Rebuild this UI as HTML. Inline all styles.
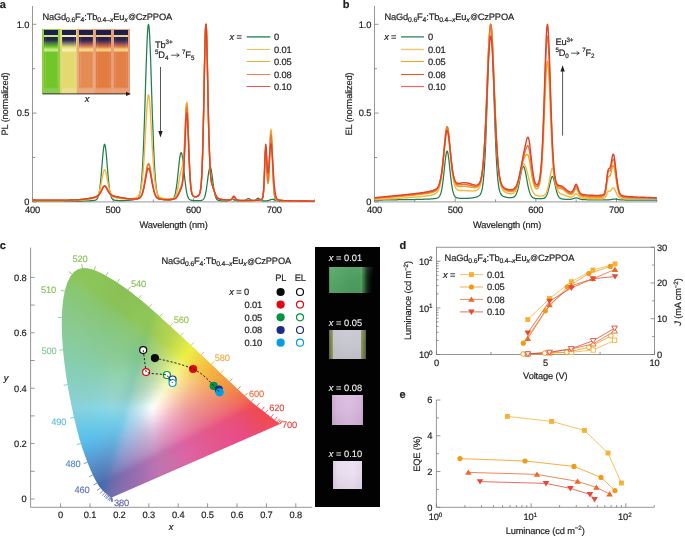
<!DOCTYPE html>
<html><head><meta charset="utf-8"><style>
html,body{margin:0;padding:0;background:#fff}
#root{position:relative;width:685px;height:537px;overflow:hidden;background:#fff}
svg{position:absolute;left:0;top:0;will-change:transform}
#root div{position:absolute}
#root b,#root i{position:absolute;display:block}
#cie i{left:0;width:100%}
#cuv b{top:0}
svg text{text-rendering:geometricPrecision;font-family:"Liberation Sans",sans-serif;fill:#231f20;stroke:#231f20;stroke-width:0.2px;letter-spacing:-0.15px}
</style></head><body><div id="root">
<div id="cuv" style="left:42.4px;top:29.4px;width:87.3px;height:64.3px;background:rgb(234,170,130)"><b style="left:0.00px;width:17.66px;height:64.3px;background:rgb(146,206,62)"></b><b style="left:1.70px;top:0.8px;width:14.16px;height:63.5px;background:linear-gradient(180deg,#1b1f4a 0,#1d2150 5px,rgb(196,232,120) 5.4px,rgb(196,232,120) 6.6px,#20224f 7.2px,#272653 10px,rgb(60,110,64) 12.5px,rgb(114,198,44) 17px,rgb(196,232,120) 19.2px,rgb(196,232,120) 20.8px,rgb(114,198,44) 22.5px,rgb(114,198,44) 57px,rgb(136,204,80) 59px,rgb(136,204,80) 64.3px)"></b><b style="left:2.30px;top:8px;width:1px;height:49px;background:rgba(255,255,255,0.1)"></b><b style="left:14.26px;top:8px;width:1px;height:49px;background:rgba(255,255,255,0.1)"></b><b style="left:17.46px;width:17.66px;height:64.3px;background:rgb(222,214,120)"></b><b style="left:19.16px;top:0.8px;width:14.16px;height:63.5px;background:linear-gradient(180deg,#1b1f4a 0,#1d2150 5px,rgb(244,238,170) 5.4px,rgb(244,238,170) 6.6px,#20224f 7.2px,#272653 10px,rgb(110,100,110) 12.5px,rgb(226,218,112) 17px,rgb(244,238,170) 19.2px,rgb(244,238,170) 20.8px,rgb(226,218,112) 22.5px,rgb(226,218,112) 57px,rgb(232,222,140) 59px,rgb(232,222,140) 64.3px)"></b><b style="left:19.76px;top:8px;width:1px;height:49px;background:rgba(255,255,255,0.1)"></b><b style="left:31.72px;top:8px;width:1px;height:49px;background:rgba(255,255,255,0.1)"></b><b style="left:34.92px;width:17.66px;height:64.3px;background:rgb(234,168,128)"></b><b style="left:36.62px;top:0.8px;width:14.16px;height:63.5px;background:linear-gradient(180deg,#1b1f4a 0,#1d2150 5px,rgb(246,212,130) 5.4px,rgb(246,212,130) 6.6px,#20224f 7.2px,#272653 10px,rgb(110,62,90) 12.5px,rgb(229,140,84) 17px,rgb(246,212,130) 19.2px,rgb(246,212,130) 20.8px,rgb(229,140,84) 22.5px,rgb(229,140,84) 57px,rgb(236,170,128) 59px,rgb(236,170,128) 64.3px)"></b><b style="left:37.22px;top:8px;width:1px;height:49px;background:rgba(255,255,255,0.1)"></b><b style="left:49.18px;top:8px;width:1px;height:49px;background:rgba(255,255,255,0.1)"></b><b style="left:52.38px;width:17.66px;height:64.3px;background:rgb(232,158,118)"></b><b style="left:54.08px;top:0.8px;width:14.16px;height:63.5px;background:linear-gradient(180deg,#1b1f4a 0,#1d2150 5px,rgb(246,200,120) 5.4px,rgb(246,200,120) 6.6px,#20224f 7.2px,#272653 10px,rgb(110,58,84) 12.5px,rgb(227,124,64) 17px,rgb(246,200,120) 19.2px,rgb(246,200,120) 20.8px,rgb(227,124,64) 22.5px,rgb(227,124,64) 57px,rgb(234,156,110) 59px,rgb(234,156,110) 64.3px)"></b><b style="left:54.68px;top:8px;width:1px;height:49px;background:rgba(255,255,255,0.1)"></b><b style="left:66.64px;top:8px;width:1px;height:49px;background:rgba(255,255,255,0.1)"></b><b style="left:69.84px;width:17.66px;height:64.3px;background:rgb(234,160,124)"></b><b style="left:71.54px;top:0.8px;width:14.16px;height:63.5px;background:linear-gradient(180deg,#1b1f4a 0,#1d2150 5px,rgb(246,204,126) 5.4px,rgb(246,204,126) 6.6px,#20224f 7.2px,#272653 10px,rgb(110,60,88) 12.5px,rgb(227,128,72) 17px,rgb(246,204,126) 19.2px,rgb(246,204,126) 20.8px,rgb(227,128,72) 22.5px,rgb(227,128,72) 57px,rgb(234,160,116) 59px,rgb(234,160,116) 64.3px)"></b><b style="left:72.14px;top:8px;width:1px;height:49px;background:rgba(255,255,255,0.1)"></b><b style="left:84.10px;top:8px;width:1px;height:49px;background:rgba(255,255,255,0.1)"></b></div><div id="cie" style="left:59px;top:266px;width:223px;height:234px"><i style="top:2px;height:3px;background:linear-gradient(90deg,#8ac358 17px,#8bc459 20px,#8bc459 24px,#8bc459 27px,#8bc459 31px,#8bc459 34px)"></i><i style="top:4px;height:3px;background:linear-gradient(90deg,#8ac358 14px,#8bc359 17px,#8bc459 21px,#8bc459 25px,#8bc459 29px,#8bc459 32px,#8bc459 36px,#8bc459 40px)"></i><i style="top:6px;height:3px;background:linear-gradient(90deg,#8ac35b 12px,#8bc359 15px,#8bc459 19px,#8bc459 22px,#8bc559 26px,#8bc559 30px,#8bc559 34px,#8bc459 37px,#8bc459 41px,#8ac358 44px)"></i><i style="top:8px;height:3px;background:linear-gradient(90deg,#8ac460 10px,#8ac45c 14px,#8bc459 18px,#8bc559 22px,#8bc559 25px,#8bc559 29px,#8bc559 33px,#8bc459 37px,#8bc459 41px,#8bc358 45px,#8ac358 48px)"></i><i style="top:10px;height:3px;background:linear-gradient(90deg,#8ac566 8px,#8ac561 12px,#8bc45c 16px,#8bc55a 20px,#8bc559 24px,#8cc55a 28px,#8cc55a 32px,#8bc559 36px,#8bc459 40px,#8bc359 44px,#8ac358 48px,#8ac258 52px)"></i><i style="top:12px;height:3px;background:linear-gradient(90deg,#89c56a 8px,#8ac566 12px,#8bc561 16px,#8bc55c 20px,#8cc55a 24px,#8cc55a 28px,#8cc55a 32px,#8bc559 36px,#8bc459 40px,#8bc459 44px,#8ac358 48px,#8ac258 52px,#8ac258 56px)"></i><i style="top:14px;height:3px;background:linear-gradient(90deg,#89c56d 6px,#8ac66a 10px,#8ac666 14px,#8bc661 18px,#8bc55c 22px,#8cc55a 26px,#8cc55a 30px,#8cc55a 34px,#8bc559 38px,#8bc459 42px,#8bc358 46px,#8ac358 50px,#8ac258 54px,#8ac257 58px)"></i><i style="top:16px;height:3px;background:linear-gradient(90deg,#89c670 6px,#89c66e 9px,#8ac66b 13px,#8ac667 17px,#8bc662 21px,#8bc65d 24px,#8cc65a 28px,#8cc55a 32px,#8cc559 36px,#8bc559 39px,#8bc459 43px,#8bc358 47px,#8ac258 51px,#8ac258 54px,#8ac257 58px,#8ac157 62px)"></i><i style="top:18px;height:3px;background:linear-gradient(90deg,#89c673 5px,#89c670 9px,#8ac66d 13px,#8ac76a 17px,#8bc766 21px,#8bc660 25px,#8cc65b 29px,#8cc55a 33px,#8bc559 37px,#8bc459 41px,#8bc359 45px,#8ac358 49px,#8ac258 53px,#8ac258 57px,#8ac157 61px,#8ac157 65px)"></i><i style="top:20px;height:3px;background:linear-gradient(90deg,#89c675 4px,#89c673 8px,#8ac770 12px,#8ac76e 16px,#8bc76a 20px,#8bc766 24px,#8bc660 28px,#8cc55b 32px,#8bc55a 36px,#8bc459 40px,#8bc459 44px,#8ac358 48px,#8ac258 52px,#8ac258 56px,#8ac157 60px,#8ac157 64px,#8ac157 68px)"></i><i style="top:22px;height:3px;background:linear-gradient(90deg,#88c677 4px,#89c775 7px,#89c773 11px,#8ac770 15px,#8ac76d 19px,#8bc76a 23px,#8bc765 27px,#8bc65f 31px,#8bc55a 35px,#8bc459 39px,#8bc459 43px,#8ac358 47px,#8ac258 51px,#8ac258 55px,#8ac157 59px,#8ac157 63px,#8ac157 67px,#8ac157 70px)"></i><i style="top:24px;height:3px;background:linear-gradient(90deg,#88c779 3px,#89c777 7px,#89c775 11px,#8ac773 15px,#8ac770 19px,#8ac76d 22px,#8bc769 26px,#8bc664 30px,#8bc55e 34px,#8bc45a 38px,#8bc459 42px,#8ac358 46px,#8ac258 50px,#8ac258 54px,#8ac257 57px,#8ac157 61px,#8ac157 65px,#8ac157 69px,#8ac157 73px)"></i><i style="top:26px;height:3px;background:linear-gradient(90deg,#88c77b 2px,#89c779 6px,#89c777 10px,#89c775 14px,#8ac773 18px,#8ac770 22px,#8ac76d 26px,#8bc769 29px,#8bc663 33px,#8bc55d 37px,#8bc459 41px,#8ac358 45px,#8ac258 49px,#8ac258 52px,#8ac257 56px,#8ac157 60px,#8ac157 64px,#8ac157 68px,#8ac157 72px,#8ac257 76px)"></i><i style="top:28px;height:3px;background:linear-gradient(90deg,#88c77d 2px,#89c77b 6px,#89c779 10px,#89c777 14px,#8ac774 18px,#8ac772 22px,#8ac76f 26px,#8ac76b 30px,#8ac665 34px,#8bc45f 38px,#8ac35a 42px,#8ac358 46px,#8ac258 50px,#8ac257 54px,#8ac157 58px,#8ac157 62px,#8ac157 66px,#8ac157 70px,#8ac257 74px,#8ac257 78px)"></i><i style="top:30px;height:3px;background:linear-gradient(90deg,#88c77e 2px,#88c77d 6px,#89c77b 10px,#89c779 14px,#89c777 18px,#8ac774 22px,#8ac771 26px,#8ac76e 30px,#8ac66a 34px,#8ac565 38px,#8ac45e 42px,#8ac359 45px,#8ac258 49px,#8ac257 53px,#8ac157 57px,#8ac157 61px,#8ac157 65px,#8ac257 69px,#8ac257 73px,#8ac257 77px,#8bc257 81px)"></i><i style="top:32px;height:3px;background:linear-gradient(90deg,#88c780 2px,#88c77f 5px,#89c77d 9px,#89c77b 13px,#89c779 17px,#8ac777 21px,#8ac774 25px,#8ac771 29px,#8ac66e 33px,#8ac669 37px,#8ac464 41px,#8ac35d 44px,#8ac259 48px,#8ac258 52px,#8ac257 56px,#8ac157 60px,#8ac157 64px,#8ac257 68px,#8ac257 72px,#8bc257 76px,#8bc357 80px,#8bc357 84px)"></i><i style="top:34px;height:3px;background:linear-gradient(90deg,#88c782 1px,#88c780 5px,#89c77f 9px,#89c77d 13px,#89c77b 16px,#89c779 20px,#8ac777 24px,#8ac774 28px,#8ac771 32px,#8ac66d 36px,#8ac569 39px,#8ac464 43px,#8ac35d 47px,#8ac259 51px,#8ac257 55px,#8ac157 59px,#8ac257 62px,#8ac257 66px,#8ac257 70px,#8bc257 74px,#8bc357 78px,#8bc357 82px,#8bc357 86px)"></i><i style="top:36px;height:3px;background:linear-gradient(90deg,#88c884 1px,#88c882 5px,#89c880 9px,#89c87e 13px,#89c87c 17px,#89c77a 21px,#89c778 25px,#89c775 29px,#89c672 33px,#89c66f 37px,#89c56b 41px,#89c466 44px,#89c35f 48px,#8ac25a 52px,#8ac158 56px,#8ac257 60px,#8ac257 64px,#8ac257 68px,#8bc357 72px,#8bc357 76px,#8cc357 80px,#8cc457 84px,#8cc457 88px)"></i><i style="top:38px;height:3px;background:linear-gradient(90deg,#88c885 1px,#89c883 5px,#89c882 9px,#89c880 13px,#89c87e 17px,#89c77c 20px,#89c77a 24px,#89c778 28px,#89c775 32px,#89c672 36px,#89c56e 40px,#89c56a 44px,#89c465 48px,#89c25e 52px,#8ac259 55px,#8ac257 59px,#8ac257 63px,#8ac257 67px,#8bc357 71px,#8bc357 75px,#8cc457 79px,#8cc457 83px,#8cc458 87px,#8cc458 90px)"></i><i style="top:40px;height:3px;background:linear-gradient(90deg,#88c887 0px,#89c885 4px,#89c883 8px,#89c882 12px,#89c880 16px,#89c77e 20px,#89c77c 24px,#89c779 28px,#89c777 32px,#89c674 36px,#89c570 40px,#89c56d 44px,#89c468 48px,#89c361 52px,#8ac25b 56px,#8ac258 60px,#8ac257 64px,#8bc357 68px,#8bc357 72px,#8cc457 76px,#8dc457 80px,#8dc558 84px,#8dc558 88px,#8cc558 92px)"></i><i style="top:42px;height:3px;background:linear-gradient(90deg,#88c888 0px,#89c887 4px,#89c885 8px,#89c883 12px,#89c881 16px,#89c880 20px,#89c77e 24px,#89c77b 28px,#89c779 32px,#89c676 36px,#89c673 40px,#89c570 44px,#89c46c 48px,#89c467 52px,#89c361 56px,#8ac25a 60px,#8ac258 64px,#8bc357 67px,#8cc357 71px,#8cc457 75px,#8dc557 79px,#8dc558 83px,#8dc558 87px,#8dc558 91px,#8ec558 95px)"></i><i style="top:44px;height:3px;background:linear-gradient(90deg,#89c88a 0px,#89c888 4px,#89c887 8px,#8ac885 12px,#8ac883 16px,#8ac881 20px,#89c77f 24px,#89c77d 28px,#89c77b 32px,#89c679 35px,#89c676 39px,#89c573 43px,#89c570 47px,#89c46c 51px,#89c467 55px,#8ac360 59px,#8ac25a 63px,#8bc358 66px,#8cc357 70px,#8cc457 74px,#8dc557 78px,#8dc658 82px,#8ec658 86px,#8dc658 90px,#8dc558 94px,#95c956 98px)"></i><i style="top:46px;height:3px;background:linear-gradient(90deg,#89c98b 0px,#89c88a 4px,#8ac888 8px,#8ac886 12px,#8ac885 16px,#8ac883 20px,#8ac881 24px,#89c77f 28px,#89c77d 32px,#89c67a 36px,#89c678 40px,#88c675 44px,#89c571 48px,#89c56e 52px,#89c469 56px,#8ac463 60px,#8ac35c 64px,#8bc358 68px,#8cc457 72px,#8dc557 76px,#8ec658 80px,#8ec658 84px,#8ec658 88px,#8dc659 92px,#91c758 96px,#9dcd55 100px)"></i><i style="top:48px;height:3px;background:linear-gradient(90deg,#89c98d 0px,#8ac98b 4px,#8ac88a 8px,#8ac888 12px,#8ac886 16px,#8ac885 20px,#8ac883 24px,#89c781 27px,#89c77f 31px,#89c77d 35px,#89c67a 39px,#88c678 43px,#88c575 47px,#89c571 51px,#89c56d 55px,#89c469 59px,#8ac463 63px,#8bc45c 67px,#8cc458 71px,#8dc557 75px,#8ec658 78px,#8ec758 82px,#8ec758 86px,#8dc659 90px,#90c758 94px,#9acc56 98px,#a3cf53 102px)"></i><i style="top:50px;height:3px;background:linear-gradient(90deg,#89c98e 0px,#8ac98d 4px,#8ac98b 8px,#8ac88a 12px,#8ac888 16px,#8ac886 20px,#8ac884 24px,#89c882 28px,#89c780 32px,#89c77e 36px,#88c67c 40px,#88c679 44px,#88c676 48px,#89c573 52px,#89c56f 56px,#89c56b 60px,#8ac565 64px,#8bc45e 68px,#8dc559 72px,#8dc658 76px,#8ec658 80px,#8ec758 84px,#8ec759 88px,#8ec659 92px,#96ca57 96px,#a0ce54 100px,#a7d153 104px)"></i><i style="top:52px;height:3px;background:linear-gradient(90deg,#89c990 0px,#8ac98e 4px,#8ac98d 8px,#8bc98b 12px,#8bc98a 16px,#8ac888 20px,#8ac886 24px,#8ac884 28px,#89c782 32px,#89c780 36px,#88c77e 39px,#88c67c 43px,#88c679 47px,#88c676 51px,#89c573 55px,#89c56f 59px,#8ac56b 63px,#8bc565 67px,#8cc55e 71px,#8dc659 75px,#8ec658 79px,#8ec758 83px,#8ec759 87px,#8dc659 91px,#94c958 95px,#9ece55 99px,#a6d053 103px,#abd252 106px)"></i><i style="top:54px;height:3px;background:linear-gradient(90deg,#8ac991 0px,#8ac990 4px,#8bc98e 8px,#8bc98d 12px,#8bc98b 16px,#8bc98a 19px,#8ac888 23px,#8ac886 27px,#89c885 31px,#89c783 35px,#88c780 39px,#88c77e 43px,#88c67c 46px,#88c679 50px,#89c676 54px,#89c673 58px,#8ac66f 62px,#8bc66b 66px,#8cc665 70px,#8dc65e 74px,#8ec659 78px,#8ec758 81px,#8ec759 85px,#8dc659 89px,#91c859 93px,#9bcc56 97px,#a3cf54 101px,#a9d153 105px,#afd351 108px)"></i><i style="top:56px;height:3px;background:linear-gradient(90deg,#8aca93 0px,#8ac991 4px,#8bc990 8px,#8bc98e 12px,#8bc98d 16px,#8bc98b 20px,#8ac88a 24px,#8ac888 28px,#89c886 32px,#89c884 36px,#88c782 39px,#88c780 43px,#88c77d 47px,#88c67b 51px,#89c678 55px,#89c674 59px,#8ac671 63px,#8bc76d 67px,#8cc767 71px,#8dc761 75px,#8ec75b 79px,#8ec759 83px,#8dc759 87px,#8ec659 91px,#97ca57 95px,#a0ce55 99px,#a7d053 103px,#acd252 107px,#b2d450 110px)"></i><i style="top:58px;height:3px;background:linear-gradient(90deg,#8aca94 0px,#8bca93 4px,#8bca91 8px,#8bc990 12px,#8bc98e 16px,#8bc98d 19px,#8ac98b 23px,#8ac88a 27px,#89c888 31px,#89c886 35px,#88c784 39px,#88c782 43px,#88c780 47px,#88c77d 51px,#88c67a 55px,#89c678 58px,#8ac774 62px,#8ac771 66px,#8bc76d 70px,#8cc867 74px,#8dc761 78px,#8dc75b 82px,#8dc659 86px,#8dc659 90px,#94c958 94px,#9fcd56 97px,#a5cf54 101px,#aad152 105px,#b0d351 109px,#b6d64f 113px)"></i><i style="top:60px;height:3px;background:linear-gradient(90deg,#8aca96 0px,#8bca94 4px,#8bca93 8px,#8bca91 12px,#8bc990 16px,#8bc98e 20px,#8ac98d 24px,#8ac98b 28px,#89c889 32px,#89c888 36px,#88c886 40px,#88c783 44px,#88c781 48px,#88c77f 52px,#88c77c 56px,#89c779 59px,#8ac776 63px,#8ac773 67px,#8bc86f 71px,#8cc86a 75px,#8dc863 79px,#8dc75d 83px,#8cc65a 87px,#8fc759 91px,#9acb56 95px,#a2ce55 99px,#a8d053 103px,#add252 107px,#b3d450 111px,#bad74e 115px)"></i><i style="top:62px;height:3px;background:linear-gradient(90deg,#8aca97 0px,#8bca96 4px,#8bca94 8px,#8cca93 12px,#8bca92 16px,#8bc990 20px,#8bc98f 24px,#8ac98d 27px,#89c98b 31px,#89c88a 35px,#88c888 39px,#88c885 43px,#88c783 47px,#88c781 51px,#88c77f 55px,#89c77c 59px,#89c779 63px,#8ac876 67px,#8bc873 70px,#8bc86f 74px,#8cc86a 78px,#8cc763 82px,#8bc65d 86px,#8ec65a 90px,#98ca57 94px,#a1ce55 98px,#a6cf54 102px,#acd152 106px,#b2d351 110px,#b8d64f 114px,#bfd94d 118px)"></i><i style="top:64px;height:3px;background:linear-gradient(90deg,#8acb99 0px,#8bca97 4px,#8bca96 8px,#8bca95 12px,#8bca93 16px,#8bca92 20px,#8ac990 24px,#8ac98f 28px,#89c98d 32px,#89c88b 36px,#88c889 40px,#88c887 44px,#88c885 48px,#88c782 52px,#88c780 56px,#89c77d 60px,#89c87b 64px,#8ac878 68px,#8bc874 72px,#8bc871 76px,#8bc86c 80px,#8bc766 84px,#8ac55f 88px,#92c859 92px,#9dcc56 96px,#a4ce54 100px,#a9d053 104px,#afd251 108px,#b5d550 112px,#bcd84e 116px,#c4dc4c 120px)"></i><i style="top:66px;height:3px;background:linear-gradient(90deg,#8acb9a 0px,#8bcb99 4px,#8bca98 8px,#8bca96 12px,#8bca95 16px,#8bca93 20px,#8aca92 24px,#8ac990 27px,#89c98f 31px,#89c98d 35px,#88c88b 39px,#88c889 43px,#88c887 47px,#88c885 51px,#88c882 55px,#89c880 59px,#89c87e 63px,#89c87b 67px,#8ac878 71px,#8ac875 74px,#8ac871 78px,#8ac76d 82px,#89c667 86px,#8fc75f 90px,#9acb57 94px,#a2cd54 98px,#a7cf53 102px,#add152 106px,#b3d350 110px,#bad74e 114px,#c1da4d 118px,#c9de4b 122px)"></i><i style="top:68px;height:3px;background:linear-gradient(90deg,#8acb9c 0px,#8acb9a 4px,#8bcb99 8px,#8bca98 12px,#8bca96 16px,#8bca95 20px,#8aca93 24px,#89c992 28px,#89c990 32px,#89c98e 36px,#88c98c 40px,#88c88a 44px,#88c888 48px,#88c886 52px,#88c883 56px,#89c881 60px,#89c87f 64px,#89c87c 68px,#89c879 72px,#89c876 76px,#89c773 80px,#88c66f 84px,#8ac668 88px,#96ca5e 92px,#9fcc56 96px,#a5ce53 100px,#abd052 104px,#b1d350 108px,#b8d64f 112px,#bfd94d 116px,#c7dd4b 120px,#cfe249 124px)"></i><i style="top:70px;height:3px;background:linear-gradient(90deg,#89cb9d 0px,#8acb9c 4px,#8bcb9b 8px,#8bcb99 12px,#8bca98 16px,#8aca97 20px,#8aca95 24px,#89ca94 28px,#89c992 32px,#89c990 36px,#88c98e 40px,#88c98c 44px,#88c88a 48px,#88c888 51px,#88c886 55px,#89c884 59px,#89c881 63px,#89c87f 67px,#89c87d 71px,#89c87a 75px,#88c777 79px,#87c673 83px,#88c66f 87px,#92c967 91px,#9dcc5d 95px,#a4ce55 99px,#a9d052 102px,#afd250 106px,#b6d54f 110px,#bdd84d 114px,#c5dc4c 118px,#cde04a 122px,#d5e548 126px)"></i><i style="top:72px;height:3px;background:linear-gradient(90deg,#89cb9f 0px,#8acb9e 4px,#8acb9c 8px,#8acb9b 12px,#8acb9a 16px,#8aca98 20px,#8aca97 24px,#89ca95 28px,#89ca93 32px,#89c991 36px,#88c98f 40px,#88c98d 44px,#88c88b 48px,#89c889 52px,#89c887 56px,#89c885 60px,#89c883 64px,#89c881 68px,#88c87e 72px,#88c77c 76px,#87c779 80px,#86c575 84px,#8bc770 88px,#98cb69 92px,#a0cd5f 96px,#a7cf56 100px,#add151 104px,#b3d34f 108px,#bbd74e 112px,#c2db4c 116px,#cbdf4b 120px,#d3e349 124px,#dbe847 128px)"></i><i style="top:74px;height:3px;background:linear-gradient(90deg,#89cca0 0px,#89cb9f 4px,#8acb9e 8px,#8acb9d 12px,#8acb9b 16px,#8acb9a 20px,#89ca99 24px,#89ca97 28px,#89ca95 32px,#88ca93 36px,#88c991 40px,#88c98f 44px,#89c98d 48px,#89c98b 52px,#89c889 55px,#89c887 59px,#89c885 63px,#88c883 67px,#88c881 71px,#87c77f 75px,#86c77c 79px,#85c579 83px,#88c675 87px,#95ca6f 91px,#9ecd68 95px,#a5cf5e 99px,#abd055 103px,#b2d350 106px,#b9d64e 110px,#c1da4c 114px,#c9de4b 118px,#d1e249 122px,#d9e748 126px,#e1eb46 130px)"></i><i style="top:76px;height:3px;background:linear-gradient(90deg,#89cca2 1px,#89cca1 5px,#89cca0 9px,#8acb9e 13px,#8acb9d 17px,#89cb9b 21px,#89cb9a 25px,#89ca98 29px,#89ca96 33px,#88ca94 37px,#89c992 41px,#89c990 45px,#89c98e 49px,#89c98c 53px,#89c98a 57px,#89c888 61px,#88c886 65px,#88c884 69px,#87c782 73px,#86c780 77px,#84c67d 81px,#84c57a 85px,#8fc976 89px,#9bcd70 93px,#a3cf69 97px,#a9d15f 101px,#b0d354 105px,#b7d54e 109px,#bfd94c 113px,#c7dd4b 117px,#d0e249 121px,#d8e648 125px,#e0eb46 129px,#e7ee45 132px)"></i><i style="top:78px;height:3px;background:linear-gradient(90deg,#88cca4 1px,#89cca2 5px,#89cca1 9px,#89cca0 13px,#89cb9f 17px,#89cb9d 21px,#89cb9c 25px,#89cb9a 28px,#88ca98 32px,#88ca96 36px,#89ca94 40px,#89c992 44px,#89c990 48px,#89c98e 52px,#89c98c 56px,#89c98a 60px,#88c889 64px,#88c887 68px,#87c885 72px,#85c783 76px,#84c680 80px,#83c57e 83px,#8bc77a 87px,#98cc75 91px,#a1cf6f 95px,#a8d168 99px,#afd35e 103px,#b6d554 107px,#bdd84d 111px,#c6dd4b 115px,#cee149 119px,#d6e548 123px,#dfea46 127px,#e6ee45 131px,#eced44 134px)"></i><i style="top:80px;height:3px;background:linear-gradient(90deg,#88cca5 1px,#88cca4 5px,#89cca3 9px,#89cca2 13px,#89cca0 17px,#89cb9f 21px,#88cb9d 25px,#88cb9c 29px,#88cb9a 33px,#88ca97 37px,#89ca95 41px,#89ca93 45px,#89c991 49px,#89c98f 53px,#89c98d 57px,#89c98c 61px,#88c88a 65px,#87c888 69px,#86c787 73px,#84c684 77px,#82c582 81px,#84c57f 85px,#91ca7b 89px,#9cce76 93px,#a4d071 97px,#acd36a 101px,#b3d561 105px,#bbd855 109px,#c3db4d 113px,#cbe04a 117px,#d4e448 121px,#dde947 125px,#e5ed45 129px,#ebee44 133px,#eee845 136px)"></i><i style="top:82px;height:3px;background:linear-gradient(90deg,#87cca7 1px,#88cca6 5px,#88cca5 9px,#88cca4 13px,#88cca2 17px,#88cca1 21px,#88cb9f 25px,#88cb9d 29px,#88cb9b 33px,#88ca99 36px,#89ca97 40px,#89ca95 44px,#89ca93 48px,#8ac991 52px,#89c98f 56px,#89c98e 60px,#88c98c 64px,#87c88b 68px,#85c789 72px,#84c687 76px,#81c585 80px,#83c582 84px,#8fc97e 88px,#9bcd7a 92px,#a3d075 96px,#abd370 100px,#b3d669 104px,#bbd95f 107px,#c3dc53 111px,#cbe04b 115px,#d4e448 119px,#dce947 123px,#e4ed45 127px,#ebee44 131px,#eee845 135px,#f0e046 139px)"></i><i style="top:84px;height:3px;background:linear-gradient(90deg,#87cda9 2px,#87cda7 5px,#88cca6 9px,#88cca5 13px,#88cca4 17px,#88cca2 21px,#88cca1 25px,#88cb9f 29px,#88cb9d 33px,#89cb9a 37px,#89ca98 41px,#89ca96 45px,#8aca94 49px,#8aca92 53px,#8aca90 57px,#89c98f 61px,#88c98e 65px,#86c88c 69px,#84c78b 73px,#82c688 77px,#80c486 81px,#87c683 85px,#95cc7f 89px,#9fcf7b 93px,#a7d276 97px,#b0d571 101px,#b8d86a 105px,#c0dc61 109px,#c9df55 113px,#d1e34b 117px,#dae847 121px,#e2ec45 125px,#eaee44 129px,#eeea45 133px,#efe245 137px,#f1da46 141px)"></i><i style="top:86px;height:3px;background:linear-gradient(90deg,#87cdaa 2px,#87cda9 5px,#87cda8 9px,#87cca7 13px,#87cca6 17px,#88cca4 21px,#88cca3 25px,#88cca1 29px,#88cb9f 33px,#89cb9c 37px,#89cb9a 41px,#8aca98 45px,#8aca96 49px,#8aca94 53px,#8aca93 57px,#8aca91 60px,#89c990 64px,#87c98f 68px,#85c78d 72px,#82c68b 76px,#80c489 80px,#85c686 84px,#93cb83 88px,#9dcf7f 92px,#a6d27b 96px,#aed576 100px,#b7d871 104px,#c0dc6a 108px,#c8e061 112px,#d1e455 115px,#d9e84a 119px,#e1ec45 123px,#e9ee44 127px,#edeb44 131px,#efe345 135px,#f1db46 139px,#f2d546 143px)"></i><i style="top:88px;height:3px;background:linear-gradient(90deg,#87cdac 2px,#87cdab 6px,#87cdaa 10px,#87cda9 14px,#87cca7 18px,#87cca6 22px,#87cca4 26px,#88cca2 30px,#88cba0 34px,#89cb9e 38px,#89cb9b 42px,#8acb99 46px,#8acb97 50px,#8bcb95 54px,#8aca94 58px,#8aca93 62px,#88ca92 66px,#86c990 70px,#84c78f 74px,#81c58d 77px,#80c48a 81px,#8bc887 85px,#98cd84 89px,#a1d080 93px,#aad47c 97px,#b3d778 101px,#bcdb73 105px,#c6df6c 109px,#cfe464 113px,#d7e857 117px,#e0eb4b 121px,#e7ee45 125px,#edec44 129px,#efe445 133px,#f1dd46 137px,#f2d646 141px,#f3cf46 145px)"></i><i style="top:90px;height:3px;background:linear-gradient(90deg,#86cdae 2px,#86cdad 6px,#87cdac 10px,#87cdaa 14px,#87cda9 18px,#87cca8 22px,#87cca6 26px,#88cca4 30px,#88cca2 33px,#89cca0 37px,#89cb9d 41px,#8acb9b 45px,#8bcb99 49px,#8bcb98 53px,#8bcb96 57px,#8acb95 61px,#89ca94 65px,#87c993 69px,#84c891 73px,#81c690 77px,#80c58d 81px,#8ac88b 85px,#97cd87 89px,#a0d084 92px,#a9d481 96px,#b2d77d 100px,#bcdc78 104px,#c6e073 108px,#cfe46c 112px,#d8e963 116px,#e0ec56 120px,#e8ef4a 124px,#edec44 128px,#efe445 132px,#f1dd45 136px,#f2d646 140px,#f3cf45 144px,#f3c945 148px)"></i><i style="top:92px;height:3px;background:linear-gradient(90deg,#86ceaf 2px,#86cdae 6px,#86cdad 10px,#87cdac 14px,#87cdab 18px,#87cda9 22px,#87cca8 26px,#87cca6 30px,#88cca4 34px,#89cca1 38px,#8acc9f 42px,#8acc9d 46px,#8bcc9b 50px,#8bcc99 54px,#8bcc98 58px,#8bcb97 62px,#89cb96 66px,#87c995 70px,#83c893 74px,#80c591 78px,#83c68f 82px,#90cb8c 86px,#9bcf89 90px,#a5d286 94px,#aed683 98px,#b8da7f 102px,#c2df7a 106px,#cce375 110px,#d6e86f 114px,#dfec66 118px,#e7f059 122px,#ecee4c 126px,#efe746 130px,#f1de45 134px,#f2d745 138px,#f3d045 142px,#f4ca45 146px,#f4c444 150px)"></i><i style="top:94px;height:3px;background:linear-gradient(90deg,#86ceb1 2px,#86ceb0 6px,#86cdaf 10px,#86cdae 14px,#86cdad 18px,#87cdab 22px,#87cdaa 26px,#87cda8 30px,#88cca6 34px,#89cca3 38px,#8acca1 42px,#8bcc9f 46px,#8bcc9d 50px,#8ccc9c 53px,#8ccc9b 57px,#8bcc9a 61px,#8acb99 65px,#88ca98 69px,#84c896 73px,#81c694 77px,#82c692 81px,#90cb8f 85px,#9bcf8d 89px,#a4d28a 93px,#add687 97px,#b7da83 101px,#c1df80 104px,#cbe37b 108px,#d6e876 112px,#dfed6f 116px,#e8f166 120px,#edf05a 124px,#efe84d 128px,#f1df46 132px,#f2d845 136px,#f3d145 140px,#f4cb45 144px,#f4c544 148px,#f4c044 152px)"></i><i style="top:96px;height:3px;background:linear-gradient(90deg,#86ceb3 2px,#86ceb2 6px,#86ceb1 10px,#86ceb0 14px,#86cdae 18px,#87cdad 22px,#87cdab 26px,#87cda9 30px,#88cda7 34px,#89cda5 38px,#8acca3 42px,#8bcda1 46px,#8ccd9f 50px,#8dcd9e 54px,#8dcd9d 58px,#8ccd9c 62px,#8acc9b 66px,#87cb9a 70px,#84c898 74px,#81c696 78px,#88c894 82px,#96cd92 86px,#9fd08f 90px,#a9d48c 94px,#b2d889 98px,#bddd86 102px,#c7e282 106px,#d2e77e 110px,#dcec79 114px,#e6f172 118px,#edf269 122px,#f0ec5d 126px,#f1e250 130px,#f2d948 134px,#f3d245 138px,#f4cb45 142px,#f4c644 146px,#f4c043 150px,#f4bb43 154px)"></i><i style="top:98px;height:3px;background:linear-gradient(90deg,#86ceb4 3px,#86ceb3 7px,#86ceb2 11px,#86ceb1 15px,#86ceb0 19px,#87cdaf 23px,#87cdad 27px,#87cdab 30px,#88cda9 34px,#89cda7 38px,#8acda5 42px,#8bcda3 46px,#8ccda2 50px,#8dcea1 54px,#8dcea0 58px,#8dce9f 62px,#8bcd9e 66px,#88cb9d 70px,#85c99b 74px,#81c799 78px,#89c997 81px,#96cd95 85px,#a0d092 89px,#a9d490 93px,#b3d88d 97px,#bddd8b 101px,#c8e287 105px,#d3e884 109px,#dded7f 113px,#e7f279 117px,#eff372 121px,#f1ec67 125px,#f2e35c 129px,#f2da4f 132px,#f3d247 136px,#f4cb45 140px,#f4c544 144px,#f5c043 148px,#f5bb43 152px,#f4b742 156px)"></i><i style="top:100px;height:3px;background:linear-gradient(90deg,#86ceb6 3px,#86ceb5 7px,#86ceb4 11px,#86ceb3 15px,#86ceb2 19px,#87ceb1 23px,#87cdaf 27px,#87cdad 31px,#88cdab 35px,#89cda9 39px,#8acda7 43px,#8ccea6 47px,#8dcea4 51px,#8ecfa3 55px,#8ecfa2 59px,#8dcfa1 63px,#8ccea0 67px,#88cc9f 71px,#84c99d 75px,#83c89b 79px,#90cb99 82px,#9ccf97 86px,#a5d295 90px,#aed693 94px,#b8db90 98px,#c3e08e 102px,#cfe68b 106px,#daec87 110px,#e5f182 114px,#eef47c 118px,#f2f073 122px,#f3e669 126px,#f3dd5e 130px,#f3d452 134px,#f4cd48 138px,#f5c645 142px,#f5c144 146px,#f5bc43 150px,#f4b742 154px,#f4b342 158px)"></i><i style="top:102px;height:3px;background:linear-gradient(90deg,#86cfb8 4px,#86ceb7 7px,#86ceb6 11px,#86ceb5 15px,#86ceb4 19px,#87ceb2 23px,#87ceb1 27px,#87ceaf 31px,#88ceae 35px,#89ceac 39px,#8aceaa 43px,#8ccea8 47px,#8dcfa7 50px,#8ecfa6 54px,#8fd0a5 58px,#8ecfa4 62px,#8dcea3 66px,#8acda2 70px,#85caa0 74px,#85c89e 78px,#91cc9d 82px,#9ccf9b 86px,#a5d299 90px,#aed697 93px,#b8da95 97px,#c3e093 101px,#cfe690 105px,#daec8d 109px,#e5f289 113px,#eef584 117px,#f2f17b 121px,#f3e872 125px,#f4df68 129px,#f4d65e 133px,#f4ce52 137px,#f5c748 140px,#f5c144 144px,#f5bc43 148px,#f5b742 152px,#f4b342 156px,#f3af42 160px)"></i><i style="top:104px;height:3px;background:linear-gradient(90deg,#86cfb9 4px,#86cfb8 7px,#86ceb7 11px,#86ceb6 15px,#87ceb5 19px,#87ceb4 23px,#87ceb3 27px,#88ceb1 31px,#88ceb0 35px,#89ceae 39px,#8bceac 43px,#8ccfab 47px,#8ed0aa 51px,#8fd0a9 55px,#90d0a8 59px,#8fd0a7 63px,#8dcfa6 67px,#89cda4 71px,#85caa2 75px,#89caa1 79px,#97ce9f 83px,#a1d19e 87px,#aad49c 91px,#b4d89a 95px,#bfdd98 99px,#cae396 103px,#d6ea94 107px,#e2f091 110px,#edf58d 114px,#f3f485 118px,#f4eb7c 122px,#f4e273 126px,#f5d969 130px,#f5d15f 134px,#f5c954 138px,#f5c24a 142px,#f5bc44 146px,#f5b743 150px,#f5b342 154px,#f4af42 158px,#f3ab42 162px)"></i><i style="top:106px;height:3px;background:linear-gradient(90deg,#86cfbb 4px,#86cfba 8px,#86ceb9 12px,#87ceb8 16px,#87ceb7 20px,#87ceb6 24px,#87ceb5 27px,#88ceb4 31px,#88ceb2 35px,#89cfb1 39px,#8bcfaf 43px,#8dd0ae 47px,#8ed0ac 51px,#90d1ab 55px,#91d1aa 59px,#90d1aa 63px,#8ed0a8 67px,#8acda7 71px,#86caa5 74px,#8bcba4 78px,#99cfa3 82px,#a2d1a1 86px,#abd4a0 90px,#b5d89e 94px,#c0dd9d 98px,#cbe49b 102px,#d8ea99 106px,#e3f197 110px,#eef693 114px,#f4f48b 118px,#f5eb82 121px,#f5e279 125px,#f5d970 129px,#f5d167 133px,#f5c95e 137px,#f5c253 141px,#f5bc49 145px,#f5b644 149px,#f5b242 153px,#f4ae42 157px,#f3aa42 161px,#f2a643 164px)"></i><i style="top:108px;height:3px;background:linear-gradient(90deg,#86cfbd 4px,#86cfbc 8px,#87cfbb 12px,#87ceba 16px,#87ceb9 20px,#87ceb8 24px,#87ceb7 28px,#88ceb5 32px,#89cfb4 36px,#8acfb3 40px,#8cd0b1 44px,#8ed0b0 48px,#8fd1af 52px,#91d2ae 56px,#91d2ad 60px,#91d1ac 64px,#8ecfab 68px,#8acda9 72px,#87caa7 76px,#92cda6 80px,#9fd0a5 84px,#a8d3a4 87px,#b1d6a3 91px,#bbdba2 95px,#c7e1a1 99px,#d3e8a0 103px,#e0ef9e 107px,#ecf59b 111px,#f4f695 115px,#f6ef8b 119px,#f6e582 123px,#f6dc79 127px,#f6d370 131px,#f5cb68 135px,#f5c45f 139px,#f5bd54 143px,#f5b74a 147px,#f5b244 151px,#f4ae42 155px,#f3aa42 159px,#f2a642 163px,#f2a243 166px)"></i><i style="top:110px;height:3px;background:linear-gradient(90deg,#86cfbe 4px,#87cfbd 8px,#87cfbc 12px,#87cfbb 16px,#87ceba 20px,#87ceba 24px,#88cfb9 28px,#88cfb8 32px,#89cfb6 36px,#8acfb5 40px,#8cd0b4 44px,#8ed1b3 48px,#90d2b2 52px,#92d2b1 56px,#92d2af 60px,#91d1ae 64px,#8ecfad 68px,#89ccab 72px,#8bcbaa 76px,#99cfa9 80px,#a3d1a8 84px,#acd4a7 88px,#b6d8a7 92px,#c2dea6 96px,#cee5a5 100px,#dbeca4 104px,#e8f3a2 108px,#f2f79e 112px,#f6f295 116px,#f7e98b 120px,#f7e082 124px,#f6d679 128px,#f6ce71 132px,#f5c669 136px,#f5bf60 140px,#f5b956 144px,#f5b34c 148px,#f5ae45 152px,#f4aa43 156px,#f3a643 160px,#f2a243 164px,#f19e44 168px)"></i><i style="top:112px;height:3px;background:linear-gradient(90deg,#87cfc0 5px,#87cfbf 9px,#87cfbe 13px,#88cfbd 17px,#88cfbc 21px,#88cfbb 25px,#88cfbb 29px,#88cfba 33px,#89cfb9 37px,#8bd0b8 41px,#8cd1b7 45px,#8fd1b5 48px,#91d2b4 52px,#93d3b3 56px,#93d3b2 60px,#92d1b1 64px,#8ecfaf 68px,#8accad 72px,#8cccac 76px,#9acfac 80px,#a4d2ac 84px,#aed5ab 88px,#b8d9ab 92px,#c3deab 96px,#d0e5aa 100px,#ddedaa 104px,#eaf4a8 108px,#f4f7a4 112px,#f7f29b 116px,#f7e991 120px,#f7df87 124px,#f7d67f 128px,#f6ce77 131px,#f6c66f 135px,#f5bf67 139px,#f5b85e 143px,#f4b255 147px,#f4ad4b 151px,#f4a945 155px,#f3a543 159px,#f2a143 163px,#f19e44 167px,#f19a46 171px)"></i><i style="top:114px;height:3px;background:linear-gradient(90deg,#87cfc1 5px,#87cfc0 9px,#88cfbf 13px,#88cfbf 17px,#88cfbe 21px,#88cfbd 25px,#88cfbd 29px,#89cfbc 33px,#8ad0bb 37px,#8bd0ba 41px,#8dd1b9 45px,#90d2b8 49px,#92d3b7 53px,#93d3b6 57px,#93d2b4 61px,#91d1b3 65px,#8dceb1 69px,#89cbaf 73px,#92cdaf 77px,#9fd0af 81px,#a9d3af 85px,#b2d6af 89px,#bedbaf 93px,#cae2af 97px,#d7e9b0 101px,#e5f1af 105px,#f1f7ad 109px,#f7f5a5 113px,#f8ec9a 117px,#f8e390 121px,#f8d987 125px,#f7d07f 129px,#f6c877 133px,#f5c06f 137px,#f5b967 141px,#f4b35f 145px,#f4ae57 149px,#f4a94d 153px,#f3a546 157px,#f2a144 161px,#f19d44 165px,#f19946 169px,#f09547 173px)"></i><i style="top:116px;height:3px;background:linear-gradient(90deg,#87cfc3 6px,#88cfc2 9px,#88cfc1 13px,#89cfc0 17px,#89cfc0 21px,#89cfbf 25px,#89cfbf 29px,#89cfbe 33px,#8ad0bd 37px,#8bd1bd 41px,#8dd1bc 45px,#90d2bb 49px,#92d3b9 53px,#94d3b8 57px,#94d2b7 61px,#92d1b5 65px,#8eceb3 69px,#8acbb2 73px,#92cdb1 76px,#a0d1b2 80px,#a9d3b2 84px,#b3d7b2 88px,#bedcb3 92px,#cbe2b4 96px,#d8eab5 100px,#e6f1b5 104px,#f2f7b3 108px,#f7f4ab 112px,#f8eca0 116px,#f8e396 120px,#f8d98d 124px,#f7d084 128px,#f6c87d 132px,#f6c075 136px,#f5b96e 140px,#f4b367 143px,#f4ae5f 147px,#f3a957 151px,#f3a44e 155px,#f2a048 159px,#f29c45 163px,#f19946 167px,#f09547 171px,#f09049 175px)"></i><i style="top:118px;height:3px;background:linear-gradient(90deg,#88cfc5 6px,#88cfc4 10px,#89cfc3 14px,#89cfc2 18px,#89cfc1 22px,#89cfc1 26px,#89cfc1 30px,#89d0c0 34px,#8ad0c0 38px,#8cd1bf 42px,#8ed2be 46px,#91d2bd 50px,#93d3bc 54px,#95d3ba 58px,#94d2b9 62px,#91d0b7 66px,#8ccdb5 70px,#8ccbb4 74px,#99cfb4 78px,#a5d2b5 82px,#aed5b6 86px,#b9d9b7 90px,#c5dfb8 93px,#d3e6ba 97px,#e1eebb 101px,#eff6ba 105px,#f7f6b5 109px,#f9efa9 113px,#f9e59f 117px,#f9dc95 121px,#f8d38c 125px,#f7ca84 129px,#f6c27d 133px,#f5ba75 137px,#f4b36e 141px,#f3ae67 145px,#f3a960 149px,#f2a459 153px,#f2a051 157px,#f29c4a 161px,#f19847 165px,#f19447 169px,#f09049 173px,#f08b4a 177px)"></i><i style="top:120px;height:3px;background:linear-gradient(90deg,#88d0c6 6px,#89cfc5 10px,#89cfc4 14px,#8acfc4 18px,#8acfc3 22px,#8acfc3 26px,#89cfc3 30px,#8ad0c3 34px,#8bd1c2 38px,#8cd1c2 41px,#8fd2c1 45px,#91d3c0 49px,#94d3be 53px,#95d3bd 57px,#95d2bb 61px,#92d0b9 65px,#8dcdb7 69px,#8ccbb6 73px,#9acfb7 77px,#a5d2b8 81px,#afd5b9 85px,#badabb 89px,#c6e0bd 93px,#d4e7bf 97px,#e3efc0 101px,#f0f6c0 105px,#f8f6ba 109px,#f9eeae 112px,#f9e4a3 116px,#f9db9a 120px,#f8d291 124px,#f7c989 128px,#f6c181 132px,#f5b97a 136px,#f4b274 140px,#f3ac6d 144px,#f3a866 148px,#f2a360 152px,#f19f59 156px,#f19b51 160px,#f1974b 164px,#f19348 168px,#f08f49 172px,#f08a4a 176px,#f1864c 180px)"></i><i style="top:122px;height:3px;background:linear-gradient(90deg,#89d0c8 6px,#89cfc7 10px,#8acfc6 14px,#8acfc5 18px,#8acfc5 22px,#8acfc5 26px,#8ad0c5 30px,#8ad0c5 34px,#8bd1c5 38px,#8dd2c4 42px,#90d2c3 46px,#92d3c2 50px,#95d3c1 54px,#95d2bf 58px,#94d1bd 62px,#90cebb 66px,#8bcbb9 70px,#92ccb9 74px,#a0d1bb 78px,#aad4bc 82px,#b5d8be 86px,#c1ddc0 90px,#cfe4c2 94px,#ddecc5 98px,#ecf4c7 102px,#f6f7c3 106px,#f9f0b8 110px,#f9e7ad 114px,#f9dea2 118px,#f8d499 122px,#f7cb90 126px,#f6c288 130px,#f5ba81 134px,#f4b37a 138px,#f3ad74 142px,#f3a76e 146px,#f2a367 150px,#f19f61 154px,#f19b5b 158px,#f09754 162px,#f1924d 166px,#f18e4a 170px,#f18a4b 174px,#f1854c 178px,#f1814e 182px)"></i><i style="top:124px;height:3px;background:linear-gradient(90deg,#89d0ca 7px,#8acfc9 11px,#8bcfc8 15px,#8bcfc7 19px,#8bcfc7 23px,#8ad0c7 27px,#8ad0c7 31px,#8ad1c7 34px,#8bd1c7 38px,#8dd2c7 42px,#90d3c6 46px,#93d3c5 50px,#95d3c3 54px,#96d2c1 58px,#94d1bf 62px,#90cebd 66px,#8ccbbb 70px,#93cdbc 74px,#a1d1be 78px,#acd5bf 82px,#b6d9c1 85px,#c2dfc4 89px,#d0e6c7 93px,#dfeeca 97px,#eef5cc 101px,#f7f6c8 105px,#f9efbd 109px,#f9e6b1 113px,#f9dda7 117px,#f8d39d 121px,#f7ca95 125px,#f6c18d 129px,#f5b986 133px,#f4b27f 136px,#f3ab79 140px,#f2a673 144px,#f2a16d 148px,#f19d67 152px,#f09a61 156px,#f0965b 160px,#f09255 164px,#f08d4f 168px,#f1894c 172px,#f1844c 176px,#f1804e 180px,#f17b4f 184px)"></i><i style="top:126px;height:3px;background:linear-gradient(90deg,#89d0cc 7px,#8acfcb 11px,#8bcfca 15px,#8bcfc9 19px,#8bcfc9 23px,#8ad0ca 27px,#8ad0ca 31px,#8bd1ca 35px,#8cd2ca 39px,#8ed2c9 43px,#90d3c9 47px,#93d3c7 51px,#95d3c6 55px,#96d2c4 59px,#94d0c1 63px,#8fcdbf 66px,#8ccbbe 70px,#99cfc0 74px,#a6d3c2 78px,#b1d7c4 82px,#bcddc7 86px,#cae3ca 90px,#d9ebce 94px,#e8f3d1 98px,#f5f7d1 102px,#f9f3c8 106px,#fae9bb 110px,#f9e0b0 114px,#f8d6a6 118px,#f7cc9c 122px,#f6c394 126px,#f5ba8c 130px,#f4b286 134px,#f3ac7f 138px,#f2a67a 142px,#f2a174 146px,#f19d6e 150px,#f09968 154px,#f09563 158px,#ef915d 162px,#ef8d58 166px,#f08852 170px,#f1834e 174px,#f17f4e 178px,#f17a4f 182px,#f27650 186px)"></i><i style="top:128px;height:3px;background:linear-gradient(90deg,#8ad0ce 8px,#8bd0cd 11px,#8bcfcc 15px,#8bcfcc 19px,#8bd0cc 23px,#8bd0cc 27px,#8ad1cc 31px,#8bd1cd 35px,#8cd2cd 39px,#8ed3cc 43px,#90d3cb 47px,#93d3ca 51px,#95d3c8 55px,#96d2c6 59px,#94d0c4 62px,#8fcdc2 66px,#8eccc1 70px,#9cd0c3 74px,#a9d5c6 78px,#b3d9c8 82px,#bfdfcc 86px,#cde5cf 90px,#dcedd4 94px,#ecf5d7 98px,#f7f8d6 102px,#faf1cb 106px,#fae7bf 110px,#f9ddb4 113px,#f8d4a9 117px,#f7caa0 121px,#f6c198 125px,#f5b890 129px,#f4b089 133px,#f3aa83 137px,#f2a47d 141px,#f19f78 145px,#f19b73 149px,#f0976d 153px,#ef9368 157px,#ef9063 161px,#ef8c5e 164px,#ef8759 168px,#f08253 172px,#f17d50 176px,#f27950 180px,#f27450 184px,#f26f51 188px)"></i><i style="top:130px;height:3px;background:linear-gradient(90deg,#8ad0d0 8px,#8bd0cf 12px,#8bd0ce 16px,#8bd0ce 20px,#8bd0ce 24px,#8bd1cf 28px,#8ad1cf 32px,#8bd2d0 36px,#8cd3d0 40px,#8ed3cf 44px,#91d4ce 48px,#94d4cd 52px,#95d3cb 55px,#95d1c9 59px,#92cfc7 63px,#8ecdc5 67px,#93cec6 71px,#a3d3c9 75px,#afd8cc 79px,#baddcf 83px,#c7e4d2 87px,#d7ebd7 91px,#e7f3dc 95px,#f5f8de 99px,#fbf4d6 103px,#faebc9 107px,#f9e0bd 111px,#f8d6b2 115px,#f7cca8 119px,#f5c29f 123px,#f4b996 127px,#f3b18f 131px,#f2aa89 135px,#f2a483 139px,#f19e7e 143px,#f19a78 146px,#f09673 150px,#ef926e 154px,#ef8f69 158px,#ef8b64 162px,#ef8760 166px,#ef825b 170px,#f07d55 174px,#f17852 178px,#f27351 182px,#f26e51 186px,#f26952 190px)"></i><i style="top:132px;height:3px;background:linear-gradient(90deg,#8ad0d2 8px,#8bd0d1 12px,#8bd0d1 16px,#8bd0d1 20px,#8bd1d1 24px,#8ad1d2 28px,#8ad2d2 32px,#8bd3d3 36px,#8cd3d3 40px,#8ed4d2 44px,#91d4d1 48px,#94d4d0 52px,#95d3ce 56px,#94d1cc 60px,#91cfca 64px,#8ecdc9 68px,#9bd1cb 72px,#aad7cf 76px,#b6dcd2 80px,#c2e2d6 84px,#d1e9da 88px,#e1f1df 92px,#f1f8e3 96px,#fbf8e0 100px,#fbeed3 104px,#fae4c6 108px,#f9d9ba 112px,#f7ceb0 116px,#f5c4a6 120px,#f4ba9d 124px,#f3b295 128px,#f2aa8e 132px,#f1a488 136px,#f19e83 140px,#f0997e 144px,#f09579 148px,#ef9174 152px,#ef8d6f 156px,#ee8a6a 160px,#ee8666 164px,#ee8261 168px,#ef7d5d 172px,#f07858 176px,#f17253 180px,#f26d52 184px,#f26852 188px,#f26353 192px)"></i><i style="top:134px;height:3px;background:linear-gradient(90deg,#8ad1d5 9px,#8bd1d4 13px,#8bd1d3 17px,#8bd1d4 21px,#8ad1d4 25px,#8ad2d5 29px,#8ad3d5 33px,#8ad3d6 37px,#8cd4d6 41px,#8ed5d6 45px,#91d5d5 48px,#93d5d4 52px,#94d4d2 56px,#93d2d0 60px,#90d0ce 64px,#8fcfcd 68px,#9ed4d1 72px,#addad4 76px,#b9dfd8 80px,#c6e5dc 84px,#d5ece0 88px,#e5f4e6 92px,#f5faea 96px,#fcf7e3 100px,#fcecd6 104px,#fae1c9 108px,#f9d6be 112px,#f7ccb3 116px,#f5c1a9 120px,#f3b8a0 123px,#f2af98 127px,#f1a891 131px,#f1a18b 135px,#f09c86 139px,#f09781 143px,#ef937c 147px,#ef8f77 151px,#ef8b73 155px,#ee886e 159px,#ee846a 163px,#ee8066 167px,#ee7b62 171px,#ef765e 175px,#f07159 179px,#f16b54 183px,#f26553 187px,#f26053 191px,#f35a54 194px)"></i><i style="top:136px;height:3px;background:linear-gradient(90deg,#8ad1d7 9px,#8ad1d7 13px,#8bd1d7 17px,#8ad1d7 21px,#8ad2d7 25px,#89d3d8 29px,#89d3d9 33px,#8ad4da 37px,#8bd5da 41px,#8dd6da 45px,#90d6d9 49px,#92d6d8 53px,#93d5d6 57px,#92d3d4 61px,#8ed1d3 65px,#92d1d3 69px,#a5d8d8 73px,#b3dddb 77px,#c0e3df 81px,#ceeae4 85px,#def1e9 89px,#eff9ef 93px,#fbfaee 97px,#fdf2e1 101px,#fce6d3 105px,#fadac7 109px,#f7cfbc 113px,#f5c4b2 117px,#f3baa8 121px,#f2b19f 125px,#f1a998 129px,#f0a291 133px,#ef9c8b 137px,#ef9786 141px,#ef9281 145px,#ef8e7c 149px,#ee8a78 153px,#ee8773 157px,#ee836f 161px,#ed7f6b 165px,#ee7b67 169px,#ee7663 173px,#ef715f 177px,#f06b5a 181px,#f16456 185px,#f25e54 189px,#f25754 193px,#f35154 196px)"></i><i style="top:138px;height:3px;background:linear-gradient(90deg,#89d2da 10px,#8ad2da 13px,#8ad2da 17px,#8ad2da 21px,#89d3db 25px,#89d3dc 29px,#88d4dd 33px,#89d5dd 37px,#8ad6de 41px,#8cd7dd 45px,#8fd7dd 49px,#91d7dc 53px,#92d6db 57px,#90d4d9 61px,#8ed2d8 65px,#94d4d9 69px,#a8dbde 73px,#b6e0e2 77px,#c3e6e6 81px,#d2edea 85px,#e2f4f0 88px,#f3fbf5 92px,#fdfaf2 96px,#feefe3 100px,#fce3d5 104px,#fad8ca 108px,#f7ccbf 112px,#f5c1b5 116px,#f2b7ab 120px,#f1aea2 124px,#f0a69a 128px,#ef9f93 132px,#ef998e 136px,#ee9488 140px,#ee9084 144px,#ee8c7f 148px,#ee887b 152px,#ee8577 156px,#ed8173 160px,#ed7d6f 163px,#ed796b 167px,#ed7468 171px,#ee6f64 175px,#ee6960 179px,#f0625b 183px,#f15b57 187px,#f25455 191px,#f24e54 195px,#f34b55 199px)"></i><i style="top:140px;height:3px;background:linear-gradient(90deg,#88d2dd 10px,#89d2dc 14px,#89d2dc 18px,#88d2dd 22px,#88d3de 26px,#87d4df 30px,#87d5e0 34px,#88d6e0 38px,#89d6e1 42px,#8bd7e1 46px,#8dd7e0 50px,#8fd7df 54px,#8fd6de 58px,#8ed4dd 62px,#8dd3dc 66px,#9ed8e0 70px,#b0dfe5 74px,#bee4e9 78px,#cceaed 82px,#dcf1f2 86px,#edf8f8 90px,#fbfbf9 94px,#fef3ec 98px,#fde6dd 102px,#fbdad1 106px,#f8cec6 110px,#f5c2bb 114px,#f3b8b1 118px,#f0aea8 122px,#efa69f 126px,#ee9f98 130px,#ee9991 134px,#ee938c 138px,#ee8f87 142px,#ed8b83 146px,#ed877e 150px,#ed837a 154px,#ed7f76 158px,#ed7b73 162px,#ed776f 166px,#ed726b 170px,#ed6c68 174px,#ee6764 178px,#ee6060 182px,#f0585b 186px,#f15057 190px,#f24b55 194px,#f24a54 198px,#f24a54 202px)"></i><i style="top:142px;height:3px;background:linear-gradient(90deg,#87d1de 10px,#87d1de 14px,#87d1de 18px,#86d2df 22px,#86d2e0 26px,#85d3e1 30px,#85d4e1 34px,#86d5e2 38px,#87d6e3 42px,#89d7e3 46px,#8bd7e2 50px,#8cd7e2 54px,#8cd6e1 58px,#8bd4df 62px,#8cd4df 66px,#9fd9e4 70px,#b0dfe8 74px,#bee4ec 78px,#cceaf0 82px,#dcf0f4 86px,#edf7fa 90px,#fbf9fb 94px,#fef0ee 98px,#fce3df 102px,#fad7d3 106px,#f7cbc8 109px,#f5bfbe 113px,#f2b5b4 117px,#f0acab 121px,#eea3a2 125px,#ed9c9a 129px,#ed9694 133px,#ed918e 137px,#ed8d89 141px,#ed8985 145px,#ed8581 149px,#ed817d 153px,#ec7d79 157px,#ec7976 161px,#ec7472 165px,#ec6f6f 169px,#ed6a6c 173px,#ed6468 177px,#ed5c65 181px,#ee5560 185px,#ef4e5c 189px,#f14b57 193px,#f14a54 197px,#f24953 201px,#f24954 204px)"></i><i style="top:144px;height:3px;background:linear-gradient(90deg,#85d0de 11px,#85d0de 15px,#84d0df 19px,#84d1df 23px,#83d1e0 27px,#82d2e1 31px,#82d3e2 35px,#83d4e3 39px,#84d5e3 43px,#86d5e3 47px,#88d6e3 51px,#89d5e3 55px,#88d4e2 59px,#87d3e1 63px,#90d4e2 67px,#a5dbe7 71px,#b4dfeb 75px,#c2e4ee 79px,#d1eaf1 83px,#e1f0f6 87px,#f2f5fa 91px,#fdf3f7 95px,#fce7e8 99px,#fbdada 103px,#f8cdcf 107px,#f5c2c5 111px,#f2b7bb 115px,#f0adb1 119px,#eea4a8 123px,#ed9da0 127px,#ec9698 131px,#ec9192 135px,#ec8c8d 139px,#ec8888 143px,#ec8484 147px,#ec8080 151px,#ec7c7d 155px,#ec7779 159px,#ec7376 163px,#ec6d73 167px,#ec6870 171px,#ec616c 175px,#ec5969 179px,#ed5265 183px,#ed4e61 187px,#ef4b5b 191px,#f04a56 195px,#f14953 199px,#f14953 203px,#f24954 207px)"></i><i style="top:146px;height:3px;background:linear-gradient(90deg,#82cede 12px,#82cedf 15px,#82cfdf 19px,#81cfe0 23px,#80d0e1 27px,#7fd1e2 31px,#7fd1e3 35px,#80d2e3 39px,#81d3e4 43px,#82d4e4 47px,#84d4e4 51px,#85d4e3 55px,#84d3e3 59px,#83d1e2 63px,#8fd4e4 67px,#a4dae8 71px,#b3deeb 75px,#c1e2ed 79px,#cfe7f0 83px,#dfecf4 87px,#f0f0f8 91px,#fbeff6 95px,#fbe3e8 99px,#f9d6db 103px,#f7cad0 107px,#f4bec6 110px,#f2b4bd 114px,#efaab3 118px,#eda2aa 122px,#ec9aa2 126px,#eb949b 130px,#eb8f94 134px,#eb8a8f 138px,#eb868a 142px,#eb8286 146px,#eb7e82 150px,#eb797f 154px,#eb757c 158px,#eb7079 162px,#eb6a76 166px,#ec6473 170px,#ec5d70 174px,#ec556d 178px,#ec5069 182px,#ec4d65 186px,#ed4c60 190px,#ee4b5a 194px,#ef4a55 198px,#f14953 202px,#f14953 206px,#f24954 210px)"></i><i style="top:148px;height:3px;background:linear-gradient(90deg,#80cddf 12px,#7fcddf 15px,#7fcde0 19px,#7ecee1 23px,#7dcee2 27px,#7ccfe2 31px,#7cd0e3 35px,#7dd1e4 39px,#7dd2e4 43px,#7fd2e4 47px,#80d3e4 51px,#81d2e4 55px,#80d1e3 59px,#80d0e3 63px,#8dd3e5 67px,#a2d8e9 70px,#b1dbeb 74px,#bedfed 78px,#cce3ef 82px,#dbe7f2 86px,#ebebf6 90px,#f8eaf5 94px,#f9e0e9 98px,#f8d3dc 102px,#f6c7d2 106px,#f3bcc8 110px,#f1b1bf 114px,#eea8b6 118px,#eda0ad 122px,#eb98a5 126px,#ea929d 129px,#ea8d96 133px,#ea8891 137px,#ea848c 141px,#ea8088 145px,#ea7c84 149px,#eb7781 153px,#eb727e 157px,#eb6d7b 161px,#eb6779 165px,#eb6076 169px,#eb5973 173px,#eb5270 177px,#eb4f6d 181px,#eb4d68 184px,#eb4c64 188px,#ec4c5f 192px,#ed4b59 196px,#ef4a55 200px,#f14953 204px,#f24954 208px,#f34955 212px)"></i><i style="top:150px;height:3px;background:linear-gradient(90deg,#7dccdf 12px,#7ccce0 16px,#7bcce1 20px,#7acde2 24px,#7acde2 28px,#79cee3 32px,#79cfe4 36px,#79cfe4 40px,#7ad0e5 44px,#7bd1e5 48px,#7cd1e5 52px,#7dd1e5 56px,#7cd0e4 60px,#7fcfe4 64px,#93d3e8 68px,#a5d7ea 72px,#b3daec 76px,#c0dded 80px,#cfe0ee 83px,#dee4f1 87px,#eee6f4 91px,#f7e2f0 95px,#f7d6e3 99px,#f5c9d7 103px,#f3bece 107px,#f1b3c5 111px,#efa9bc 115px,#eda1b3 119px,#eb99aa 123px,#ea93a2 127px,#e98d9b 131px,#e98895 135px,#e9848f 139px,#e97f8b 143px,#e97b87 147px,#ea7684 151px,#ea7181 155px,#ea6b7e 159px,#ea657c 163px,#ea5d79 167px,#eb5677 171px,#eb5174 175px,#eb4f71 179px,#eb4e6d 183px,#eb4d68 187px,#eb4c63 191px,#eb4b5e 195px,#ed4b59 199px,#ef4a55 203px,#f14954 207px,#f24954 211px,#f44a56 214px)"></i><i style="top:152px;height:3px;background:linear-gradient(90deg,#7acadf 12px,#79cbe0 16px,#78cbe1 20px,#77cce3 24px,#76cce3 28px,#76cde4 32px,#76cde5 36px,#76cee5 40px,#77cfe5 44px,#78cfe5 48px,#79cfe6 52px,#79cfe5 56px,#78cee5 60px,#7ecee5 64px,#93d2e9 68px,#a4d5eb 71px,#b2d8eb 75px,#bedaec 79px,#ccdcec 83px,#dbdfee 87px,#eae0f1 91px,#f3ddee 95px,#f4d1e2 99px,#f3c5d7 103px,#f1bace 107px,#f0afc6 111px,#eea6bd 115px,#ec9eb5 119px,#ea97ac 123px,#e991a4 127px,#e98b9d 130px,#e88696 134px,#e88291 138px,#e87d8c 142px,#e97889 146px,#e97385 150px,#e96e82 154px,#e96880 158px,#e9607e 162px,#ea597c 166px,#ea537a 170px,#ea5077 174px,#ea4e74 178px,#ea4d70 182px,#ea4d6c 186px,#ea4c67 189px,#ea4c62 193px,#eb4b5d 197px,#ed4b59 201px,#ef4a56 205px,#f24955 209px,#f34956 213px,#f44a57 217px)"></i><i style="top:154px;height:3px;background:linear-gradient(90deg,#77c9e0 13px,#76cae1 17px,#75cae3 21px,#74cbe4 25px,#73cbe5 29px,#72cce5 33px,#73cce6 37px,#73cde6 41px,#74cde6 45px,#75cde6 49px,#75cde6 53px,#75cde6 57px,#75cce5 61px,#83cee7 65px,#98d2ea 69px,#a7d4eb 73px,#b4d5ea 77px,#c1d7ea 81px,#cfd8eb 85px,#dedaec 89px,#ebdaee 93px,#f1d3e7 97px,#f1c7db 101px,#f0bbd2 105px,#efb0ca 109px,#eda7c2 113px,#ec9fb9 116px,#ea97b1 120px,#e991a9 124px,#e88ba1 128px,#e8869a 132px,#e88194 136px,#e87c8f 140px,#e8778b 144px,#e87287 148px,#e86c85 152px,#e86582 156px,#e95d80 160px,#e9567e 164px,#e9527d 168px,#ea507b 172px,#ea4e78 176px,#ea4d74 180px,#ea4d70 184px,#e94c6b 188px,#ea4c66 192px,#ea4c61 196px,#eb4b5d 200px,#ee4b5a 204px,#f04a57 208px,#f34956 212px,#f44a57 216px,#f54a59 220px)"></i><i style="top:156px;height:3px;background:linear-gradient(90deg,#74c8e1 14px,#73c9e2 17px,#71c9e4 21px,#70cae5 25px,#6fcae6 29px,#6fcae6 33px,#6fcbe6 37px,#70cbe6 41px,#71cbe6 45px,#72cbe6 49px,#72cbe6 53px,#72cbe6 57px,#73cae6 61px,#84cce8 65px,#98d0ea 69px,#a6d1ea 73px,#b3d2e9 77px,#bfd3e8 81px,#ccd4e8 84px,#dad4e9 88px,#e7d4eb 92px,#eecee5 96px,#eec2da 100px,#eeb7d1 104px,#edadc9 108px,#eca4c2 112px,#eb9cba 116px,#ea95b2 120px,#e98faa 124px,#e889a3 128px,#e7849c 132px,#e77f96 136px,#e77a91 140px,#e7748c 144px,#e76f89 148px,#e76886 152px,#e76084 155px,#e85982 159px,#e85480 163px,#e9517f 167px,#e9507e 171px,#ea4e7b 175px,#ea4d78 179px,#e94c74 183px,#e94c6f 187px,#e94c6a 191px,#e94c65 195px,#ea4c61 199px,#ec4b5e 203px,#ee4b5a 207px,#f14a58 211px,#f44a57 215px,#f54a58 219px,#f64a5a 222px)"></i><i style="top:158px;height:3px;background:linear-gradient(90deg,#72c7e2 14px,#70c8e3 18px,#6ec8e5 22px,#6dc9e6 26px,#6cc9e7 30px,#6cc9e7 34px,#6cc9e7 38px,#6dc9e7 42px,#6ec9e7 46px,#6fc9e7 50px,#6fc9e6 54px,#6fc8e6 58px,#75c8e6 62px,#8bcce9 66px,#9ccdea 70px,#a9cee9 74px,#b5cee7 78px,#c2cfe6 82px,#cecfe5 86px,#dccfe6 90px,#e8cde7 94px,#ebc4de 98px,#ebb8d4 102px,#ebaecc 106px,#eaa5c5 110px,#ea9dbe 114px,#e995b6 118px,#e88faf 122px,#e789a7 126px,#e783a0 130px,#e67e99 134px,#e67994 138px,#e6738f 142px,#e66d8b 146px,#e66688 150px,#e65e85 154px,#e75784 158px,#e75382 162px,#e85181 166px,#e95080 170px,#e94e7f 174px,#e94d7c 178px,#e94c78 182px,#e94c74 186px,#e94c6f 190px,#e94c6a 194px,#ea4c65 198px,#eb4c61 202px,#ed4c5e 206px,#ef4b5b 210px,#f34a59 214px,#f54a59 218px,#f64a5a 222px)"></i><i style="top:160px;height:3px;background:linear-gradient(90deg,#6fc6e2 14px,#6dc7e4 18px,#6bc7e6 22px,#6ac8e7 26px,#69c8e8 30px,#69c8e8 34px,#6ac8e8 38px,#6bc7e7 42px,#6cc7e7 46px,#6cc7e7 50px,#6cc6e6 54px,#6dc5e6 58px,#77c6e6 62px,#8dc9e9 66px,#9dcbe9 70px,#a9cbe7 74px,#b5cae5 78px,#c0cae3 82px,#cccae2 86px,#d9c9e3 90px,#e4c7e3 94px,#e8bedb 98px,#e8b3d1 102px,#e8a9ca 106px,#e8a1c3 110px,#e899bd 114px,#e892b6 118px,#e78caf 122px,#e786a7 126px,#e680a0 130px,#e67b9a 134px,#e57594 138px,#e56f90 142px,#e5688c 146px,#e55f88 150px,#e55986 153px,#e65585 157px,#e75384 161px,#e85183 165px,#e85082 169px,#e94e81 173px,#e94d7f 177px,#e94c7b 181px,#e94c77 185px,#e94c72 189px,#e94c6d 193px,#e94c68 197px,#ea4c64 201px,#ec4c61 205px,#ee4c5f 209px,#f14b5c 213px,#f44a5a 217px)"></i><i style="top:162px;height:3px;background:linear-gradient(90deg,#6cc5e3 15px,#69c6e5 19px,#68c6e7 23px,#66c7e8 27px,#66c7e9 31px,#66c6e9 35px,#67c6e8 39px,#68c5e8 43px,#69c5e7 47px,#6ac5e6 51px,#6ac4e6 54px,#6bc3e5 58px,#79c4e6 62px,#8ec7e8 66px,#9dc7e8 70px,#a9c7e6 74px,#b4c6e3 78px,#bfc5e1 82px,#cbc5df 86px,#d7c4df 90px,#e1c1df 94px,#e5b9d7 98px,#e5aece 102px,#e6a5c7 106px,#e69dc2 110px,#e796bc 114px,#e78fb5 118px,#e689ae 122px,#e683a7 126px,#e57da1 130px,#e5779a 134px,#e47195 137px,#e46a90 141px,#e4628c 145px,#e45b89 149px,#e55787 153px,#e55586 157px,#e65385 161px,#e75185 165px,#e85084 169px,#e94e83 173px,#e94d81 177px,#e94c7e 181px,#e94b7a 185px,#e94b75 189px,#e94c70 193px,#e94c6b 197px,#ea4c67 201px,#ec4d64 205px,#ee4c62 209px,#f04c5f 212px)"></i><i style="top:164px;height:3px;background:linear-gradient(90deg,#69c4e4 16px,#66c5e6 19px,#65c5e8 23px,#63c5e9 27px,#63c5ea 31px,#64c5e9 35px,#65c4e8 39px,#66c3e7 43px,#67c3e7 47px,#68c2e6 51px,#68c1e5 55px,#6bc0e4 59px,#7cc2e6 63px,#90c4e7 67px,#9ec4e6 70px,#a9c3e4 74px,#b3c2e1 78px,#bec1de 82px,#c9c0dc 86px,#d4bedc 90px,#debcdc 94px,#e2b4d4 98px,#e2aacc 102px,#e3a1c5 106px,#e499c0 110px,#e592ba 114px,#e58cb4 118px,#e586ae 122px,#e580a7 126px,#e579a1 129px,#e4739b 133px,#e36c95 137px,#e36390 141px,#e35d8d 145px,#e3588a 149px,#e45688 153px,#e55587 157px,#e65387 161px,#e75186 165px,#e85086 169px,#e84e85 173px,#e94d84 177px,#e94c81 180px,#e94b7d 184px,#e94b79 188px,#e94c73 192px,#e94c6f 196px,#ea4d6a 200px,#eb4d67 204px,#ed4d64 208px)"></i><i style="top:166px;height:3px;background:linear-gradient(90deg,#66c2e5 16px,#64c3e7 20px,#62c4e9 24px,#61c4ea 28px,#61c4ea 32px,#62c3e9 36px,#63c2e8 40px,#64c1e7 44px,#66c0e6 48px,#67bfe5 52px,#67bde4 56px,#6fbde4 60px,#85c0e5 64px,#95c1e5 68px,#a2c0e3 72px,#acbfe1 76px,#b6bddd 80px,#c0bcda 84px,#cbbad9 88px,#d6b9d9 92px,#ddb4d6 96px,#dfabcd 100px,#e0a2c6 104px,#e199c0 108px,#e392bb 112px,#e48bb6 116px,#e485b0 120px,#e47faa 124px,#e478a3 128px,#e3719d 132px,#e26897 136px,#e26092 140px,#e25b8e 144px,#e3598c 148px,#e3578a 152px,#e45688 156px,#e55488 160px,#e65288 164px,#e75088 168px,#e84e88 172px,#e94d86 176px,#e94c84 180px,#e94b81 184px,#e94b7c 188px,#e94c77 192px,#e94c72 196px,#ea4d6d 200px,#eb4d6a 204px)"></i><i style="top:168px;height:3px;background:linear-gradient(90deg,#64c1e5 16px,#61c2e8 20px,#5fc2e9 24px,#5ec2ea 28px,#5fc2ea 32px,#60c1e9 36px,#61bfe8 40px,#63bee6 44px,#64bde5 48px,#65bbe4 52px,#66bae2 56px,#72bbe3 60px,#87bde4 64px,#97bde3 68px,#a2bce1 72px,#acbbde 76px,#b6b9db 80px,#bfb7d8 84px,#c9b6d6 88px,#d3b4d6 92px,#daafd3 96px,#dca6cb 100px,#de9ec4 104px,#df96be 108px,#e18fba 112px,#e288b5 116px,#e381af 120px,#e37ba9 124px,#e373a3 128px,#e26b9d 132px,#e16298 136px,#e15d93 139px,#e25a8f 143px,#e2598d 147px,#e3578b 151px,#e4568a 155px,#e55489 159px,#e65289 163px,#e75089 167px,#e84e89 171px,#e84d88 175px,#e94c86 179px,#e94b83 183px,#e94b7f 187px,#e94c7a 191px,#ea4c75 195px,#ea4d70 199px)"></i><i style="top:170px;height:3px;background:linear-gradient(90deg,#61c0e5 17px,#5fc0e8 21px,#5dc1e9 25px,#5cc0ea 29px,#5dc0ea 33px,#5ebee9 37px,#60bde7 41px,#62bbe5 45px,#63bae4 48px,#64b8e2 52px,#66b7e1 56px,#75b8e1 60px,#89bae2 64px,#97bae2 68px,#a2b9df 72px,#acb7dc 76px,#b5b5d9 80px,#bdb3d6 84px,#c7b1d4 88px,#d0afd3 92px,#d8abd1 96px,#d9a3c9 100px,#db9bc2 104px,#dd93bc 107px,#de8cb8 111px,#e085b3 115px,#e17eae 119px,#e176a9 123px,#e16ea3 127px,#e1659d 131px,#e05f98 135px,#e15c94 139px,#e15a91 143px,#e2598e 147px,#e3588c 151px,#e4578b 155px,#e4558a 159px,#e5538a 163px,#e6518a 166px,#e74f8a 170px,#e84d8a 174px,#e94c88 178px,#e94b86 182px,#e94b82 186px,#e94c7d 190px,#ea4c78 194px)"></i><i style="top:172px;height:3px;background:linear-gradient(90deg,#5fbee5 18px,#5dbfe8 22px,#5bbfe9 26px,#5bbeea 30px,#5bbde9 34px,#5dbbe8 38px,#5fbae6 42px,#61b8e4 46px,#62b6e2 50px,#63b4e0 54px,#69b4df 58px,#7eb5e0 62px,#8fb6e0 66px,#9cb6df 70px,#a6b4dc 74px,#afb2d9 78px,#b7b0d5 82px,#c0aed2 86px,#c9acd1 90px,#d2aad0 94px,#d6a4cb 98px,#d79bc3 102px,#d993bd 106px,#db8cb8 110px,#dd84b4 114px,#de7daf 118px,#df74aa 122px,#df6ba5 126px,#df639f 130px,#e05e9b 134px,#e05c97 138px,#e15b93 142px,#e25a90 146px,#e2598e 150px,#e3578c 154px,#e4568b 158px,#e5548b 162px,#e6528b 166px,#e7508b 170px,#e84e8b 174px,#e84c8a 178px,#e94c87 182px,#e94c84 186px,#e94c7f 190px)"></i><i style="top:174px;height:3px;background:linear-gradient(90deg,#5dbce5 18px,#5bbde7 22px,#5abce9 26px,#5abce9 30px,#5bbae8 34px,#5cb8e6 38px,#5eb6e4 42px,#60b4e2 46px,#62b2e0 50px,#63b1de 54px,#6db1de 58px,#83b2df 62px,#92b3de 66px,#9db2dc 70px,#a7b0da 74px,#afaed6 78px,#b7acd3 82px,#bfaad0 86px,#c7a8ce 90px,#d0a5cd 94px,#d49fc8 98px,#d597c0 102px,#d78fba 106px,#d987b6 110px,#db80b2 114px,#dc77ad 118px,#dd6da8 122px,#de65a4 126px,#df609f 130px,#e05e9c 133px,#e05d98 137px,#e15c94 141px,#e25a91 145px,#e2598f 149px,#e3588d 153px,#e4568c 157px,#e5548c 161px,#e6528c 165px,#e7508c 169px,#e74e8c 173px,#e84d8b 177px,#e94c89 181px,#e94c86 185px)"></i><i style="top:176px;height:3px;background:linear-gradient(90deg,#5cbae4 19px,#5abae6 23px,#59bae7 27px,#59b9e7 31px,#5ab7e6 35px,#5cb5e5 39px,#5eb3e2 43px,#5fb1e0 47px,#61afde 51px,#63addc 54px,#71aedc 58px,#85afdd 62px,#93afdc 66px,#9eaeda 70px,#a6acd7 74px,#aeaad4 78px,#b6a8d1 82px,#bda6ce 86px,#c5a4cc 90px,#cda1cb 94px,#d19bc5 98px,#d293be 102px,#d48bb8 106px,#d683b3 110px,#d87aaf 114px,#d971ab 117px,#db68a7 121px,#dc62a3 125px,#de60a0 129px,#df5e9d 133px,#e05d99 137px,#e15c96 141px,#e15b93 145px,#e25a90 149px,#e3588e 153px,#e3578d 157px,#e4558c 161px,#e5538c 165px,#e6518c 169px,#e74f8c 173px,#e84e8c 177px,#e84d8a 180px)"></i><i style="top:178px;height:3px;background:linear-gradient(90deg,#5ab8e3 20px,#59b8e5 23px,#58b7e6 27px,#58b6e6 31px,#59b4e4 35px,#5bb2e2 39px,#5dafe0 43px,#5fadde 47px,#60abdc 51px,#63aada 55px,#74abda 59px,#87acdb 63px,#94abda 66px,#9eaad8 70px,#a6a9d5 74px,#aea7d2 78px,#b5a5cf 82px,#bca2cc 86px,#c3a0ca 90px,#cb9dc9 94px,#ce97c3 98px,#d08fbb 102px,#d187b6 106px,#d37eb1 109px,#d574ad 113px,#d76ba9 117px,#d965a6 121px,#dc62a4 125px,#de60a1 129px,#df5f9e 133px,#e05e9b 137px,#e15c97 141px,#e15b94 145px,#e25a91 149px,#e2598f 153px,#e3578d 156px,#e4558d 160px,#e5538c 164px,#e6528d 168px,#e7508c 172px,#e74e8c 176px)"></i><i style="top:180px;height:3px;background:linear-gradient(90deg,#5ab5e2 20px,#58b5e3 24px,#57b4e4 28px,#58b2e3 32px,#59b0e2 36px,#5baee0 40px,#5dabdd 44px,#5ea9db 48px,#60a7d9 52px,#68a7d8 56px,#7da8d9 60px,#8ca8d8 64px,#98a8d7 68px,#a1a6d5 72px,#a9a4d2 76px,#b0a2cf 80px,#b6a0cb 84px,#bd9dc9 88px,#c59bc7 92px,#cb97c4 96px,#cc8fbd 100px,#cd86b6 104px,#cf7cb0 108px,#d172ac 112px,#d46aa9 116px,#d766a7 120px,#da63a5 124px,#dd62a3 128px,#df60a0 132px,#e05e9d 136px,#e15d9a 140px,#e15c96 144px,#e25b93 148px,#e25990 152px,#e3588e 156px,#e3568d 160px,#e4548d 164px,#e5528d 168px,#e6518c 172px)"></i><i style="top:182px;height:3px;background:linear-gradient(90deg,#59b2e0 21px,#57b1e1 25px,#57b0e1 29px,#58aee1 33px,#59acdf 37px,#5baadd 41px,#5da7db 45px,#5ea5d8 49px,#5fa3d6 53px,#6da4d6 57px,#81a5d7 60px,#8ea5d6 64px,#99a4d4 68px,#a1a2d2 72px,#a8a0cf 76px,#af9ecc 80px,#b59cc9 84px,#bc99c7 88px,#c396c5 92px,#c891c1 96px,#c989b9 100px,#ca7fb2 104px,#cc74ad 108px,#ce6da9 112px,#d269a8 116px,#d666a7 120px,#da64a6 124px,#dc62a4 128px,#de61a1 131px,#e05f9e 135px,#e15e9b 139px,#e15c97 143px,#e25b94 147px,#e25a91 151px,#e2588f 155px,#e3578d 159px,#e4558d 163px,#e5538c 167px)"></i><i style="top:184px;height:3px;background:linear-gradient(90deg,#58afde 22px,#57aedf 25px,#57acdf 29px,#58aade 33px,#59a8dc 37px,#5ba6da 41px,#5ca3d8 45px,#5da1d6 49px,#60a0d4 53px,#6fa1d4 57px,#82a1d4 61px,#8ea1d4 64px,#98a0d2 68px,#a09fd0 72px,#a79dcd 76px,#ae9aca 80px,#b498c7 84px,#ba95c5 88px,#c091c2 92px,#c58cbf 96px,#c683b7 100px,#c678af 103px,#c870ab 107px,#cc6ca9 111px,#d169a8 115px,#d567a7 119px,#d965a6 123px,#dc63a5 127px,#de61a3 131px,#df60a0 135px,#e05e9c 139px,#e15d99 142px,#e15c95 146px,#e25a92 150px,#e25990 154px,#e2588e 158px,#e3568d 162px)"></i><i style="top:186px;height:3px;background:linear-gradient(90deg,#58acdc 22px,#57aadc 26px,#57a8dc 30px,#58a6da 34px,#59a3d9 38px,#5ba1d6 42px,#5c9fd4 46px,#5d9dd2 50px,#659dd1 54px,#799ed2 58px,#889ed2 62px,#939dd1 66px,#9b9ccf 70px,#a39acc 74px,#a997ca 78px,#af95c6 82px,#b592c3 86px,#ba8ec1 90px,#c088bd 94px,#c27fb7 98px,#c376af 102px,#c570ab 106px,#ca6da9 110px,#ce6ba8 114px,#d369a7 118px,#d767a7 122px,#da64a6 126px,#dd62a4 130px,#df60a1 134px,#e05f9e 138px,#e15d9b 142px,#e15c97 146px,#e15b93 150px,#e25a91 154px,#e2588e 158px)"></i><i style="top:188px;height:3px;background:linear-gradient(90deg,#58a8d9 23px,#57a6d9 27px,#58a4d9 31px,#58a2d7 35px,#599fd5 39px,#5a9dd3 43px,#5b9bd1 47px,#5c99d0 51px,#6899cf 55px,#7b9ad0 58px,#899acf 62px,#929ace 66px,#9b98cc 70px,#a196ca 74px,#a893c7 78px,#ad90c4 82px,#b28cc1 86px,#b787bd 90px,#bc80b9 94px,#be78b3 98px,#c172ad 102px,#c470aa 106px,#c96ea9 110px,#cd6ca8 114px,#d26aa8 118px,#d668a7 121px,#da65a6 125px,#dd63a5 129px,#df61a2 133px,#e05f9f 137px,#e15e9c 141px,#e15d98 145px,#e15b94 149px,#e15a91 153px)"></i><i style="top:190px;height:3px;background:linear-gradient(90deg,#58a4d7 24px,#57a2d6 27px,#58a0d5 31px,#589dd4 35px,#599bd2 39px,#5a99d0 43px,#5a97ce 47px,#5c96cd 51px,#6b96cd 55px,#7d97cd 59px,#8997cd 63px,#9296cb 66px,#9a94ca 70px,#a092c7 74px,#a68fc4 78px,#ab8bc1 82px,#b086bd 86px,#b47fb9 90px,#b879b5 94px,#bc74b1 98px,#c072ad 102px,#c471aa 106px,#c86fa9 109px,#cd6da8 113px,#d16ba8 117px,#d568a7 121px,#d966a7 125px,#dc63a5 129px,#de61a3 133px,#df60a0 137px,#e05e9d 141px,#e15d99 145px,#e15c95 148px)"></i><i style="top:192px;height:3px;background:linear-gradient(90deg,#58a1d4 24px,#589ed3 28px,#589bd2 32px,#5999d0 36px,#5996ce 40px,#5a94cd 44px,#5a93cb 48px,#6192ca 52px,#7593cb 56px,#8393ca 60px,#8d93c9 64px,#9591c8 68px,#9b8fc6 72px,#a18bc3 76px,#a687bf 80px,#ab81bb 84px,#af7ab7 88px,#b475b4 92px,#ba73b2 96px,#be73ae 100px,#c272ab 104px,#c670a9 108px,#cb6fa8 112px,#cf6ca8 116px,#d46aa7 120px,#d867a7 124px,#db64a6 128px,#dd62a4 132px,#df60a1 136px,#e05f9e 140px,#e05d9a 144px)"></i><i style="top:194px;height:3px;background:linear-gradient(90deg,#589dd1 25px,#589ad0 29px,#5897cf 33px,#5895cd 37px,#5992cb 41px,#5990c9 45px,#598fc8 49px,#648fc8 53px,#7690c8 57px,#8390c8 61px,#8c8fc7 64px,#948dc5 68px,#9a8ac3 72px,#9f86bf 76px,#a380bb 80px,#a779b7 84px,#ac74b4 88px,#b273b2 92px,#b973b2 96px,#be73af 100px,#c272ac 104px,#c671aa 108px,#ca6fa8 112px,#ce6da8 116px,#d36aa7 120px,#d767a7 124px,#da65a6 128px,#dc63a4 132px,#de61a2 136px,#df5f9e 140px)"></i><i style="top:196px;height:3px;background:linear-gradient(90deg,#5799ce 26px,#5796cd 30px,#5893cb 34px,#5891ca 38px,#588ec8 42px,#588dc6 45px,#598cc5 49px,#688cc5 53px,#788cc5 57px,#838cc5 61px,#8c8ac4 65px,#9288c2 69px,#9884bf 72px,#9c7fbb 76px,#a078b7 80px,#a573b4 84px,#ab71b2 88px,#b272b2 92px,#b974b2 96px,#be74af 100px,#c173ac 104px,#c572aa 107px,#c970a9 111px,#cd6ea8 115px,#d16ba8 119px,#d568a7 123px,#d966a6 127px,#db63a5 131px,#dd61a2 134px)"></i><i style="top:198px;height:3px;background:linear-gradient(90deg,#5795cc 27px,#5792ca 31px,#578fc8 35px,#578cc6 39px,#578ac4 43px,#5789c3 47px,#5e88c2 51px,#7089c3 55px,#7d89c2 59px,#8687c1 63px,#8d84c0 67px,#9380bd 71px,#977ab9 75px,#9b74b5 78px,#a170b2 82px,#a870b1 86px,#af72b2 90px,#b773b2 94px,#bd74b0 98px,#c073ad 102px,#c472ab 106px,#c870a9 110px,#cc6ea8 114px,#d06ca8 118px,#d469a7 122px,#d866a6 126px,#da64a5 130px)"></i><i style="top:200px;height:3px;background:linear-gradient(90deg,#5791c9 28px,#578ec7 31px,#578bc5 35px,#5789c3 39px,#5687c2 43px,#5685c0 47px,#6085c0 51px,#7285c0 55px,#7d85bf 59px,#8582be 63px,#8b7fbc 67px,#9079b9 71px,#9473b5 75px,#9a6fb2 78px,#a06fb1 82px,#a870b1 86px,#af72b1 90px,#b773b2 94px,#bd74b1 98px,#c073ae 102px,#c472ab 106px,#c771a9 110px,#cb6ea8 114px,#cf6ca7 118px,#d369a7 122px,#d767a6 126px)"></i><i style="top:202px;height:3px;background:linear-gradient(90deg,#568ec6 28px,#568bc4 32px,#5688c2 36px,#5585c0 40px,#5583bf 44px,#5682bd 48px,#6582bd 52px,#7482bd 55px,#7d80bc 59px,#847cba 63px,#8977b8 67px,#8e72b4 71px,#936fb2 75px,#9a6eb1 79px,#a16fb1 82px,#a870b1 86px,#af71b1 90px,#b773b2 94px,#bd74b1 98px,#c073ae 102px,#c372ac 106px,#c770aa 109px,#cb6ea8 113px,#cf6ca7 117px,#d269a7 121px)"></i><i style="top:204px;height:3px;background:linear-gradient(90deg,#558ac4 30px,#5587c2 33px,#5584bf 37px,#5482bd 41px,#5380bc 45px,#5b7fbb 49px,#6c7ebb 53px,#787cba 57px,#7f79b8 61px,#8473b5 65px,#8a6fb3 69px,#906db1 73px,#976db1 77px,#9e6eb0 81px,#a66fb0 85px,#ad71b1 89px,#b572b2 93px,#bc73b2 97px,#c073af 101px,#c372ac 105px,#c670aa 109px,#ca6ea9 113px,#ce6ca8 116px)"></i><i style="top:206px;height:3px;background:linear-gradient(90deg,#5487c2 30px,#5484bf 34px,#5381bd 38px,#527fbb 42px,#527db9 46px,#5d7bb8 50px,#6d7ab8 53px,#7677b6 57px,#7d72b4 61px,#836eb2 65px,#896db1 69px,#906db0 73px,#986db0 77px,#9f6eb0 81px,#a66fb0 85px,#ad70b1 89px,#b472b2 92px,#bb73b2 96px,#c073b0 100px,#c371ad 104px,#c670ab 108px,#ca6ea9 112px)"></i><i style="top:208px;height:3px;background:linear-gradient(90deg,#5284bf 31px,#5281bd 35px,#517eba 39px,#507bb8 42px,#5279b6 46px,#6077b5 50px,#6d74b4 54px,#7570b2 58px,#7c6db1 62px,#836cb0 65px,#8a6cb0 69px,#916db0 73px,#986db0 77px,#9f6eb0 81px,#a66fb0 85px,#ad70b1 88px,#b471b2 92px,#bb72b2 96px,#c072b1 100px,#c371ae 104px,#c670ab 108px)"></i><i style="top:210px;height:3px;background:linear-gradient(90deg,#5181bd 32px,#507dba 36px,#4f7ab8 40px,#4e78b5 44px,#5575b3 48px,#6571b2 52px,#6f6eb0 56px,#776caf 59px,#806caf 63px,#876caf 67px,#8e6daf 71px,#956daf 75px,#9c6eb0 79px,#a46eb0 83px,#ab6fb0 87px,#b270b1 91px,#b971b3 95px,#bf72b2 99px,#c271af 102px)"></i><i style="top:212px;height:3px;background:linear-gradient(90deg,#4f7dbb 33px,#4e7ab8 37px,#4c77b5 41px,#4c73b3 44px,#576fb0 48px,#666caf 52px,#706bae 56px,#796bae 60px,#816caf 64px,#886caf 67px,#8f6daf 71px,#966daf 75px,#9d6eb0 79px,#a46eb0 83px,#ab6fb1 87px,#b270b2 90px,#b971b3 94px,#bf71b2 98px)"></i><i style="top:214px;height:3px;background:linear-gradient(90deg,#4c7ab8 34px,#4b76b5 38px,#4872b2 42px,#4d6daf 46px,#5e6aad 50px,#6b6aad 54px,#766bad 58px,#7e6cae 62px,#866caf 66px,#8d6daf 70px,#946daf 74px,#9b6db0 78px,#a26eb0 82px,#a96eb1 86px,#b06fb2 90px,#b870b3 94px)"></i><i style="top:216px;height:3px;background:linear-gradient(90deg,#4975b6 36px,#4670b2 39px,#456caf 43px,#526aad 47px,#636aac 51px,#6f6aad 55px,#786bad 58px,#806cae 62px,#886dae 66px,#8e6daf 70px,#956daf 74px,#9c6db0 78px,#a26eb0 81px,#a96eb1 85px,#b06fb2 89px)"></i><i style="top:218px;height:3px;background:linear-gradient(90deg,#4470b3 36px,#426baf 40px,#4869ad 44px,#5b6aac 48px,#6a6bac 52px,#756cad 56px,#7e6cae 60px,#866dae 64px,#8d6daf 68px,#946daf 72px,#9a6db0 76px,#a16eb1 80px,#a86eb1 84px)"></i><i style="top:220px;height:3px;background:linear-gradient(90deg,#406bb0 38px,#4169ae 42px,#4f6aad 46px,#616bad 49px,#6e6bad 53px,#776cad 57px,#806dae 61px,#876daf 65px,#8e6daf 69px,#946db0 72px,#9a6db0 76px,#a16eb1 80px)"></i><i style="top:222px;height:3px;background:linear-gradient(90deg,#3f6aaf 40px,#476aad 43px,#5b6bad 47px,#696cad 51px,#746dad 55px,#7d6dae 59px,#856daf 63px,#8c6eaf 67px,#926eb0 71px,#996eb1 75px)"></i><i style="top:224px;height:3px;background:linear-gradient(90deg,#426aae 42px,#526bae 45px,#626cad 49px,#6e6dad 52px,#776dae 56px,#7f6eae 60px,#866eaf 63px,#8c6eb0 67px,#926eb1 70px)"></i><i style="top:226px;height:3px;background:linear-gradient(90deg,#4c6caf 44px,#5e6cae 47px,#6b6dae 51px,#756dae 55px,#7d6eaf 58px,#846eb0 62px,#8b6eb0 66px)"></i><i style="top:228px;height:3px;background:linear-gradient(90deg,#5a6daf 46px,#686daf 50px,#736eaf 54px,#7c6eaf 58px,#846eb0 62px)"></i><i style="top:230px;height:3px;background:linear-gradient(90deg,#656db0 48px,#6d6eb0 51px,#746eb0 54px,#7b6eb0 57px)"></i></div><div id="elp" style="left:314.7px;top:247.3px;width:65.3px;height:260px;background:#020202"><b style="left:14.3px;top:19.7px;width:44.0px;height:26.0px;background:linear-gradient(90deg,#3f8c50 0,#5aa86a 1.5px,#58a768 12%,#509e61 45%,#4f9c60 70%,#57a468 74%,#3e874e 76%,#2f6d3c 80%,#15331c 86%,#060e08 94%,#020202 100%)"></b><b style="left:14.3px;top:19.7px;width:44.0px;height:26.0px;background:linear-gradient(180deg,rgba(255,255,255,0.06),rgba(0,0,0,0) 40%,rgba(0,0,0,0.05))"></b><b style="left:14.3px;top:82.8px;width:37.3px;height:29.1px;background:linear-gradient(90deg,#5e6432 0,#7f8748 5%,#8e9458 9%,#c4c4cc 12%,#c9c9d2 45%,#c7c6d2 86%,#8a9460 88%,#748244 94%,#55622e 100%)"></b><b style="left:14.3px;top:82.8px;width:37.3px;height:29.1px;background:linear-gradient(180deg,rgba(255,255,255,0.06),rgba(0,0,0,0) 40%,rgba(0,0,0,0.05))"></b><b style="left:17.3px;top:147.9px;width:31.3px;height:30.0px;background:linear-gradient(90deg,#c9a6cf 0,#d7b6db 15%,#dabde0 55%,#d4b2d9 92%,#c9a5cf 100%)"></b><b style="left:17.3px;top:147.9px;width:31.3px;height:30.0px;background:linear-gradient(180deg,rgba(255,255,255,0.06),rgba(0,0,0,0) 40%,rgba(0,0,0,0.05))"></b><b style="left:18.2px;top:214.0px;width:29.5px;height:27.6px;background:linear-gradient(90deg,#d9c8e3 0,#e8dcef 15%,#ebe1f1 70%,#e3d5eb 100%)"></b><b style="left:18.2px;top:214.0px;width:29.5px;height:27.6px;background:linear-gradient(180deg,rgba(255,255,255,0.06),rgba(0,0,0,0) 40%,rgba(0,0,0,0.05))"></b></div>
<svg width="685" height="537" viewBox="0 0 685 537">
<line x1="32.50" y1="6.00" x2="32.50" y2="201.90" stroke="#747474" stroke-width="0.75" />
<line x1="32.50" y1="201.90" x2="314.50" y2="201.90" stroke="#747474" stroke-width="0.75" />
<line x1="32.50" y1="201.90" x2="36.50" y2="201.90" stroke="#747474" stroke-width="0.75" />
<text x="29.3" y="205.2" font-size="9.3" text-anchor="end" >0</text>
<line x1="32.50" y1="113.10" x2="36.50" y2="113.10" stroke="#747474" stroke-width="0.75" />
<text x="29.3" y="116.4" font-size="9.3" text-anchor="end" >0.5</text>
<line x1="32.50" y1="24.30" x2="36.50" y2="24.30" stroke="#747474" stroke-width="0.75" />
<text x="29.3" y="27.6" font-size="9.3" text-anchor="end" >1.0</text>
<line x1="32.50" y1="157.50" x2="35.00" y2="157.50" stroke="#747474" stroke-width="0.75" />
<line x1="32.50" y1="68.70" x2="35.00" y2="68.70" stroke="#747474" stroke-width="0.75" />
<line x1="32.50" y1="201.90" x2="32.50" y2="197.90" stroke="#747474" stroke-width="0.75" />
<text x="32.5" y="213.0" font-size="9.3" text-anchor="middle" >400</text>
<line x1="113.07" y1="201.90" x2="113.07" y2="197.90" stroke="#747474" stroke-width="0.75" />
<text x="113.1" y="213.0" font-size="9.3" text-anchor="middle" >500</text>
<line x1="193.64" y1="201.90" x2="193.64" y2="197.90" stroke="#747474" stroke-width="0.75" />
<text x="193.6" y="213.0" font-size="9.3" text-anchor="middle" >600</text>
<line x1="274.21" y1="201.90" x2="274.21" y2="197.90" stroke="#747474" stroke-width="0.75" />
<text x="274.2" y="213.0" font-size="9.3" text-anchor="middle" >700</text>
<line x1="72.78" y1="201.90" x2="72.78" y2="199.40" stroke="#747474" stroke-width="0.75" />
<line x1="153.35" y1="201.90" x2="153.35" y2="199.40" stroke="#747474" stroke-width="0.75" />
<line x1="233.92" y1="201.90" x2="233.92" y2="199.40" stroke="#747474" stroke-width="0.75" />
<line x1="314.50" y1="201.90" x2="314.50" y2="199.40" stroke="#747474" stroke-width="0.75" />
<text x="173.5" y="227.6" font-size="9.3" text-anchor="middle" >Wavelength (nm)</text>
<text transform="translate(7.7,104) rotate(-90)" font-size="9.3" text-anchor="middle">PL (normalized)</text>
<polyline points="32.5,201.1 32.9,201.1 33.3,201.1 33.7,201.1 34.1,201.1 34.5,201.1 34.9,201.1 35.3,201.1 35.7,201.1 36.1,201.1 36.5,201.1 36.9,201.1 37.3,201.1 37.7,201.1 38.1,201.1 38.5,201.1 38.9,201.1 39.3,201.1 39.8,201.1 40.2,201.1 40.6,201.1 41.0,201.1 41.4,201.1 41.8,201.1 42.2,201.1 42.6,201.1 43.0,201.1 43.4,201.1 43.8,201.1 44.2,201.1 44.6,201.1 45.0,201.1 45.4,201.1 45.8,201.1 46.2,201.1 46.6,201.1 47.0,201.1 47.4,201.1 47.8,201.1 48.2,201.1 48.6,201.1 49.0,201.1 49.4,201.1 49.8,201.1 50.2,201.1 50.6,201.1 51.0,201.1 51.4,201.1 51.8,201.1 52.2,201.1 52.6,201.1 53.0,201.1 53.4,201.1 53.9,201.1 54.3,201.1 54.7,201.1 55.1,201.1 55.5,201.1 55.9,201.1 56.3,201.1 56.7,201.1 57.1,201.1 57.5,201.1 57.9,201.1 58.3,201.1 58.7,201.1 59.1,201.1 59.5,201.1 59.9,201.1 60.3,201.1 60.7,201.1 61.1,201.1 61.5,201.1 61.9,201.1 62.3,201.1 62.7,201.1 63.1,201.1 63.5,201.1 63.9,201.1 64.3,201.1 64.7,201.1 65.1,201.1 65.5,201.1 65.9,201.1 66.3,201.1 66.7,201.1 67.1,201.1 67.5,201.1 68.0,201.1 68.4,201.1 68.8,201.1 69.2,201.1 69.6,201.1 70.0,201.1 70.4,201.1 70.8,201.1 71.2,201.1 71.6,201.1 72.0,201.1 72.4,201.1 72.8,201.1 73.2,201.1 73.6,201.0 74.0,201.0 74.4,201.0 74.8,201.0 75.2,201.0 75.6,201.0 76.0,201.0 76.4,201.0 76.8,201.0 77.2,201.0 77.6,201.0 78.0,201.0 78.4,201.0 78.8,201.0 79.2,201.0 79.6,201.0 80.0,201.0 80.4,201.0 80.8,201.0 81.2,201.0 81.6,201.0 82.1,201.0 82.5,201.0 82.9,201.0 83.3,201.0 83.7,200.9 84.1,200.9 84.5,200.9 84.9,200.9 85.3,200.9 85.7,200.9 86.1,200.9 86.5,200.9 86.9,200.9 87.3,200.9 87.7,200.9 88.1,200.8 88.5,200.8 88.9,200.8 89.3,200.8 89.7,200.8 90.1,200.8 90.5,200.7 90.9,200.7 91.3,200.7 91.7,200.7 92.1,200.6 92.5,200.6 92.9,200.6 93.3,200.5 93.7,200.5 94.1,200.4 94.5,200.4 94.9,200.3 95.3,200.2 95.7,200.0 96.2,199.8 96.6,199.5 97.0,199.0 97.4,198.4 97.8,197.6 98.2,196.6 98.6,195.2 99.0,193.4 99.4,191.2 99.8,188.4 100.2,185.2 100.6,181.5 101.0,177.2 101.4,172.6 101.8,167.8 102.2,162.8 102.6,158.0 103.0,153.6 103.4,149.7 103.8,146.8 104.2,144.9 104.6,144.2 105.0,144.9 105.4,146.7 105.8,149.7 106.2,153.5 106.6,158.0 107.0,162.8 107.4,167.7 107.8,172.6 108.2,177.2 108.6,181.4 109.0,185.1 109.4,188.4 109.8,191.1 110.3,193.3 110.7,195.1 111.1,196.5 111.5,197.5 111.9,198.3 112.3,198.9 112.7,199.3 113.1,199.6 113.5,199.9 113.9,200.0 114.3,200.1 114.7,200.2 115.1,200.3 115.5,200.3 115.9,200.4 116.3,200.4 116.7,200.4 117.1,200.4 117.5,200.4 117.9,200.5 118.3,200.5 118.7,200.5 119.1,200.5 119.5,200.5 119.9,200.5 120.3,200.5 120.7,200.5 121.1,200.5 121.5,200.5 121.9,200.5 122.3,200.5 122.7,200.5 123.1,200.5 123.5,200.5 123.9,200.5 124.3,200.5 124.8,200.5 125.2,200.4 125.6,200.4 126.0,200.4 126.4,200.4 126.8,200.4 127.2,200.4 127.6,200.3 128.0,200.3 128.4,200.3 128.8,200.3 129.2,200.2 129.6,200.2 130.0,200.2 130.4,200.1 130.8,200.1 131.2,200.1 131.6,200.0 132.0,200.0 132.4,199.9 132.8,199.9 133.2,199.8 133.6,199.7 134.0,199.7 134.4,199.6 134.8,199.5 135.2,199.4 135.6,199.3 136.0,199.2 136.4,199.0 136.8,198.8 137.2,198.5 137.6,198.2 138.0,197.7 138.4,197.1 138.9,196.3 139.3,195.3 139.7,194.0 140.1,192.2 140.5,190.0 140.9,187.1 141.3,183.5 141.7,179.1 142.1,173.8 142.5,167.4 142.9,159.9 143.3,151.2 143.7,141.4 144.1,130.6 144.5,118.8 144.9,106.4 145.3,93.5 145.7,80.6 146.1,67.9 146.5,56.1 146.9,45.5 147.3,36.6 147.7,29.9 148.1,25.7 148.5,24.3 148.9,25.7 149.3,29.9 149.7,36.6 150.1,45.5 150.5,56.1 150.9,67.9 151.3,80.5 151.7,93.5 152.1,106.4 152.5,118.8 153.0,130.6 153.4,141.4 153.8,151.2 154.2,159.8 154.6,167.3 155.0,173.7 155.4,179.1 155.8,183.5 156.2,187.1 156.6,189.9 157.0,192.2 157.4,193.9 157.8,195.3 158.2,196.3 158.6,197.1 159.0,197.6 159.4,198.1 159.8,198.4 160.2,198.7 160.6,198.9 161.0,199.1 161.4,199.2 161.8,199.3 162.2,199.4 162.6,199.5 163.0,199.6 163.4,199.6 163.8,199.7 164.2,199.7 164.6,199.8 165.0,199.8 165.4,199.9 165.8,199.9 166.2,199.9 166.6,199.9 167.1,200.0 167.5,200.0 167.9,200.0 168.3,200.0 168.7,200.0 169.1,200.0 169.5,200.0 169.9,200.0 170.3,199.9 170.7,199.9 171.1,199.8 171.5,199.8 171.9,199.6 172.3,199.4 172.7,199.2 173.1,198.8 173.5,198.4 173.9,197.7 174.3,196.9 174.7,195.8 175.1,194.4 175.5,192.7 175.9,190.6 176.3,188.2 176.7,185.3 177.1,182.1 177.5,178.5 177.9,174.8 178.3,170.8 178.7,166.9 179.1,163.1 179.5,159.7 179.9,156.8 180.3,154.5 180.7,153.1 181.2,152.6 181.6,153.1 182.0,154.5 182.4,156.8 182.8,159.7 183.2,163.2 183.6,167.0 184.0,170.9 184.4,174.8 184.8,178.6 185.2,182.2 185.6,185.4 186.0,188.3 186.4,190.8 186.8,192.9 187.2,194.6 187.6,196.0 188.0,197.1 188.4,197.9 188.8,198.6 189.2,199.1 189.6,199.5 190.0,199.7 190.4,199.9 190.8,200.1 191.2,200.2 191.6,200.3 192.0,200.3 192.4,200.4 192.8,200.4 193.2,200.5 193.6,200.5 194.0,200.5 194.4,200.5 194.8,200.5 195.3,200.5 195.7,200.6 196.1,200.6 196.5,200.6 196.9,200.6 197.3,200.6 197.7,200.6 198.1,200.6 198.5,200.6 198.9,200.6 199.3,200.6 199.7,200.5 200.1,200.5 200.5,200.5 200.9,200.5 201.3,200.4 201.7,200.3 202.1,200.2 202.5,200.0 202.9,199.8 203.3,199.4 203.7,198.9 204.1,198.3 204.5,197.4 204.9,196.2 205.3,194.8 205.7,192.9 206.1,190.8 206.5,188.3 206.9,185.5 207.3,182.5 207.7,179.3 208.1,176.2 208.5,173.3 208.9,170.8 209.4,168.8 209.8,167.5 210.2,167.1 210.6,167.5 211.0,168.8 211.4,170.8 211.8,173.3 212.2,176.3 212.6,179.4 213.0,182.5 213.4,185.5 213.8,188.4 214.2,190.9 214.6,193.0 215.0,194.8 215.4,196.3 215.8,197.5 216.2,198.4 216.6,199.0 217.0,199.5 217.4,199.9 217.8,200.1 218.2,200.3 218.6,200.4 219.0,200.5 219.4,200.6 219.8,200.6 220.2,200.7 220.6,200.7 221.0,200.7 221.4,200.8 221.8,200.8 222.2,200.8 222.6,200.8 223.0,200.8 223.5,200.8 223.9,200.8 224.3,200.8 224.7,200.8 225.1,200.8 225.5,200.8 225.9,200.8 226.3,200.8 226.7,200.8 227.1,200.8 227.5,200.7 227.9,200.7 228.3,200.6 228.7,200.5 229.1,200.3 229.5,200.1 229.9,199.9 230.3,199.7 230.7,199.5 231.1,199.2 231.5,199.0 231.9,198.9 232.3,198.9 232.7,198.9 233.1,199.0 233.5,199.2 233.9,199.5 234.3,199.7 234.7,199.9 235.1,200.2 235.5,200.3 235.9,200.5 236.3,200.6 236.7,200.7 237.1,200.8 237.6,200.8 238.0,200.9 238.4,200.9 238.8,200.9 239.2,200.9 239.6,200.9 240.0,200.9 240.4,200.9 240.8,200.9 241.2,200.9 241.6,200.9 242.0,200.9 242.4,200.9 242.8,200.9 243.2,200.8 243.6,200.8 244.0,200.7 244.4,200.6 244.8,200.4 245.2,200.3 245.6,200.0 246.0,199.8 246.4,199.5 246.8,199.2 247.2,199.0 247.6,198.8 248.0,198.6 248.4,198.5 248.8,198.6 249.2,198.7 249.6,199.0 250.0,199.2 250.4,199.5 250.8,199.8 251.2,200.0 251.7,200.2 252.1,200.4 252.5,200.5 252.9,200.6 253.3,200.6 253.7,200.6 254.1,200.6 254.5,200.5 254.9,200.4 255.3,200.2 255.7,199.9 256.1,199.6 256.5,199.2 256.9,198.8 257.3,198.5 257.7,198.3 258.1,198.2 258.5,198.3 258.9,198.5 259.3,198.9 259.7,199.2 260.1,199.6 260.5,200.0 260.9,200.2 261.3,200.5 261.7,200.6 262.1,200.7 262.5,200.8 262.9,200.9 263.3,200.9 263.7,200.9 264.1,200.9 264.5,200.9 264.9,200.9 265.3,200.9 265.8,200.9 266.2,200.9 266.6,200.8 267.0,200.8 267.4,200.7 267.8,200.6 268.2,200.6 268.6,200.5 269.0,200.3 269.4,200.2 269.8,200.1 270.2,199.9 270.6,199.8 271.0,199.6 271.4,199.5 271.8,199.4 272.2,199.3 272.6,199.3 273.0,199.4 273.4,199.4 273.8,199.5 274.2,199.6 274.6,199.8 275.0,199.9 275.4,200.1 275.8,200.2 276.2,200.4 276.6,200.5 277.0,200.6 277.4,200.7 277.8,200.8 278.2,200.8 278.6,200.9 279.0,200.9 279.4,201.0 279.8,201.0 280.3,201.0 280.7,201.0 281.1,201.0 281.5,201.1 281.9,201.1 282.3,201.1 282.7,201.1 283.1,201.1 283.5,201.1 283.9,201.1 284.3,201.1 284.7,201.1 285.1,201.1 285.5,201.1 285.9,201.1 286.3,201.1 286.7,201.1 287.1,201.1 287.5,201.1 287.9,201.1 288.3,201.1 288.7,201.1 289.1,201.1 289.5,201.1 289.9,201.1 290.3,201.1 290.7,201.1 291.1,201.1 291.5,201.1 291.9,201.1 292.3,201.1 292.7,201.1 293.1,201.1 293.5,201.1 293.9,201.1 294.4,201.1 294.8,201.1 295.2,201.1 295.6,201.1 296.0,201.1 296.4,201.1 296.8,201.1 297.2,201.1 297.6,201.1 298.0,201.1 298.4,201.1 298.8,201.1 299.2,201.1 299.6,201.1 300.0,201.1 300.4,201.1 300.8,201.1 301.2,201.1 301.6,201.1 302.0,201.1 302.4,201.1 302.8,201.2 303.2,201.2 303.6,201.2 304.0,201.2 304.4,201.2 304.8,201.2 305.2,201.2 305.6,201.2 306.0,201.2 306.4,201.2 306.8,201.2 307.2,201.2 307.6,201.2 308.0,201.2 308.5,201.2 308.9,201.2 309.3,201.2 309.7,201.2 310.1,201.2 310.5,201.2 310.9,201.2 311.3,201.2 311.7,201.2 312.1,201.2 312.5,201.2 312.9,201.2 313.3,201.2 313.7,201.2 314.1,201.2 314.5,201.2" fill="none" stroke="#1f7f4f" stroke-width="1.25" stroke-linejoin="round" />
<polyline points="32.5,200.7 32.9,200.7 33.3,200.7 33.7,200.7 34.1,200.7 34.5,200.7 34.9,200.7 35.3,200.7 35.7,200.7 36.1,200.7 36.5,200.7 36.9,200.7 37.3,200.7 37.7,200.7 38.1,200.7 38.5,200.7 38.9,200.7 39.3,200.7 39.8,200.7 40.2,200.7 40.6,200.7 41.0,200.7 41.4,200.7 41.8,200.7 42.2,200.7 42.6,200.7 43.0,200.7 43.4,200.7 43.8,200.7 44.2,200.7 44.6,200.7 45.0,200.7 45.4,200.7 45.8,200.7 46.2,200.7 46.6,200.7 47.0,200.7 47.4,200.7 47.8,200.7 48.2,200.7 48.6,200.7 49.0,200.7 49.4,200.7 49.8,200.7 50.2,200.7 50.6,200.7 51.0,200.7 51.4,200.7 51.8,200.7 52.2,200.7 52.6,200.7 53.0,200.7 53.4,200.7 53.9,200.7 54.3,200.7 54.7,200.7 55.1,200.7 55.5,200.7 55.9,200.7 56.3,200.7 56.7,200.7 57.1,200.7 57.5,200.7 57.9,200.7 58.3,200.7 58.7,200.7 59.1,200.7 59.5,200.7 59.9,200.7 60.3,200.7 60.7,200.7 61.1,200.7 61.5,200.7 61.9,200.7 62.3,200.7 62.7,200.7 63.1,200.7 63.5,200.7 63.9,200.7 64.3,200.6 64.7,200.6 65.1,200.6 65.5,200.6 65.9,200.6 66.3,200.6 66.7,200.6 67.1,200.6 67.5,200.6 68.0,200.6 68.4,200.6 68.8,200.6 69.2,200.6 69.6,200.6 70.0,200.6 70.4,200.6 70.8,200.6 71.2,200.6 71.6,200.5 72.0,200.5 72.4,200.5 72.8,200.5 73.2,200.5 73.6,200.5 74.0,200.5 74.4,200.5 74.8,200.5 75.2,200.5 75.6,200.4 76.0,200.4 76.4,200.4 76.8,200.4 77.2,200.4 77.6,200.4 78.0,200.3 78.4,200.3 78.8,200.3 79.2,200.3 79.6,200.3 80.0,200.2 80.4,200.2 80.8,200.2 81.2,200.2 81.6,200.1 82.1,200.1 82.5,200.1 82.9,200.0 83.3,200.0 83.7,200.0 84.1,199.9 84.5,199.9 84.9,199.9 85.3,199.8 85.7,199.8 86.1,199.7 86.5,199.7 86.9,199.7 87.3,199.6 87.7,199.6 88.1,199.5 88.5,199.4 88.9,199.4 89.3,199.3 89.7,199.3 90.1,199.2 90.5,199.1 90.9,199.1 91.3,199.0 91.7,198.9 92.1,198.8 92.5,198.7 92.9,198.6 93.3,198.5 93.7,198.4 94.1,198.2 94.5,198.1 94.9,197.9 95.3,197.7 95.7,197.5 96.2,197.2 96.6,196.8 97.0,196.4 97.4,195.8 97.8,195.2 98.2,194.4 98.6,193.5 99.0,192.5 99.4,191.2 99.8,189.8 100.2,188.2 100.6,186.4 101.0,184.4 101.4,182.3 101.8,180.2 102.2,178.0 102.6,175.9 103.0,173.9 103.4,172.2 103.8,170.8 104.2,169.9 104.6,169.6 105.0,169.9 105.4,170.7 105.8,172.1 106.2,173.8 106.6,175.7 107.0,177.8 107.4,180.0 107.8,182.1 108.2,184.1 108.6,186.1 109.0,187.8 109.4,189.4 109.8,190.8 110.3,192.1 110.7,193.1 111.1,194.0 111.5,194.7 111.9,195.3 112.3,195.8 112.7,196.3 113.1,196.6 113.5,196.9 113.9,197.1 114.3,197.3 114.7,197.4 115.1,197.6 115.5,197.7 115.9,197.8 116.3,197.9 116.7,198.0 117.1,198.0 117.5,198.1 117.9,198.2 118.3,198.2 118.7,198.3 119.1,198.4 119.5,198.4 119.9,198.5 120.3,198.5 120.7,198.5 121.1,198.6 121.5,198.6 121.9,198.7 122.3,198.7 122.7,198.7 123.1,198.8 123.5,198.8 123.9,198.8 124.3,198.8 124.8,198.8 125.2,198.9 125.6,198.9 126.0,198.9 126.4,198.9 126.8,198.9 127.2,198.9 127.6,198.9 128.0,198.9 128.4,198.9 128.8,198.9 129.2,198.9 129.6,198.8 130.0,198.8 130.4,198.8 130.8,198.8 131.2,198.7 131.6,198.7 132.0,198.6 132.4,198.6 132.8,198.5 133.2,198.5 133.6,198.4 134.0,198.3 134.4,198.2 134.8,198.1 135.2,198.0 135.6,197.8 136.0,197.7 136.4,197.5 136.8,197.3 137.2,197.0 137.6,196.7 138.0,196.4 138.4,195.9 138.9,195.3 139.3,194.6 139.7,193.8 140.1,192.7 140.5,191.3 140.9,189.6 141.3,187.5 141.7,185.0 142.1,182.0 142.5,178.4 142.9,174.2 143.3,169.3 143.7,163.9 144.1,157.8 144.5,151.2 144.9,144.2 145.3,136.8 145.7,129.2 146.1,121.8 146.5,114.7 146.9,108.2 147.3,102.7 147.7,98.4 148.1,95.8 148.5,94.9 148.9,95.8 149.3,98.4 149.7,102.7 150.1,108.2 150.5,114.7 150.9,121.8 151.3,129.2 151.7,136.8 152.1,144.1 152.5,151.2 153.0,157.8 153.4,163.9 153.8,169.3 154.2,174.2 154.6,178.4 155.0,181.9 155.4,185.0 155.8,187.5 156.2,189.6 156.6,191.3 157.0,192.7 157.4,193.8 157.8,194.6 158.2,195.3 158.6,195.9 159.0,196.4 159.4,196.7 159.8,197.0 160.2,197.3 160.6,197.5 161.0,197.7 161.4,197.9 161.8,198.0 162.2,198.1 162.6,198.2 163.0,198.3 163.4,198.4 163.8,198.5 164.2,198.6 164.6,198.6 165.0,198.7 165.4,198.7 165.8,198.8 166.2,198.8 166.6,198.9 167.1,198.9 167.5,198.9 167.9,198.9 168.3,198.9 168.7,198.9 169.1,198.9 169.5,198.9 169.9,198.9 170.3,198.9 170.7,198.9 171.1,198.8 171.5,198.8 171.9,198.7 172.3,198.7 172.7,198.6 173.1,198.4 173.5,198.3 173.9,198.0 174.3,197.7 174.7,197.3 175.1,196.8 175.5,196.1 175.9,195.3 176.3,194.2 176.7,192.9 177.1,191.4 177.5,189.7 177.9,187.7 178.3,185.6 178.7,183.2 179.1,180.8 179.5,178.4 179.9,176.1 180.3,174.0 180.7,172.1 181.2,170.4 181.6,169.0 182.0,167.6 182.4,166.1 182.8,164.0 183.2,161.1 183.6,156.9 184.0,151.1 184.4,143.9 184.8,135.3 185.2,125.9 185.6,116.6 186.0,108.7 186.4,103.5 186.8,102.3 187.2,105.6 187.6,113.0 188.0,123.1 188.4,134.7 188.8,146.4 189.2,157.4 189.6,167.0 190.0,174.9 190.4,181.2 190.8,186.0 191.2,189.4 191.6,191.8 192.0,193.4 192.4,194.5 192.8,195.3 193.2,195.8 193.6,196.1 194.0,196.3 194.4,196.5 194.8,196.6 195.3,196.6 195.7,196.7 196.1,196.6 196.5,196.6 196.9,196.5 197.3,196.3 197.7,196.1 198.1,195.9 198.5,195.5 198.9,195.1 199.3,194.4 199.7,193.5 200.1,192.1 200.5,190.1 200.9,187.1 201.3,182.8 201.7,176.7 202.1,168.4 202.5,157.4 202.9,143.6 203.3,127.0 203.7,108.0 204.1,87.6 204.5,67.1 204.9,48.4 205.3,33.8 205.7,25.2 206.1,24.3 206.5,31.1 206.9,44.5 207.3,62.2 207.7,82.0 208.1,102.1 208.5,120.9 208.9,137.3 209.4,150.9 209.8,161.6 210.2,169.6 210.6,175.3 211.0,179.2 211.4,181.8 211.8,183.7 212.2,185.0 212.6,186.2 213.0,187.4 213.4,188.6 213.8,189.8 214.2,191.1 214.6,192.2 215.0,193.3 215.4,194.4 215.8,195.3 216.2,196.1 216.6,196.7 217.0,197.3 217.4,197.8 217.8,198.1 218.2,198.4 218.6,198.7 219.0,198.9 219.4,199.0 219.8,199.2 220.2,199.3 220.6,199.4 221.0,199.5 221.4,199.5 221.8,199.6 222.2,199.7 222.6,199.7 223.0,199.8 223.5,199.8 223.9,199.9 224.3,199.9 224.7,200.0 225.1,200.0 225.5,200.0 225.9,200.1 226.3,200.1 226.7,200.1 227.1,200.1 227.5,200.2 227.9,200.2 228.3,200.2 228.7,200.2 229.1,200.2 229.5,200.2 229.9,200.2 230.3,200.1 230.7,200.0 231.1,199.8 231.5,199.5 231.9,199.1 232.3,198.6 232.7,198.1 233.1,197.5 233.5,197.0 233.9,196.9 234.3,197.1 234.7,197.5 235.1,198.1 235.5,198.7 235.9,199.3 236.3,199.7 236.7,200.0 237.1,200.2 237.6,200.3 238.0,200.4 238.4,200.5 238.8,200.5 239.2,200.5 239.6,200.5 240.0,200.6 240.4,200.6 240.8,200.6 241.2,200.6 241.6,200.6 242.0,200.6 242.4,200.6 242.8,200.6 243.2,200.6 243.6,200.6 244.0,200.7 244.4,200.7 244.8,200.7 245.2,200.7 245.6,200.7 246.0,200.7 246.4,200.7 246.8,200.7 247.2,200.7 247.6,200.7 248.0,200.7 248.4,200.7 248.8,200.7 249.2,200.7 249.6,200.7 250.0,200.7 250.4,200.7 250.8,200.7 251.2,200.7 251.7,200.7 252.1,200.7 252.5,200.7 252.9,200.6 253.3,200.6 253.7,200.6 254.1,200.6 254.5,200.6 254.9,200.6 255.3,200.6 255.7,200.6 256.1,200.5 256.5,200.5 256.9,200.5 257.3,200.5 257.7,200.4 258.1,200.4 258.5,200.3 258.9,200.3 259.3,200.2 259.7,200.2 260.1,200.1 260.5,200.0 260.9,199.9 261.3,199.7 261.7,199.5 262.1,199.1 262.5,198.4 262.9,197.1 263.3,194.5 263.7,189.7 264.1,182.3 264.5,172.4 264.9,161.4 265.3,152.3 265.8,148.5 266.2,151.7 266.6,160.2 267.0,170.1 267.4,178.2 267.8,182.8 268.2,183.1 268.6,179.2 269.0,171.8 269.4,161.9 269.8,150.6 270.2,140.0 270.6,132.1 271.0,129.3 271.4,132.3 271.8,140.3 272.2,151.2 272.6,162.8 273.0,173.5 273.4,182.2 273.8,188.7 274.2,193.1 274.6,195.9 275.0,197.6 275.4,198.5 275.8,199.1 276.2,199.4 276.6,199.7 277.0,199.8 277.4,200.0 277.8,200.1 278.2,200.2 278.6,200.3 279.0,200.3 279.4,200.4 279.8,200.4 280.3,200.5 280.7,200.5 281.1,200.6 281.5,200.6 281.9,200.6 282.3,200.7 282.7,200.7 283.1,200.7 283.5,200.7 283.9,200.7 284.3,200.8 284.7,200.8 285.1,200.8 285.5,200.8 285.9,200.8 286.3,200.8 286.7,200.8 287.1,200.9 287.5,200.9 287.9,200.9 288.3,200.9 288.7,200.9 289.1,200.9 289.5,200.9 289.9,200.9 290.3,200.9 290.7,200.9 291.1,200.9 291.5,200.9 291.9,200.9 292.3,200.9 292.7,201.0 293.1,201.0 293.5,201.0 293.9,201.0 294.4,201.0 294.8,201.0 295.2,201.0 295.6,201.0 296.0,201.0 296.4,201.0 296.8,201.0 297.2,201.0 297.6,201.0 298.0,201.0 298.4,201.0 298.8,201.0 299.2,201.0 299.6,201.0 300.0,201.0 300.4,201.0 300.8,201.0 301.2,201.0 301.6,201.0 302.0,201.0 302.4,201.0 302.8,201.0 303.2,201.0 303.6,201.0 304.0,201.0 304.4,201.0 304.8,201.0 305.2,201.0 305.6,201.1 306.0,201.1 306.4,201.1 306.8,201.1 307.2,201.1 307.6,201.1 308.0,201.1 308.5,201.1 308.9,201.1 309.3,201.1 309.7,201.1 310.1,201.1 310.5,201.1 310.9,201.1 311.3,201.1 311.7,201.1 312.1,201.1 312.5,201.1 312.9,201.1 313.3,201.1 313.7,201.1 314.1,201.1 314.5,201.1" fill="none" stroke="#f8b73d" stroke-width="1.4" stroke-linejoin="round" />
<polyline points="32.5,200.0 32.9,200.0 33.3,200.0 33.7,200.0 34.1,200.0 34.5,200.0 34.9,200.0 35.3,200.0 35.7,200.0 36.1,200.0 36.5,200.1 36.9,200.1 37.3,200.1 37.7,200.1 38.1,200.1 38.5,200.1 38.9,200.1 39.3,200.1 39.8,200.1 40.2,200.1 40.6,200.1 41.0,200.1 41.4,200.1 41.8,200.1 42.2,200.1 42.6,200.1 43.0,200.1 43.4,200.1 43.8,200.1 44.2,200.1 44.6,200.1 45.0,200.1 45.4,200.1 45.8,200.1 46.2,200.1 46.6,200.1 47.0,200.1 47.4,200.1 47.8,200.1 48.2,200.1 48.6,200.1 49.0,200.1 49.4,200.1 49.8,200.1 50.2,200.1 50.6,200.1 51.0,200.1 51.4,200.1 51.8,200.1 52.2,200.1 52.6,200.1 53.0,200.1 53.4,200.1 53.9,200.1 54.3,200.1 54.7,200.1 55.1,200.1 55.5,200.1 55.9,200.1 56.3,200.1 56.7,200.1 57.1,200.1 57.5,200.1 57.9,200.1 58.3,200.1 58.7,200.1 59.1,200.1 59.5,200.1 59.9,200.1 60.3,200.1 60.7,200.1 61.1,200.1 61.5,200.1 61.9,200.1 62.3,200.1 62.7,200.1 63.1,200.1 63.5,200.1 63.9,200.1 64.3,200.1 64.7,200.1 65.1,200.1 65.5,200.1 65.9,200.1 66.3,200.1 66.7,200.1 67.1,200.1 67.5,200.1 68.0,200.1 68.4,200.1 68.8,200.1 69.2,200.1 69.6,200.1 70.0,200.0 70.4,200.0 70.8,200.0 71.2,200.0 71.6,200.0 72.0,200.0 72.4,200.0 72.8,200.0 73.2,200.0 73.6,200.0 74.0,200.0 74.4,199.9 74.8,199.9 75.2,199.9 75.6,199.9 76.0,199.9 76.4,199.9 76.8,199.8 77.2,199.8 77.6,199.8 78.0,199.8 78.4,199.8 78.8,199.7 79.2,199.7 79.6,199.7 80.0,199.7 80.4,199.6 80.8,199.6 81.2,199.6 81.6,199.5 82.1,199.5 82.5,199.5 82.9,199.4 83.3,199.4 83.7,199.4 84.1,199.3 84.5,199.3 84.9,199.2 85.3,199.2 85.7,199.1 86.1,199.1 86.5,199.0 86.9,199.0 87.3,198.9 87.7,198.9 88.1,198.8 88.5,198.7 88.9,198.7 89.3,198.6 89.7,198.6 90.1,198.5 90.5,198.4 90.9,198.3 91.3,198.3 91.7,198.2 92.1,198.1 92.5,198.0 92.9,198.0 93.3,197.9 93.7,197.8 94.1,197.7 94.5,197.6 94.9,197.5 95.3,197.3 95.7,197.2 96.2,197.1 96.6,196.9 97.0,196.7 97.4,196.4 97.8,196.2 98.2,195.8 98.6,195.5 99.0,195.0 99.4,194.5 99.8,193.9 100.2,193.3 100.6,192.6 101.0,191.8 101.4,191.0 101.8,190.2 102.2,189.3 102.6,188.5 103.0,187.7 103.4,187.1 103.8,186.5 104.2,186.2 104.6,186.1 105.0,186.2 105.4,186.5 105.8,187.0 106.2,187.6 106.6,188.3 107.0,189.1 107.4,189.9 107.8,190.7 108.2,191.5 108.6,192.2 109.0,192.9 109.4,193.5 109.8,194.0 110.3,194.5 110.7,194.9 111.1,195.3 111.5,195.6 111.9,195.8 112.3,196.0 112.7,196.2 113.1,196.4 113.5,196.5 113.9,196.6 114.3,196.7 114.7,196.8 115.1,196.9 115.5,197.0 115.9,197.1 116.3,197.1 116.7,197.2 117.1,197.3 117.5,197.3 117.9,197.4 118.3,197.5 118.7,197.6 119.1,197.6 119.5,197.7 119.9,197.8 120.3,197.8 120.7,197.9 121.1,197.9 121.5,198.0 121.9,198.1 122.3,198.1 122.7,198.2 123.1,198.2 123.5,198.3 123.9,198.4 124.3,198.4 124.8,198.5 125.2,198.5 125.6,198.6 126.0,198.6 126.4,198.7 126.8,198.7 127.2,198.7 127.6,198.8 128.0,198.8 128.4,198.9 128.8,198.9 129.2,198.9 129.6,199.0 130.0,199.0 130.4,199.0 130.8,199.0 131.2,199.0 131.6,199.1 132.0,199.1 132.4,199.1 132.8,199.1 133.2,199.1 133.6,199.1 134.0,199.1 134.4,199.1 134.8,199.1 135.2,199.0 135.6,199.0 136.0,199.0 136.4,198.9 136.8,198.9 137.2,198.8 137.6,198.7 138.0,198.6 138.4,198.5 138.9,198.3 139.3,198.1 139.7,197.8 140.1,197.4 140.5,196.9 140.9,196.4 141.3,195.7 141.7,194.8 142.1,193.8 142.5,192.5 142.9,191.1 143.3,189.4 143.7,187.6 144.1,185.5 144.5,183.2 144.9,180.8 145.3,178.2 145.7,175.6 146.1,173.1 146.5,170.6 146.9,168.4 147.3,166.5 147.7,165.0 148.1,164.1 148.5,163.8 148.9,164.1 149.3,165.1 149.7,166.5 150.1,168.4 150.5,170.7 150.9,173.1 151.3,175.7 151.7,178.3 152.1,180.8 152.5,183.2 153.0,185.5 153.4,187.6 153.8,189.5 154.2,191.2 154.6,192.6 155.0,193.8 155.4,194.9 155.8,195.7 156.2,196.5 156.6,197.0 157.0,197.5 157.4,197.9 157.8,198.2 158.2,198.4 158.6,198.6 159.0,198.8 159.4,198.9 159.8,199.0 160.2,199.1 160.6,199.2 161.0,199.2 161.4,199.3 161.8,199.3 162.2,199.3 162.6,199.4 163.0,199.4 163.4,199.4 163.8,199.5 164.2,199.5 164.6,199.5 165.0,199.5 165.4,199.5 165.8,199.5 166.2,199.5 166.6,199.5 167.1,199.5 167.5,199.5 167.9,199.5 168.3,199.5 168.7,199.5 169.1,199.5 169.5,199.5 169.9,199.4 170.3,199.4 170.7,199.4 171.1,199.4 171.5,199.3 171.9,199.3 172.3,199.2 172.7,199.2 173.1,199.1 173.5,199.0 173.9,198.9 174.3,198.7 174.7,198.5 175.1,198.3 175.5,198.0 175.9,197.7 176.3,197.2 176.7,196.7 177.1,196.1 177.5,195.4 177.9,194.6 178.3,193.7 178.7,192.8 179.1,191.8 179.5,190.8 179.9,189.7 180.3,188.7 180.7,187.6 181.2,186.5 181.6,185.3 182.0,183.7 182.4,181.5 182.8,178.5 183.2,174.3 183.6,168.7 184.0,161.5 184.4,152.6 184.8,142.4 185.2,131.5 185.6,120.9 186.0,111.7 186.4,105.4 186.8,103.4 187.2,106.2 187.6,113.1 188.0,123.1 188.4,134.5 188.8,146.2 189.2,157.2 189.6,166.9 190.0,174.9 190.4,181.2 190.8,186.0 191.2,189.4 191.6,191.8 192.0,193.5 192.4,194.6 192.8,195.3 193.2,195.8 193.6,196.1 194.0,196.3 194.4,196.5 194.8,196.6 195.3,196.6 195.7,196.6 196.1,196.6 196.5,196.5 196.9,196.4 197.3,196.3 197.7,196.1 198.1,195.8 198.5,195.5 198.9,195.0 199.3,194.4 199.7,193.4 200.1,192.1 200.5,190.0 200.9,187.1 201.3,182.7 201.7,176.7 202.1,168.3 202.5,157.4 202.9,143.6 203.3,126.9 203.7,108.0 204.1,87.6 204.5,67.1 204.9,48.4 205.3,33.8 205.7,25.2 206.1,24.3 206.5,31.1 206.9,44.4 207.3,62.1 207.7,82.0 208.1,102.0 208.5,120.8 208.9,137.2 209.4,150.8 209.8,161.5 210.2,169.5 210.6,175.2 211.0,179.1 211.4,181.7 211.8,183.5 212.2,184.9 212.6,186.1 213.0,187.3 213.4,188.5 213.8,189.7 214.2,190.9 214.6,192.1 215.0,193.2 215.4,194.2 215.8,195.1 216.2,195.9 216.6,196.6 217.0,197.1 217.4,197.6 217.8,198.0 218.2,198.3 218.6,198.5 219.0,198.7 219.4,198.9 219.8,199.0 220.2,199.1 220.6,199.2 221.0,199.3 221.4,199.4 221.8,199.5 222.2,199.5 222.6,199.6 223.0,199.6 223.5,199.7 223.9,199.7 224.3,199.8 224.7,199.8 225.1,199.8 225.5,199.9 225.9,199.9 226.3,199.9 226.7,200.0 227.1,200.0 227.5,200.0 227.9,200.0 228.3,200.0 228.7,200.0 229.1,200.0 229.5,200.0 229.9,200.0 230.3,199.9 230.7,199.8 231.1,199.6 231.5,199.3 231.9,198.9 232.3,198.3 232.7,197.7 233.1,197.0 233.5,196.5 233.9,196.4 234.3,196.6 234.7,197.1 235.1,197.7 235.5,198.4 235.9,199.0 236.3,199.5 236.7,199.8 237.1,200.0 237.6,200.2 238.0,200.2 238.4,200.3 238.8,200.3 239.2,200.4 239.6,200.4 240.0,200.4 240.4,200.4 240.8,200.4 241.2,200.5 241.6,200.5 242.0,200.5 242.4,200.5 242.8,200.5 243.2,200.5 243.6,200.5 244.0,200.5 244.4,200.5 244.8,200.5 245.2,200.5 245.6,200.5 246.0,200.5 246.4,200.5 246.8,200.6 247.2,200.6 247.6,200.6 248.0,200.6 248.4,200.6 248.8,200.6 249.2,200.6 249.6,200.6 250.0,200.6 250.4,200.6 250.8,200.6 251.2,200.5 251.7,200.5 252.1,200.5 252.5,200.5 252.9,200.5 253.3,200.5 253.7,200.5 254.1,200.5 254.5,200.5 254.9,200.5 255.3,200.5 255.7,200.5 256.1,200.4 256.5,200.4 256.9,200.4 257.3,200.4 257.7,200.3 258.1,200.3 258.5,200.3 258.9,200.2 259.3,200.1 259.7,200.1 260.1,200.0 260.5,199.9 260.9,199.8 261.3,199.6 261.7,199.4 262.1,199.1 262.5,198.4 262.9,197.1 263.3,194.6 263.7,190.0 264.1,182.9 264.5,173.3 264.9,162.7 265.3,153.9 265.8,150.3 266.2,153.4 266.6,161.5 267.0,171.1 267.4,178.9 267.8,183.3 268.2,183.5 268.6,179.7 269.0,172.5 269.4,162.8 269.8,151.9 270.2,141.5 270.6,133.9 271.0,131.1 271.4,134.0 271.8,141.8 272.2,152.5 272.6,163.8 273.0,174.1 273.4,182.6 273.8,188.9 274.2,193.2 274.6,195.9 275.0,197.6 275.4,198.5 275.8,199.1 276.2,199.4 276.6,199.6 277.0,199.8 277.4,199.9 277.8,200.0 278.2,200.1 278.6,200.2 279.0,200.3 279.4,200.3 279.8,200.4 280.3,200.4 280.7,200.5 281.1,200.5 281.5,200.5 281.9,200.6 282.3,200.6 282.7,200.6 283.1,200.7 283.5,200.7 283.9,200.7 284.3,200.7 284.7,200.7 285.1,200.7 285.5,200.8 285.9,200.8 286.3,200.8 286.7,200.8 287.1,200.8 287.5,200.8 287.9,200.8 288.3,200.8 288.7,200.9 289.1,200.9 289.5,200.9 289.9,200.9 290.3,200.9 290.7,200.9 291.1,200.9 291.5,200.9 291.9,200.9 292.3,200.9 292.7,200.9 293.1,200.9 293.5,200.9 293.9,200.9 294.4,200.9 294.8,200.9 295.2,201.0 295.6,201.0 296.0,201.0 296.4,201.0 296.8,201.0 297.2,201.0 297.6,201.0 298.0,201.0 298.4,201.0 298.8,201.0 299.2,201.0 299.6,201.0 300.0,201.0 300.4,201.0 300.8,201.0 301.2,201.0 301.6,201.0 302.0,201.0 302.4,201.0 302.8,201.0 303.2,201.0 303.6,201.0 304.0,201.0 304.4,201.0 304.8,201.0 305.2,201.0 305.6,201.0 306.0,201.0 306.4,201.1 306.8,201.1 307.2,201.1 307.6,201.1 308.0,201.1 308.5,201.1 308.9,201.1 309.3,201.1 309.7,201.1 310.1,201.1 310.5,201.1 310.9,201.1 311.3,201.1 311.7,201.1 312.1,201.1 312.5,201.1 312.9,201.1 313.3,201.1 313.7,201.1 314.1,201.1 314.5,201.1" fill="none" stroke="#f3a21c" stroke-width="1.4" stroke-linejoin="round" />
<polyline points="32.5,200.0 32.9,200.0 33.3,200.0 33.7,200.0 34.1,200.0 34.5,200.0 34.9,200.0 35.3,200.0 35.7,200.0 36.1,200.0 36.5,200.1 36.9,200.1 37.3,200.1 37.7,200.1 38.1,200.1 38.5,200.1 38.9,200.1 39.3,200.1 39.8,200.1 40.2,200.1 40.6,200.1 41.0,200.1 41.4,200.1 41.8,200.1 42.2,200.1 42.6,200.1 43.0,200.1 43.4,200.1 43.8,200.1 44.2,200.1 44.6,200.1 45.0,200.1 45.4,200.1 45.8,200.1 46.2,200.1 46.6,200.1 47.0,200.1 47.4,200.1 47.8,200.1 48.2,200.1 48.6,200.1 49.0,200.1 49.4,200.1 49.8,200.1 50.2,200.1 50.6,200.1 51.0,200.1 51.4,200.1 51.8,200.1 52.2,200.1 52.6,200.1 53.0,200.1 53.4,200.1 53.9,200.1 54.3,200.1 54.7,200.1 55.1,200.1 55.5,200.1 55.9,200.1 56.3,200.1 56.7,200.1 57.1,200.1 57.5,200.1 57.9,200.1 58.3,200.1 58.7,200.1 59.1,200.1 59.5,200.1 59.9,200.1 60.3,200.1 60.7,200.1 61.1,200.1 61.5,200.1 61.9,200.1 62.3,200.1 62.7,200.1 63.1,200.1 63.5,200.1 63.9,200.1 64.3,200.1 64.7,200.1 65.1,200.1 65.5,200.1 65.9,200.1 66.3,200.1 66.7,200.1 67.1,200.1 67.5,200.1 68.0,200.1 68.4,200.1 68.8,200.1 69.2,200.0 69.6,200.0 70.0,200.0 70.4,200.0 70.8,200.0 71.2,200.0 71.6,200.0 72.0,200.0 72.4,200.0 72.8,200.0 73.2,200.0 73.6,199.9 74.0,199.9 74.4,199.9 74.8,199.9 75.2,199.9 75.6,199.9 76.0,199.9 76.4,199.8 76.8,199.8 77.2,199.8 77.6,199.8 78.0,199.7 78.4,199.7 78.8,199.7 79.2,199.7 79.6,199.6 80.0,199.6 80.4,199.6 80.8,199.5 81.2,199.5 81.6,199.5 82.1,199.4 82.5,199.4 82.9,199.4 83.3,199.3 83.7,199.3 84.1,199.2 84.5,199.2 84.9,199.1 85.3,199.1 85.7,199.0 86.1,199.0 86.5,198.9 86.9,198.9 87.3,198.8 87.7,198.7 88.1,198.7 88.5,198.6 88.9,198.5 89.3,198.5 89.7,198.4 90.1,198.3 90.5,198.2 90.9,198.2 91.3,198.1 91.7,198.0 92.1,197.9 92.5,197.8 92.9,197.8 93.3,197.7 93.7,197.6 94.1,197.5 94.5,197.3 94.9,197.2 95.3,197.1 95.7,197.0 96.2,196.8 96.6,196.6 97.0,196.4 97.4,196.2 97.8,195.9 98.2,195.5 98.6,195.2 99.0,194.7 99.4,194.2 99.8,193.6 100.2,193.0 100.6,192.3 101.0,191.5 101.4,190.7 101.8,189.8 102.2,189.0 102.6,188.2 103.0,187.4 103.4,186.7 103.8,186.2 104.2,185.9 104.6,185.7 105.0,185.8 105.4,186.1 105.8,186.6 106.2,187.2 106.6,187.9 107.0,188.7 107.4,189.5 107.8,190.3 108.2,191.1 108.6,191.8 109.0,192.5 109.4,193.1 109.8,193.7 110.3,194.1 110.7,194.6 111.1,194.9 111.5,195.2 111.9,195.5 112.3,195.7 112.7,195.9 113.1,196.0 113.5,196.2 113.9,196.3 114.3,196.4 114.7,196.5 115.1,196.6 115.5,196.7 115.9,196.8 116.3,196.8 116.7,196.9 117.1,197.0 117.5,197.1 117.9,197.1 118.3,197.2 118.7,197.3 119.1,197.4 119.5,197.4 119.9,197.5 120.3,197.6 120.7,197.7 121.1,197.7 121.5,197.8 121.9,197.9 122.3,197.9 122.7,198.0 123.1,198.1 123.5,198.1 123.9,198.2 124.3,198.2 124.8,198.3 125.2,198.4 125.6,198.4 126.0,198.5 126.4,198.5 126.8,198.6 127.2,198.6 127.6,198.7 128.0,198.7 128.4,198.7 128.8,198.8 129.2,198.8 129.6,198.9 130.0,198.9 130.4,198.9 130.8,198.9 131.2,199.0 131.6,199.0 132.0,199.0 132.4,199.0 132.8,199.0 133.2,199.0 133.6,199.0 134.0,199.0 134.4,199.0 134.8,199.0 135.2,199.0 135.6,199.0 136.0,198.9 136.4,198.9 136.8,198.8 137.2,198.8 137.6,198.7 138.0,198.6 138.4,198.4 138.9,198.3 139.3,198.0 139.7,197.7 140.1,197.4 140.5,196.9 140.9,196.3 141.3,195.6 141.7,194.8 142.1,193.7 142.5,192.5 142.9,191.1 143.3,189.4 143.7,187.5 144.1,185.5 144.5,183.2 144.9,180.8 145.3,178.2 145.7,175.6 146.1,173.1 146.5,170.6 146.9,168.4 147.3,166.5 147.7,165.0 148.1,164.1 148.5,163.8 148.9,164.1 149.3,165.1 149.7,166.5 150.1,168.4 150.5,170.7 150.9,173.1 151.3,175.7 151.7,178.3 152.1,180.8 152.5,183.2 153.0,185.5 153.4,187.6 153.8,189.5 154.2,191.2 154.6,192.6 155.0,193.8 155.4,194.9 155.8,195.8 156.2,196.5 156.6,197.0 157.0,197.5 157.4,197.9 157.8,198.2 158.2,198.4 158.6,198.6 159.0,198.8 159.4,198.9 159.8,199.0 160.2,199.1 160.6,199.2 161.0,199.2 161.4,199.3 161.8,199.3 162.2,199.4 162.6,199.4 163.0,199.4 163.4,199.4 163.8,199.5 164.2,199.5 164.6,199.5 165.0,199.5 165.4,199.5 165.8,199.5 166.2,199.5 166.6,199.5 167.1,199.5 167.5,199.5 167.9,199.5 168.3,199.5 168.7,199.5 169.1,199.5 169.5,199.5 169.9,199.5 170.3,199.4 170.7,199.4 171.1,199.4 171.5,199.3 171.9,199.3 172.3,199.3 172.7,199.2 173.1,199.1 173.5,199.0 173.9,198.9 174.3,198.8 174.7,198.6 175.1,198.4 175.5,198.1 175.9,197.7 176.3,197.3 176.7,196.8 177.1,196.2 177.5,195.5 177.9,194.7 178.3,193.8 178.7,192.9 179.1,191.9 179.5,190.9 179.9,189.8 180.3,188.8 180.7,187.8 181.2,186.7 181.6,185.5 182.0,184.0 182.4,181.9 182.8,179.0 183.2,175.0 183.6,169.7 184.0,162.7 184.4,154.2 184.8,144.5 185.2,134.0 185.6,123.8 186.0,115.0 186.4,109.0 186.8,107.1 187.2,109.7 187.6,116.4 188.0,126.0 188.4,137.0 188.8,148.3 189.2,158.8 189.6,168.1 190.0,175.8 190.4,181.9 190.8,186.5 191.2,189.8 191.6,192.1 192.0,193.7 192.4,194.7 192.8,195.4 193.2,195.9 193.6,196.2 194.0,196.4 194.4,196.6 194.8,196.7 195.3,196.7 195.7,196.7 196.1,196.7 196.5,196.6 196.9,196.5 197.3,196.3 197.7,196.1 198.1,195.9 198.5,195.5 198.9,195.0 199.3,194.4 199.7,193.5 200.1,192.1 200.5,190.1 200.9,187.1 201.3,182.8 201.7,176.7 202.1,168.3 202.5,157.4 202.9,143.6 203.3,127.0 203.7,108.0 204.1,87.6 204.5,67.1 204.9,48.4 205.3,33.8 205.7,25.2 206.1,24.3 206.5,31.1 206.9,44.4 207.3,62.1 207.7,82.0 208.1,102.0 208.5,120.8 208.9,137.2 209.4,150.8 209.8,161.5 210.2,169.5 210.6,175.2 211.0,179.1 211.4,181.7 211.8,183.5 212.2,184.9 212.6,186.1 213.0,187.3 213.4,188.5 213.8,189.7 214.2,190.9 214.6,192.1 215.0,193.2 215.4,194.2 215.8,195.1 216.2,195.9 216.6,196.6 217.0,197.1 217.4,197.6 217.8,198.0 218.2,198.3 218.6,198.5 219.0,198.7 219.4,198.9 219.8,199.0 220.2,199.1 220.6,199.2 221.0,199.3 221.4,199.4 221.8,199.5 222.2,199.5 222.6,199.6 223.0,199.6 223.5,199.7 223.9,199.7 224.3,199.8 224.7,199.8 225.1,199.8 225.5,199.9 225.9,199.9 226.3,199.9 226.7,200.0 227.1,200.0 227.5,200.0 227.9,200.0 228.3,200.0 228.7,200.0 229.1,200.0 229.5,200.0 229.9,200.0 230.3,199.9 230.7,199.8 231.1,199.6 231.5,199.3 231.9,198.9 232.3,198.3 232.7,197.7 233.1,197.0 233.5,196.5 233.9,196.4 234.3,196.6 234.7,197.1 235.1,197.7 235.5,198.4 235.9,199.0 236.3,199.5 236.7,199.8 237.1,200.0 237.6,200.1 238.0,200.2 238.4,200.3 238.8,200.3 239.2,200.4 239.6,200.4 240.0,200.4 240.4,200.4 240.8,200.4 241.2,200.5 241.6,200.5 242.0,200.5 242.4,200.5 242.8,200.5 243.2,200.5 243.6,200.5 244.0,200.5 244.4,200.5 244.8,200.5 245.2,200.5 245.6,200.5 246.0,200.5 246.4,200.5 246.8,200.5 247.2,200.5 247.6,200.5 248.0,200.5 248.4,200.5 248.8,200.5 249.2,200.5 249.6,200.5 250.0,200.5 250.4,200.5 250.8,200.5 251.2,200.5 251.7,200.5 252.1,200.5 252.5,200.5 252.9,200.5 253.3,200.5 253.7,200.5 254.1,200.5 254.5,200.5 254.9,200.5 255.3,200.4 255.7,200.4 256.1,200.4 256.5,200.4 256.9,200.4 257.3,200.3 257.7,200.3 258.1,200.3 258.5,200.2 258.9,200.2 259.3,200.1 259.7,200.0 260.1,200.0 260.5,199.9 260.9,199.7 261.3,199.6 261.7,199.4 262.1,199.0 262.5,198.3 262.9,197.0 263.3,194.3 263.7,189.6 264.1,182.2 264.5,172.3 264.9,161.3 265.3,152.1 265.8,148.3 266.2,151.4 266.6,159.7 267.0,169.3 267.4,177.2 267.8,181.4 268.2,181.4 268.6,177.6 269.0,170.8 269.4,161.9 269.8,152.2 270.2,143.4 270.6,137.0 271.0,134.7 271.4,137.2 271.8,143.7 272.2,152.9 272.6,162.9 273.0,172.4 273.4,180.6 273.8,187.0 274.2,191.7 274.6,194.8 275.0,196.8 275.4,198.0 275.8,198.8 276.2,199.2 276.6,199.5 277.0,199.7 277.4,199.9 277.8,200.0 278.2,200.1 278.6,200.2 279.0,200.2 279.4,200.3 279.8,200.3 280.3,200.4 280.7,200.4 281.1,200.5 281.5,200.5 281.9,200.5 282.3,200.6 282.7,200.6 283.1,200.6 283.5,200.7 283.9,200.7 284.3,200.7 284.7,200.7 285.1,200.7 285.5,200.7 285.9,200.8 286.3,200.8 286.7,200.8 287.1,200.8 287.5,200.8 287.9,200.8 288.3,200.8 288.7,200.8 289.1,200.8 289.5,200.9 289.9,200.9 290.3,200.9 290.7,200.9 291.1,200.9 291.5,200.9 291.9,200.9 292.3,200.9 292.7,200.9 293.1,200.9 293.5,200.9 293.9,200.9 294.4,200.9 294.8,200.9 295.2,200.9 295.6,201.0 296.0,201.0 296.4,201.0 296.8,201.0 297.2,201.0 297.6,201.0 298.0,201.0 298.4,201.0 298.8,201.0 299.2,201.0 299.6,201.0 300.0,201.0 300.4,201.0 300.8,201.0 301.2,201.0 301.6,201.0 302.0,201.0 302.4,201.0 302.8,201.0 303.2,201.0 303.6,201.0 304.0,201.0 304.4,201.0 304.8,201.0 305.2,201.0 305.6,201.0 306.0,201.0 306.4,201.0 306.8,201.1 307.2,201.1 307.6,201.1 308.0,201.1 308.5,201.1 308.9,201.1 309.3,201.1 309.7,201.1 310.1,201.1 310.5,201.1 310.9,201.1 311.3,201.1 311.7,201.1 312.1,201.1 312.5,201.1 312.9,201.1 313.3,201.1 313.7,201.1 314.1,201.1 314.5,201.1" fill="none" stroke="#ec7437" stroke-width="1.4" stroke-linejoin="round" />
<polyline points="32.5,200.0 32.9,200.0 33.3,200.0 33.7,200.0 34.1,200.0 34.5,200.0 34.9,200.0 35.3,200.0 35.7,200.1 36.1,200.1 36.5,200.1 36.9,200.1 37.3,200.1 37.7,200.1 38.1,200.1 38.5,200.1 38.9,200.1 39.3,200.1 39.8,200.1 40.2,200.1 40.6,200.1 41.0,200.1 41.4,200.1 41.8,200.1 42.2,200.1 42.6,200.1 43.0,200.1 43.4,200.1 43.8,200.1 44.2,200.1 44.6,200.1 45.0,200.1 45.4,200.1 45.8,200.1 46.2,200.1 46.6,200.1 47.0,200.1 47.4,200.1 47.8,200.1 48.2,200.1 48.6,200.1 49.0,200.1 49.4,200.1 49.8,200.1 50.2,200.1 50.6,200.1 51.0,200.1 51.4,200.1 51.8,200.1 52.2,200.1 52.6,200.1 53.0,200.1 53.4,200.1 53.9,200.1 54.3,200.1 54.7,200.1 55.1,200.1 55.5,200.1 55.9,200.1 56.3,200.1 56.7,200.1 57.1,200.1 57.5,200.1 57.9,200.1 58.3,200.1 58.7,200.1 59.1,200.1 59.5,200.1 59.9,200.1 60.3,200.1 60.7,200.1 61.1,200.1 61.5,200.1 61.9,200.1 62.3,200.1 62.7,200.1 63.1,200.1 63.5,200.1 63.9,200.1 64.3,200.1 64.7,200.1 65.1,200.1 65.5,200.1 65.9,200.1 66.3,200.1 66.7,200.1 67.1,200.1 67.5,200.1 68.0,200.1 68.4,200.1 68.8,200.1 69.2,200.0 69.6,200.0 70.0,200.0 70.4,200.0 70.8,200.0 71.2,200.0 71.6,200.0 72.0,200.0 72.4,200.0 72.8,200.0 73.2,200.0 73.6,199.9 74.0,199.9 74.4,199.9 74.8,199.9 75.2,199.9 75.6,199.9 76.0,199.8 76.4,199.8 76.8,199.8 77.2,199.8 77.6,199.7 78.0,199.7 78.4,199.7 78.8,199.7 79.2,199.6 79.6,199.6 80.0,199.6 80.4,199.5 80.8,199.5 81.2,199.5 81.6,199.4 82.1,199.4 82.5,199.3 82.9,199.3 83.3,199.3 83.7,199.2 84.1,199.2 84.5,199.1 84.9,199.0 85.3,199.0 85.7,198.9 86.1,198.9 86.5,198.8 86.9,198.8 87.3,198.7 87.7,198.6 88.1,198.6 88.5,198.5 88.9,198.4 89.3,198.3 89.7,198.3 90.1,198.2 90.5,198.1 90.9,198.0 91.3,197.9 91.7,197.8 92.1,197.8 92.5,197.7 92.9,197.6 93.3,197.5 93.7,197.4 94.1,197.3 94.5,197.2 94.9,197.0 95.3,196.9 95.7,196.8 96.2,196.6 96.6,196.4 97.0,196.2 97.4,196.0 97.8,195.7 98.2,195.4 98.6,195.0 99.0,194.6 99.4,194.1 99.8,193.5 100.2,192.9 100.6,192.3 101.0,191.5 101.4,190.8 101.8,190.0 102.2,189.2 102.6,188.4 103.0,187.7 103.4,187.0 103.8,186.6 104.2,186.2 104.6,186.1 105.0,186.2 105.4,186.5 105.8,186.9 106.2,187.5 106.6,188.2 107.0,188.9 107.4,189.7 107.8,190.4 108.2,191.1 108.6,191.8 109.0,192.4 109.4,193.0 109.8,193.5 110.3,194.0 110.7,194.4 111.1,194.7 111.5,195.0 111.9,195.2 112.3,195.4 112.7,195.6 113.1,195.8 113.5,195.9 113.9,196.0 114.3,196.1 114.7,196.2 115.1,196.3 115.5,196.4 115.9,196.5 116.3,196.6 116.7,196.7 117.1,196.8 117.5,196.8 117.9,196.9 118.3,197.0 118.7,197.1 119.1,197.2 119.5,197.2 119.9,197.3 120.3,197.4 120.7,197.5 121.1,197.5 121.5,197.6 121.9,197.7 122.3,197.8 122.7,197.8 123.1,197.9 123.5,198.0 123.9,198.1 124.3,198.1 124.8,198.2 125.2,198.2 125.6,198.3 126.0,198.4 126.4,198.4 126.8,198.5 127.2,198.5 127.6,198.6 128.0,198.6 128.4,198.7 128.8,198.7 129.2,198.8 129.6,198.8 130.0,198.9 130.4,198.9 130.8,198.9 131.2,199.0 131.6,199.0 132.0,199.0 132.4,199.0 132.8,199.0 133.2,199.1 133.6,199.1 134.0,199.1 134.4,199.1 134.8,199.1 135.2,199.1 135.6,199.0 136.0,199.0 136.4,199.0 136.8,199.0 137.2,198.9 137.6,198.8 138.0,198.7 138.4,198.6 138.9,198.5 139.3,198.3 139.7,198.0 140.1,197.7 140.5,197.3 140.9,196.8 141.3,196.2 141.7,195.4 142.1,194.5 142.5,193.5 142.9,192.2 143.3,190.8 143.7,189.1 144.1,187.3 144.5,185.3 144.9,183.2 145.3,181.0 145.7,178.7 146.1,176.5 146.5,174.3 146.9,172.4 147.3,170.7 147.7,169.4 148.1,168.6 148.5,168.4 148.9,168.6 149.3,169.5 149.7,170.7 150.1,172.4 150.5,174.4 150.9,176.5 151.3,178.8 151.7,181.0 152.1,183.3 152.5,185.4 153.0,187.4 153.4,189.2 153.8,190.8 154.2,192.3 154.6,193.6 155.0,194.7 155.4,195.6 155.8,196.3 156.2,197.0 156.6,197.5 157.0,197.9 157.4,198.2 157.8,198.5 158.2,198.7 158.6,198.8 159.0,199.0 159.4,199.1 159.8,199.2 160.2,199.3 160.6,199.3 161.0,199.4 161.4,199.4 161.8,199.4 162.2,199.5 162.6,199.5 163.0,199.5 163.4,199.6 163.8,199.6 164.2,199.6 164.6,199.6 165.0,199.6 165.4,199.6 165.8,199.6 166.2,199.6 166.6,199.6 167.1,199.6 167.5,199.6 167.9,199.6 168.3,199.6 168.7,199.6 169.1,199.6 169.5,199.6 169.9,199.6 170.3,199.5 170.7,199.5 171.1,199.5 171.5,199.5 171.9,199.4 172.3,199.4 172.7,199.3 173.1,199.2 173.5,199.2 173.9,199.1 174.3,198.9 174.7,198.8 175.1,198.6 175.5,198.4 175.9,198.1 176.3,197.7 176.7,197.3 177.1,196.8 177.5,196.2 177.9,195.6 178.3,194.8 178.7,194.1 179.1,193.2 179.5,192.4 179.9,191.5 180.3,190.7 180.7,189.8 181.2,188.8 181.6,187.6 182.0,186.2 182.4,184.2 182.8,181.5 183.2,177.6 183.6,172.4 184.0,165.8 184.4,157.7 184.8,148.4 185.2,138.5 185.6,128.8 186.0,120.4 186.4,114.7 186.8,112.9 187.2,115.3 187.6,121.6 188.0,130.5 188.4,140.9 188.8,151.4 189.2,161.3 189.6,170.1 190.0,177.3 190.4,183.0 190.8,187.3 191.2,190.4 191.6,192.6 192.0,194.1 192.4,195.0 192.8,195.7 193.2,196.1 193.6,196.4 194.0,196.6 194.4,196.7 194.8,196.8 195.3,196.8 195.7,196.8 196.1,196.8 196.5,196.7 196.9,196.6 197.3,196.4 197.7,196.2 198.1,195.9 198.5,195.6 198.9,195.1 199.3,194.5 199.7,193.5 200.1,192.1 200.5,190.1 200.9,187.1 201.3,182.8 201.7,176.7 202.1,168.4 202.5,157.4 202.9,143.6 203.3,127.0 203.7,108.0 204.1,87.6 204.5,67.1 204.9,48.4 205.3,33.8 205.7,25.2 206.1,24.3 206.5,31.1 206.9,44.4 207.3,62.1 207.7,82.0 208.1,102.0 208.5,120.8 208.9,137.2 209.4,150.8 209.8,161.5 210.2,169.5 210.6,175.2 211.0,179.1 211.4,181.7 211.8,183.5 212.2,184.9 212.6,186.1 213.0,187.3 213.4,188.5 213.8,189.7 214.2,190.9 214.6,192.1 215.0,193.2 215.4,194.2 215.8,195.1 216.2,195.9 216.6,196.6 217.0,197.2 217.4,197.6 217.8,198.0 218.2,198.3 218.6,198.5 219.0,198.7 219.4,198.9 219.8,199.0 220.2,199.1 220.6,199.2 221.0,199.3 221.4,199.4 221.8,199.5 222.2,199.5 222.6,199.6 223.0,199.6 223.5,199.7 223.9,199.7 224.3,199.8 224.7,199.8 225.1,199.8 225.5,199.9 225.9,199.9 226.3,199.9 226.7,200.0 227.1,200.0 227.5,200.0 227.9,200.0 228.3,200.0 228.7,200.0 229.1,200.0 229.5,200.0 229.9,200.0 230.3,199.9 230.7,199.8 231.1,199.6 231.5,199.3 231.9,198.9 232.3,198.3 232.7,197.7 233.1,197.0 233.5,196.5 233.9,196.3 234.3,196.6 234.7,197.1 235.1,197.7 235.5,198.4 235.9,199.0 236.3,199.4 236.7,199.8 237.1,200.0 237.6,200.1 238.0,200.2 238.4,200.3 238.8,200.3 239.2,200.3 239.6,200.4 240.0,200.4 240.4,200.4 240.8,200.4 241.2,200.4 241.6,200.4 242.0,200.5 242.4,200.5 242.8,200.5 243.2,200.5 243.6,200.5 244.0,200.5 244.4,200.5 244.8,200.5 245.2,200.5 245.6,200.5 246.0,200.5 246.4,200.5 246.8,200.5 247.2,200.5 247.6,200.5 248.0,200.5 248.4,200.5 248.8,200.5 249.2,200.5 249.6,200.5 250.0,200.5 250.4,200.5 250.8,200.5 251.2,200.5 251.7,200.5 252.1,200.5 252.5,200.5 252.9,200.5 253.3,200.4 253.7,200.4 254.1,200.4 254.5,200.4 254.9,200.4 255.3,200.4 255.7,200.3 256.1,200.3 256.5,200.3 256.9,200.3 257.3,200.2 257.7,200.2 258.1,200.1 258.5,200.1 258.9,200.0 259.3,199.9 259.7,199.9 260.1,199.8 260.5,199.7 260.9,199.5 261.3,199.3 261.7,199.1 262.1,198.7 262.5,198.0 262.9,196.5 263.3,193.7 263.7,188.8 264.1,181.0 264.5,170.5 264.9,158.8 265.3,148.9 265.8,144.3 266.2,146.6 266.6,154.0 267.0,162.7 267.4,169.5 267.8,172.8 268.2,172.5 268.6,169.3 269.0,164.3 269.4,158.5 269.8,152.8 270.2,148.0 270.6,144.9 271.0,143.8 271.4,145.0 271.8,148.4 272.2,153.5 272.6,159.5 273.0,166.0 273.4,172.4 273.8,178.3 274.2,183.4 274.6,187.7 275.0,191.1 275.4,193.8 275.8,195.7 276.2,197.1 276.6,198.0 277.0,198.7 277.4,199.1 277.8,199.4 278.2,199.6 278.6,199.8 279.0,199.9 279.4,200.0 279.8,200.1 280.3,200.2 280.7,200.2 281.1,200.3 281.5,200.3 281.9,200.4 282.3,200.4 282.7,200.5 283.1,200.5 283.5,200.5 283.9,200.5 284.3,200.6 284.7,200.6 285.1,200.6 285.5,200.6 285.9,200.7 286.3,200.7 286.7,200.7 287.1,200.7 287.5,200.7 287.9,200.7 288.3,200.8 288.7,200.8 289.1,200.8 289.5,200.8 289.9,200.8 290.3,200.8 290.7,200.8 291.1,200.8 291.5,200.8 291.9,200.9 292.3,200.9 292.7,200.9 293.1,200.9 293.5,200.9 293.9,200.9 294.4,200.9 294.8,200.9 295.2,200.9 295.6,200.9 296.0,200.9 296.4,200.9 296.8,200.9 297.2,200.9 297.6,200.9 298.0,200.9 298.4,201.0 298.8,201.0 299.2,201.0 299.6,201.0 300.0,201.0 300.4,201.0 300.8,201.0 301.2,201.0 301.6,201.0 302.0,201.0 302.4,201.0 302.8,201.0 303.2,201.0 303.6,201.0 304.0,201.0 304.4,201.0 304.8,201.0 305.2,201.0 305.6,201.0 306.0,201.0 306.4,201.0 306.8,201.0 307.2,201.0 307.6,201.0 308.0,201.0 308.5,201.0 308.9,201.1 309.3,201.1 309.7,201.1 310.1,201.1 310.5,201.1 310.9,201.1 311.3,201.1 311.7,201.1 312.1,201.1 312.5,201.1 312.9,201.1 313.3,201.1 313.7,201.1 314.1,201.1 314.5,201.1" fill="none" stroke="#e0432c" stroke-width="1.4" stroke-linejoin="round" />
<line x1="374.50" y1="6.00" x2="374.50" y2="201.90" stroke="#747474" stroke-width="0.75" />
<line x1="374.50" y1="201.90" x2="656.85" y2="201.90" stroke="#747474" stroke-width="0.75" />
<line x1="374.50" y1="201.90" x2="378.50" y2="201.90" stroke="#747474" stroke-width="0.75" />
<text x="371.3" y="205.2" font-size="9.3" text-anchor="end" >0</text>
<line x1="374.50" y1="113.10" x2="378.50" y2="113.10" stroke="#747474" stroke-width="0.75" />
<text x="371.3" y="116.4" font-size="9.3" text-anchor="end" >0.5</text>
<line x1="374.50" y1="24.30" x2="378.50" y2="24.30" stroke="#747474" stroke-width="0.75" />
<text x="371.3" y="27.6" font-size="9.3" text-anchor="end" >1.0</text>
<line x1="374.50" y1="157.50" x2="377.00" y2="157.50" stroke="#747474" stroke-width="0.75" />
<line x1="374.50" y1="68.70" x2="377.00" y2="68.70" stroke="#747474" stroke-width="0.75" />
<line x1="374.50" y1="201.90" x2="374.50" y2="197.90" stroke="#747474" stroke-width="0.75" />
<text x="374.5" y="213.0" font-size="9.3" text-anchor="middle" >400</text>
<line x1="455.17" y1="201.90" x2="455.17" y2="197.90" stroke="#747474" stroke-width="0.75" />
<text x="455.2" y="213.0" font-size="9.3" text-anchor="middle" >500</text>
<line x1="535.84" y1="201.90" x2="535.84" y2="197.90" stroke="#747474" stroke-width="0.75" />
<text x="535.8" y="213.0" font-size="9.3" text-anchor="middle" >600</text>
<line x1="616.51" y1="201.90" x2="616.51" y2="197.90" stroke="#747474" stroke-width="0.75" />
<text x="616.5" y="213.0" font-size="9.3" text-anchor="middle" >700</text>
<line x1="414.83" y1="201.90" x2="414.83" y2="199.40" stroke="#747474" stroke-width="0.75" />
<line x1="495.50" y1="201.90" x2="495.50" y2="199.40" stroke="#747474" stroke-width="0.75" />
<line x1="576.17" y1="201.90" x2="576.17" y2="199.40" stroke="#747474" stroke-width="0.75" />
<line x1="656.85" y1="201.90" x2="656.85" y2="199.40" stroke="#747474" stroke-width="0.75" />
<text x="507.0" y="227.6" font-size="9.3" text-anchor="middle" >Wavelength (nm)</text>
<text transform="translate(352.0,104) rotate(-90)" font-size="9.3" text-anchor="middle">EL (normalized)</text>
<polyline points="374.5,200.1 374.9,200.0 375.3,200.0 375.7,200.0 376.1,200.0 376.5,200.0 376.9,200.0 377.3,200.0 377.7,200.0 378.1,200.0 378.5,200.0 378.9,200.0 379.3,200.0 379.7,200.0 380.1,200.0 380.6,200.0 381.0,200.0 381.4,200.0 381.8,200.0 382.2,200.0 382.6,200.0 383.0,199.9 383.4,199.9 383.8,199.9 384.2,199.9 384.6,199.9 385.0,199.9 385.4,199.9 385.8,199.9 386.2,199.9 386.6,199.9 387.0,199.9 387.4,199.9 387.8,199.9 388.2,199.9 388.6,199.9 389.0,199.9 389.4,199.9 389.8,199.9 390.2,199.9 390.6,199.8 391.0,199.8 391.4,199.8 391.8,199.8 392.2,199.8 392.7,199.8 393.1,199.8 393.5,199.8 393.9,199.8 394.3,199.8 394.7,199.8 395.1,199.8 395.5,199.8 395.9,199.8 396.3,199.8 396.7,199.8 397.1,199.8 397.5,199.8 397.9,199.7 398.3,199.7 398.7,199.7 399.1,199.7 399.5,199.7 399.9,199.7 400.3,199.7 400.7,199.7 401.1,199.7 401.5,199.7 401.9,199.7 402.3,199.7 402.7,199.7 403.1,199.7 403.5,199.7 403.9,199.7 404.3,199.6 404.8,199.6 405.2,199.6 405.6,199.6 406.0,199.6 406.4,199.6 406.8,199.6 407.2,199.6 407.6,199.6 408.0,199.6 408.4,199.6 408.8,199.6 409.2,199.6 409.6,199.6 410.0,199.6 410.4,199.5 410.8,199.5 411.2,199.5 411.6,199.5 412.0,199.5 412.4,199.5 412.8,199.5 413.2,199.5 413.6,199.5 414.0,199.5 414.4,199.5 414.8,199.5 415.2,199.5 415.6,199.4 416.0,199.4 416.4,199.4 416.9,199.4 417.3,199.4 417.7,199.4 418.1,199.4 418.5,199.4 418.9,199.4 419.3,199.4 419.7,199.4 420.1,199.3 420.5,199.3 420.9,199.3 421.3,199.3 421.7,199.3 422.1,199.3 422.5,199.3 422.9,199.3 423.3,199.3 423.7,199.2 424.1,199.2 424.5,199.2 424.9,199.2 425.3,199.2 425.7,199.2 426.1,199.2 426.5,199.1 426.9,199.1 427.3,199.1 427.7,199.1 428.1,199.1 428.5,199.1 429.0,199.0 429.4,199.0 429.8,199.0 430.2,199.0 430.6,198.9 431.0,198.9 431.4,198.9 431.8,198.9 432.2,198.8 432.6,198.8 433.0,198.8 433.4,198.7 433.8,198.7 434.2,198.6 434.6,198.6 435.0,198.5 435.4,198.5 435.8,198.4 436.2,198.3 436.6,198.3 437.0,198.1 437.4,198.0 437.8,197.8 438.2,197.6 438.6,197.3 439.0,196.9 439.4,196.4 439.8,195.7 440.2,194.9 440.6,193.8 441.1,192.4 441.5,190.7 441.9,188.7 442.3,186.3 442.7,183.6 443.1,180.4 443.5,177.0 443.9,173.3 444.3,169.4 444.7,165.6 445.1,161.8 445.5,158.4 445.9,155.4 446.3,153.1 446.7,151.6 447.1,151.1 447.5,151.6 447.9,153.1 448.3,155.4 448.7,158.3 449.1,161.8 449.5,165.5 449.9,169.4 450.3,173.2 450.7,176.9 451.1,180.4 451.5,183.5 451.9,186.2 452.3,188.6 452.7,190.7 453.2,192.3 453.6,193.7 454.0,194.8 454.4,195.6 454.8,196.3 455.2,196.8 455.6,197.1 456.0,197.4 456.4,197.6 456.8,197.8 457.2,197.9 457.6,198.0 458.0,198.1 458.4,198.2 458.8,198.2 459.2,198.2 459.6,198.3 460.0,198.3 460.4,198.3 460.8,198.4 461.2,198.4 461.6,198.4 462.0,198.4 462.4,198.4 462.8,198.4 463.2,198.4 463.6,198.4 464.0,198.4 464.4,198.4 464.9,198.4 465.3,198.4 465.7,198.4 466.1,198.4 466.5,198.4 466.9,198.3 467.3,198.3 467.7,198.3 468.1,198.3 468.5,198.3 468.9,198.2 469.3,198.2 469.7,198.2 470.1,198.1 470.5,198.1 470.9,198.1 471.3,198.0 471.7,198.0 472.1,197.9 472.5,197.9 472.9,197.8 473.3,197.7 473.7,197.7 474.1,197.6 474.5,197.5 474.9,197.4 475.3,197.3 475.7,197.2 476.1,197.1 476.5,197.0 477.0,196.9 477.4,196.7 477.8,196.5 478.2,196.3 478.6,196.1 479.0,195.8 479.4,195.5 479.8,195.1 480.2,194.5 480.6,193.9 481.0,193.0 481.4,191.9 481.8,190.5 482.2,188.8 482.6,186.5 483.0,183.7 483.4,180.2 483.8,175.9 484.2,170.7 484.6,164.6 485.0,157.3 485.4,149.0 485.8,139.6 486.2,129.2 486.6,117.8 487.0,105.8 487.4,93.3 487.8,80.6 488.2,68.1 488.6,56.4 489.1,45.8 489.5,36.8 489.9,30.0 490.3,25.8 490.7,24.3 491.1,25.8 491.5,30.0 491.9,36.8 492.3,45.8 492.7,56.4 493.1,68.1 493.5,80.6 493.9,93.3 494.3,105.8 494.7,117.8 495.1,129.2 495.5,139.6 495.9,149.0 496.3,157.3 496.7,164.5 497.1,170.7 497.5,175.9 497.9,180.2 498.3,183.7 498.7,186.5 499.1,188.8 499.5,190.5 499.9,191.9 500.3,193.0 500.7,193.9 501.2,194.5 501.6,195.0 502.0,195.5 502.4,195.8 502.8,196.1 503.2,196.3 503.6,196.5 504.0,196.6 504.4,196.8 504.8,196.9 505.2,197.0 505.6,197.1 506.0,197.2 506.4,197.3 506.8,197.4 507.2,197.4 507.6,197.5 508.0,197.5 508.4,197.6 508.8,197.6 509.2,197.7 509.6,197.7 510.0,197.7 510.4,197.7 510.8,197.7 511.2,197.7 511.6,197.6 512.0,197.6 512.4,197.5 512.8,197.4 513.3,197.3 513.7,197.1 514.1,196.9 514.5,196.6 514.9,196.2 515.3,195.7 515.7,195.1 516.1,194.4 516.5,193.5 516.9,192.5 517.3,191.3 517.7,189.9 518.1,188.3 518.5,186.6 518.9,184.7 519.3,182.6 519.7,180.5 520.1,178.3 520.5,176.1 520.9,173.9 521.3,171.8 521.7,170.0 522.1,168.5 522.5,167.3 522.9,166.6 523.3,166.3 523.7,166.6 524.1,167.3 524.5,168.5 524.9,170.1 525.4,171.9 525.8,174.0 526.2,176.2 526.6,178.5 527.0,180.7 527.4,182.9 527.8,184.9 528.2,186.9 528.6,188.6 529.0,190.2 529.4,191.6 529.8,192.8 530.2,193.9 530.6,194.8 531.0,195.5 531.4,196.2 531.8,196.7 532.2,197.1 532.6,197.4 533.0,197.7 533.4,197.9 533.8,198.1 534.2,198.2 534.6,198.3 535.0,198.4 535.4,198.5 535.8,198.5 536.2,198.6 536.6,198.6 537.1,198.6 537.5,198.7 537.9,198.7 538.3,198.7 538.7,198.7 539.1,198.7 539.5,198.7 539.9,198.8 540.3,198.8 540.7,198.7 541.1,198.7 541.5,198.7 541.9,198.7 542.3,198.6 542.7,198.6 543.1,198.5 543.5,198.4 543.9,198.3 544.3,198.1 544.7,197.9 545.1,197.6 545.5,197.2 545.9,196.7 546.3,196.0 546.7,195.2 547.1,194.3 547.5,193.2 547.9,191.9 548.3,190.4 548.7,188.8 549.2,187.1 549.6,185.2 550.0,183.4 550.4,181.6 550.8,179.9 551.2,178.5 551.6,177.4 552.0,176.7 552.4,176.4 552.8,176.7 553.2,177.4 553.6,178.5 554.0,180.0 554.4,181.7 554.8,183.5 555.2,185.3 555.6,187.2 556.0,188.9 556.4,190.6 556.8,192.0 557.2,193.3 557.6,194.5 558.0,195.4 558.4,196.2 558.8,196.9 559.2,197.4 559.6,197.8 560.0,198.2 560.4,198.4 560.8,198.6 561.3,198.7 561.7,198.9 562.1,199.0 562.5,199.0 562.9,199.1 563.3,199.1 563.7,199.2 564.1,199.2 564.5,199.2 564.9,199.3 565.3,199.3 565.7,199.3 566.1,199.3 566.5,199.4 566.9,199.4 567.3,199.4 567.7,199.4 568.1,199.4 568.5,199.4 568.9,199.4 569.3,199.4 569.7,199.4 570.1,199.3 570.5,199.3 570.9,199.2 571.3,199.2 571.7,199.1 572.1,199.0 572.5,198.9 572.9,198.7 573.4,198.6 573.8,198.5 574.2,198.3 574.6,198.2 575.0,198.1 575.4,198.0 575.8,197.9 576.2,197.9 576.6,197.9 577.0,198.0 577.4,198.1 577.8,198.2 578.2,198.4 578.6,198.5 579.0,198.7 579.4,198.8 579.8,199.0 580.2,199.1 580.6,199.2 581.0,199.3 581.4,199.4 581.8,199.5 582.2,199.5 582.6,199.6 583.0,199.6 583.4,199.6 583.8,199.7 584.2,199.7 584.6,199.7 585.0,199.7 585.5,199.7 585.9,199.7 586.3,199.7 586.7,199.7 587.1,199.8 587.5,199.8 587.9,199.8 588.3,199.8 588.7,199.8 589.1,199.8 589.5,199.8 589.9,199.8 590.3,199.8 590.7,199.8 591.1,199.8 591.5,199.8 591.9,199.8 592.3,199.8 592.7,199.8 593.1,199.8 593.5,199.8 593.9,199.8 594.3,199.8 594.7,199.8 595.1,199.8 595.5,199.8 595.9,199.8 596.3,199.8 596.7,199.8 597.1,199.8 597.6,199.9 598.0,199.9 598.4,199.9 598.8,199.9 599.2,199.9 599.6,199.9 600.0,199.9 600.4,199.9 600.8,199.9 601.2,199.9 601.6,199.9 602.0,199.9 602.4,199.9 602.8,199.9 603.2,199.9 603.6,199.9 604.0,199.9 604.4,199.9 604.8,199.9 605.2,199.9 605.6,199.9 606.0,199.9 606.4,199.9 606.8,199.9 607.2,199.9 607.6,199.8 608.0,199.8 608.4,199.8 608.8,199.8 609.2,199.8 609.7,199.7 610.1,199.7 610.5,199.7 610.9,199.6 611.3,199.6 611.7,199.5 612.1,199.4 612.5,199.3 612.9,199.3 613.3,199.2 613.7,199.1 614.1,199.1 614.5,199.1 614.9,199.1 615.3,199.1 615.7,199.1 616.1,199.2 616.5,199.2 616.9,199.3 617.3,199.4 617.7,199.4 618.1,199.5 618.5,199.6 618.9,199.6 619.3,199.7 619.7,199.8 620.1,199.8 620.5,199.8 620.9,199.9 621.4,199.9 621.8,199.9 622.2,199.9 622.6,199.9 623.0,199.9 623.4,199.9 623.8,199.9 624.2,199.9 624.6,200.0 625.0,200.0 625.4,200.0 625.8,200.0 626.2,200.0 626.6,200.0 627.0,200.0 627.4,200.0 627.8,200.0 628.2,200.0 628.6,200.0 629.0,200.0 629.4,200.0 629.8,200.0 630.2,200.0 630.6,200.0 631.0,200.0 631.4,200.0 631.8,200.0 632.2,200.0 632.6,200.0 633.0,200.0 633.5,200.0 633.9,200.0 634.3,200.0 634.7,200.0 635.1,200.0 635.5,200.0 635.9,200.0 636.3,200.0 636.7,200.0 637.1,200.0 637.5,200.0 637.9,200.0 638.3,200.0 638.7,200.0 639.1,200.0 639.5,200.0 639.9,200.0 640.3,200.0 640.7,200.0 641.1,200.0 641.5,200.0 641.9,200.0 642.3,200.0 642.7,200.0 643.1,200.0 643.5,200.0 643.9,200.0 644.3,200.0 644.7,200.0 645.1,200.0 645.6,200.0 646.0,200.1 646.4,200.1 646.8,200.1 647.2,200.1 647.6,200.1 648.0,200.1 648.4,200.1 648.8,200.1 649.2,200.1 649.6,200.1 650.0,200.1 650.4,200.1 650.8,200.1 651.2,200.1 651.6,200.1 652.0,200.1 652.4,200.1 652.8,200.1 653.2,200.1 653.6,200.1 654.0,200.1 654.4,200.1 654.8,200.1 655.2,200.1 655.6,200.1 656.0,200.1 656.4,200.1 656.8,200.1" fill="none" stroke="#1f7f4f" stroke-width="1.25" stroke-linejoin="round" />
<polyline points="374.5,199.6 374.9,199.6 375.3,199.5 375.7,199.5 376.1,199.5 376.5,199.5 376.9,199.4 377.3,199.4 377.7,199.4 378.1,199.4 378.5,199.4 378.9,199.3 379.3,199.3 379.7,199.3 380.1,199.3 380.6,199.2 381.0,199.2 381.4,199.2 381.8,199.2 382.2,199.2 382.6,199.1 383.0,199.1 383.4,199.1 383.8,199.1 384.2,199.0 384.6,199.0 385.0,199.0 385.4,199.0 385.8,199.0 386.2,198.9 386.6,198.9 387.0,198.9 387.4,198.9 387.8,198.8 388.2,198.8 388.6,198.8 389.0,198.8 389.4,198.8 389.8,198.7 390.2,198.7 390.6,198.7 391.0,198.7 391.4,198.6 391.8,198.6 392.2,198.6 392.7,198.6 393.1,198.5 393.5,198.5 393.9,198.5 394.3,198.5 394.7,198.5 395.1,198.4 395.5,198.4 395.9,198.4 396.3,198.4 396.7,198.3 397.1,198.3 397.5,198.3 397.9,198.3 398.3,198.2 398.7,198.2 399.1,198.2 399.5,198.2 399.9,198.1 400.3,198.1 400.7,198.1 401.1,198.1 401.5,198.0 401.9,198.0 402.3,198.0 402.7,198.0 403.1,197.9 403.5,197.9 403.9,197.9 404.3,197.9 404.8,197.8 405.2,197.8 405.6,197.8 406.0,197.8 406.4,197.7 406.8,197.7 407.2,197.7 407.6,197.7 408.0,197.6 408.4,197.6 408.8,197.6 409.2,197.6 409.6,197.5 410.0,197.5 410.4,197.5 410.8,197.4 411.2,197.4 411.6,197.4 412.0,197.4 412.4,197.3 412.8,197.3 413.2,197.3 413.6,197.2 414.0,197.2 414.4,197.2 414.8,197.1 415.2,197.1 415.6,197.1 416.0,197.1 416.4,197.0 416.9,197.0 417.3,197.0 417.7,196.9 418.1,196.9 418.5,196.9 418.9,196.8 419.3,196.8 419.7,196.7 420.1,196.7 420.5,196.7 420.9,196.6 421.3,196.6 421.7,196.6 422.1,196.5 422.5,196.5 422.9,196.4 423.3,196.4 423.7,196.3 424.1,196.3 424.5,196.2 424.9,196.2 425.3,196.2 425.7,196.1 426.1,196.0 426.5,196.0 426.9,195.9 427.3,195.9 427.7,195.8 428.1,195.8 428.5,195.7 429.0,195.6 429.4,195.5 429.8,195.5 430.2,195.4 430.6,195.3 431.0,195.2 431.4,195.1 431.8,195.0 432.2,194.9 432.6,194.8 433.0,194.7 433.4,194.6 433.8,194.5 434.2,194.3 434.6,194.1 435.0,194.0 435.4,193.7 435.8,193.5 436.2,193.2 436.6,192.9 437.0,192.5 437.4,192.0 437.8,191.4 438.2,190.7 438.6,189.9 439.0,188.8 439.4,187.6 439.8,186.2 440.2,184.5 440.6,182.4 441.1,180.1 441.5,177.4 441.9,174.4 442.3,171.0 442.7,167.4 443.1,163.4 443.5,159.2 443.9,154.9 444.3,150.5 444.7,146.2 445.1,142.0 445.5,138.3 445.9,135.1 446.3,132.7 446.7,131.1 447.1,130.6 447.5,131.1 447.9,132.5 448.3,134.9 448.7,137.9 449.1,141.6 449.5,145.6 449.9,149.8 450.3,154.1 450.7,158.4 451.1,162.4 451.5,166.3 451.9,169.9 452.3,173.1 452.7,176.0 453.2,178.6 453.6,180.8 454.0,182.7 454.4,184.3 454.8,185.7 455.2,186.8 455.6,187.6 456.0,188.3 456.4,188.9 456.8,189.3 457.2,189.7 457.6,189.9 458.0,190.1 458.4,190.3 458.8,190.4 459.2,190.4 459.6,190.5 460.0,190.5 460.4,190.5 460.8,190.5 461.2,190.5 461.6,190.5 462.0,190.5 462.4,190.5 462.8,190.5 463.2,190.5 463.6,190.5 464.0,190.5 464.4,190.5 464.9,190.6 465.3,190.6 465.7,190.6 466.1,190.6 466.5,190.6 466.9,190.6 467.3,190.7 467.7,190.7 468.1,190.7 468.5,190.7 468.9,190.8 469.3,190.8 469.7,190.8 470.1,190.9 470.5,190.9 470.9,190.9 471.3,190.9 471.7,190.9 472.1,190.9 472.5,191.0 472.9,190.9 473.3,190.9 473.7,190.9 474.1,190.9 474.5,190.8 474.9,190.8 475.3,190.7 475.7,190.6 476.1,190.5 476.5,190.3 477.0,190.1 477.4,189.8 477.8,189.5 478.2,189.2 478.6,188.7 479.0,188.1 479.4,187.4 479.8,186.6 480.2,185.5 480.6,184.2 481.0,182.6 481.4,180.6 481.8,178.2 482.2,175.4 482.6,172.0 483.0,168.0 483.4,163.4 483.8,158.0 484.2,151.9 484.6,145.1 485.0,137.5 485.4,129.1 485.8,120.0 486.2,110.3 486.6,100.2 487.0,89.7 487.4,79.1 487.8,68.7 488.2,58.6 488.6,49.2 489.1,40.9 489.5,33.9 489.9,28.7 490.3,25.4 490.7,24.3 491.1,25.4 491.5,28.7 491.9,34.0 492.3,40.9 492.7,49.3 493.1,58.7 493.5,68.8 493.9,79.3 494.3,89.9 494.7,100.4 495.1,110.6 495.5,120.3 495.9,129.4 496.3,137.8 496.7,145.5 497.1,152.4 497.5,158.5 497.9,163.9 498.3,168.6 498.7,172.6 499.1,176.0 499.5,178.9 499.9,181.3 500.3,183.4 500.7,185.0 501.2,186.4 501.6,187.6 502.0,188.5 502.4,189.3 502.8,189.9 503.2,190.5 503.6,190.9 504.0,191.3 504.4,191.6 504.8,191.9 505.2,192.2 505.6,192.4 506.0,192.6 506.4,192.8 506.8,193.0 507.2,193.1 507.6,193.2 508.0,193.3 508.4,193.4 508.8,193.5 509.2,193.6 509.6,193.7 510.0,193.7 510.4,193.7 510.8,193.8 511.2,193.8 511.6,193.7 512.0,193.7 512.4,193.6 512.8,193.4 513.3,193.3 513.7,193.0 514.1,192.7 514.5,192.4 514.9,191.9 515.3,191.3 515.7,190.7 516.1,189.9 516.5,189.0 516.9,187.9 517.3,186.7 517.7,185.4 518.1,183.9 518.5,182.3 518.9,180.6 519.3,178.8 519.7,176.9 520.1,175.0 520.5,173.1 520.9,171.2 521.3,169.5 521.7,167.8 522.1,166.5 522.5,165.3 522.9,164.5 523.3,164.0 523.7,163.9 524.1,164.1 524.5,164.6 524.9,165.4 525.4,166.3 525.8,167.5 526.2,168.8 526.6,170.1 527.0,171.6 527.4,173.0 527.8,174.6 528.2,176.1 528.6,177.7 529.0,179.2 529.4,180.8 529.8,182.4 530.2,183.9 530.6,185.4 531.0,186.7 531.4,188.0 531.8,189.2 532.2,190.2 532.6,191.1 533.0,192.0 533.4,192.7 533.8,193.3 534.2,193.8 534.6,194.3 535.0,194.6 535.4,194.9 535.8,195.2 536.2,195.4 536.6,195.5 537.1,195.7 537.5,195.8 537.9,195.9 538.3,195.9 538.7,196.0 539.1,196.0 539.5,196.1 539.9,196.1 540.3,196.1 540.7,196.1 541.1,196.1 541.5,196.1 541.9,196.1 542.3,196.0 542.7,196.0 543.1,195.9 543.5,195.8 543.9,195.6 544.3,195.4 544.7,195.1 545.1,194.7 545.5,194.2 545.9,193.6 546.3,192.8 546.7,191.9 547.1,190.7 547.5,189.3 547.9,187.7 548.3,185.9 548.7,183.9 549.2,181.8 549.6,179.5 550.0,177.2 550.4,175.0 550.8,172.9 551.2,171.0 551.6,169.6 552.0,168.6 552.4,168.3 552.8,168.6 553.2,169.4 553.6,170.8 554.0,172.5 554.4,174.5 554.8,176.7 555.2,178.9 555.6,181.1 556.0,183.1 556.4,185.0 556.8,186.7 557.2,188.2 557.6,189.5 558.0,190.5 558.4,191.4 558.8,192.1 559.2,192.6 559.6,193.0 560.0,193.4 560.4,193.6 560.8,193.8 561.3,194.0 561.7,194.2 562.1,194.3 562.5,194.4 562.9,194.6 563.3,194.7 563.7,194.9 564.1,195.1 564.5,195.2 564.9,195.4 565.3,195.6 565.7,195.7 566.1,195.9 566.5,196.0 566.9,196.2 567.3,196.4 567.7,196.5 568.1,196.6 568.5,196.7 568.9,196.9 569.3,197.0 569.7,197.0 570.1,197.1 570.5,197.1 570.9,197.1 571.3,197.1 571.7,197.0 572.1,196.9 572.5,196.7 572.9,196.4 573.4,196.1 573.8,195.7 574.2,195.3 574.6,194.8 575.0,194.3 575.4,194.0 575.8,193.7 576.2,193.6 576.6,193.8 577.0,194.1 577.4,194.5 577.8,195.0 578.2,195.5 578.6,196.0 579.0,196.5 579.4,196.9 579.8,197.2 580.2,197.5 580.6,197.7 581.0,197.9 581.4,198.0 581.8,198.1 582.2,198.2 582.6,198.2 583.0,198.3 583.4,198.3 583.8,198.4 584.2,198.4 584.6,198.4 585.0,198.4 585.5,198.4 585.9,198.5 586.3,198.5 586.7,198.5 587.1,198.5 587.5,198.5 587.9,198.6 588.3,198.6 588.7,198.6 589.1,198.6 589.5,198.6 589.9,198.6 590.3,198.6 590.7,198.6 591.1,198.7 591.5,198.7 591.9,198.7 592.3,198.7 592.7,198.7 593.1,198.7 593.5,198.7 593.9,198.7 594.3,198.7 594.7,198.7 595.1,198.7 595.5,198.8 595.9,198.8 596.3,198.8 596.7,198.8 597.1,198.8 597.6,198.8 598.0,198.8 598.4,198.8 598.8,198.8 599.2,198.8 599.6,198.8 600.0,198.8 600.4,198.8 600.8,198.8 601.2,198.8 601.6,198.7 602.0,198.7 602.4,198.7 602.8,198.6 603.2,198.6 603.6,198.5 604.0,198.4 604.4,198.1 604.8,197.8 605.2,197.4 605.6,196.8 606.0,196.0 606.4,195.0 606.8,194.0 607.2,193.0 607.6,192.1 608.0,191.5 608.4,191.2 608.8,191.1 609.2,191.2 609.7,191.2 610.1,191.1 610.5,190.9 610.9,190.5 611.3,189.9 611.7,189.3 612.1,188.8 612.5,188.3 612.9,188.0 613.3,187.9 613.7,188.0 614.1,188.4 614.5,189.0 614.9,189.7 615.3,190.6 615.7,191.5 616.1,192.4 616.5,193.3 616.9,194.2 617.3,195.0 617.7,195.7 618.1,196.2 618.5,196.7 618.9,197.2 619.3,197.5 619.7,197.7 620.1,197.9 620.5,198.1 620.9,198.2 621.4,198.3 621.8,198.4 622.2,198.4 622.6,198.4 623.0,198.5 623.4,198.5 623.8,198.5 624.2,198.5 624.6,198.5 625.0,198.5 625.4,198.5 625.8,198.5 626.2,198.5 626.6,198.5 627.0,198.5 627.4,198.5 627.8,198.5 628.2,198.5 628.6,198.5 629.0,198.5 629.4,198.5 629.8,198.5 630.2,198.5 630.6,198.5 631.0,198.5 631.4,198.5 631.8,198.5 632.2,198.5 632.6,198.5 633.0,198.5 633.5,198.5 633.9,198.5 634.3,198.5 634.7,198.5 635.1,198.5 635.5,198.5 635.9,198.5 636.3,198.5 636.7,198.5 637.1,198.5 637.5,198.5 637.9,198.5 638.3,198.5 638.7,198.4 639.1,198.4 639.5,198.4 639.9,198.4 640.3,198.4 640.7,198.4 641.1,198.4 641.5,198.4 641.9,198.4 642.3,198.4 642.7,198.4 643.1,198.4 643.5,198.4 643.9,198.4 644.3,198.4 644.7,198.4 645.1,198.4 645.6,198.4 646.0,198.4 646.4,198.4 646.8,198.3 647.2,198.3 647.6,198.3 648.0,198.3 648.4,198.3 648.8,198.3 649.2,198.3 649.6,198.3 650.0,198.3 650.4,198.3 650.8,198.3 651.2,198.3 651.6,198.3 652.0,198.3 652.4,198.3 652.8,198.3 653.2,198.3 653.6,198.3 654.0,198.2 654.4,198.2 654.8,198.2 655.2,198.2 655.6,198.2 656.0,198.2 656.4,198.2 656.8,198.2" fill="none" stroke="#f8b73d" stroke-width="1.4" stroke-linejoin="round" />
<polyline points="374.5,198.5 374.9,198.5 375.3,198.4 375.7,198.4 376.1,198.4 376.5,198.3 376.9,198.3 377.3,198.3 377.7,198.2 378.1,198.2 378.5,198.2 378.9,198.1 379.3,198.1 379.7,198.1 380.1,198.0 380.6,198.0 381.0,198.0 381.4,198.0 381.8,197.9 382.2,197.9 382.6,197.9 383.0,197.8 383.4,197.8 383.8,197.8 384.2,197.7 384.6,197.7 385.0,197.7 385.4,197.6 385.8,197.6 386.2,197.6 386.6,197.5 387.0,197.5 387.4,197.5 387.8,197.4 388.2,197.4 388.6,197.4 389.0,197.3 389.4,197.3 389.8,197.3 390.2,197.2 390.6,197.2 391.0,197.2 391.4,197.1 391.8,197.1 392.2,197.1 392.7,197.0 393.1,197.0 393.5,197.0 393.9,196.9 394.3,196.9 394.7,196.9 395.1,196.8 395.5,196.8 395.9,196.8 396.3,196.7 396.7,196.7 397.1,196.7 397.5,196.6 397.9,196.6 398.3,196.6 398.7,196.5 399.1,196.5 399.5,196.5 399.9,196.4 400.3,196.4 400.7,196.4 401.1,196.3 401.5,196.3 401.9,196.3 402.3,196.2 402.7,196.2 403.1,196.2 403.5,196.1 403.9,196.1 404.3,196.0 404.8,196.0 405.2,196.0 405.6,195.9 406.0,195.9 406.4,195.9 406.8,195.8 407.2,195.8 407.6,195.8 408.0,195.7 408.4,195.7 408.8,195.6 409.2,195.6 409.6,195.6 410.0,195.5 410.4,195.5 410.8,195.5 411.2,195.4 411.6,195.4 412.0,195.3 412.4,195.3 412.8,195.3 413.2,195.2 413.6,195.2 414.0,195.1 414.4,195.1 414.8,195.1 415.2,195.0 415.6,195.0 416.0,194.9 416.4,194.9 416.9,194.8 417.3,194.8 417.7,194.8 418.1,194.7 418.5,194.7 418.9,194.6 419.3,194.6 419.7,194.5 420.1,194.5 420.5,194.4 420.9,194.4 421.3,194.3 421.7,194.3 422.1,194.2 422.5,194.2 422.9,194.1 423.3,194.1 423.7,194.0 424.1,194.0 424.5,193.9 424.9,193.8 425.3,193.8 425.7,193.7 426.1,193.7 426.5,193.6 426.9,193.5 427.3,193.5 427.7,193.4 428.1,193.3 428.5,193.2 429.0,193.2 429.4,193.1 429.8,193.0 430.2,192.9 430.6,192.8 431.0,192.7 431.4,192.6 431.8,192.5 432.2,192.4 432.6,192.3 433.0,192.1 433.4,192.0 433.8,191.9 434.2,191.7 434.6,191.5 435.0,191.3 435.4,191.1 435.8,190.8 436.2,190.5 436.6,190.2 437.0,189.8 437.4,189.3 437.8,188.6 438.2,187.9 438.6,187.0 439.0,186.0 439.4,184.7 439.8,183.3 440.2,181.5 440.6,179.5 441.1,177.1 441.5,174.3 441.9,171.3 442.3,167.8 442.7,164.1 443.1,160.0 443.5,155.8 443.9,151.3 444.3,146.8 444.7,142.4 445.1,138.2 445.5,134.4 445.9,131.2 446.3,128.7 446.7,127.1 447.1,126.5 447.5,126.9 447.9,128.4 448.3,130.8 448.7,133.9 449.1,137.6 449.5,141.7 449.9,146.0 450.3,150.3 450.7,154.6 451.1,158.8 451.5,162.7 451.9,166.3 452.3,169.6 452.7,172.5 453.2,175.1 453.6,177.3 454.0,179.2 454.4,180.8 454.8,182.1 455.2,183.2 455.6,184.1 456.0,184.7 456.4,185.3 456.8,185.7 457.2,186.0 457.6,186.2 458.0,186.3 458.4,186.4 458.8,186.5 459.2,186.5 459.6,186.5 460.0,186.5 460.4,186.5 460.8,186.5 461.2,186.5 461.6,186.5 462.0,186.4 462.4,186.4 462.8,186.4 463.2,186.4 463.6,186.4 464.0,186.4 464.4,186.4 464.9,186.4 465.3,186.4 465.7,186.4 466.1,186.5 466.5,186.5 466.9,186.6 467.3,186.6 467.7,186.7 468.1,186.7 468.5,186.8 468.9,186.9 469.3,186.9 469.7,187.0 470.1,187.1 470.5,187.2 470.9,187.2 471.3,187.3 471.7,187.4 472.1,187.4 472.5,187.5 472.9,187.6 473.3,187.6 473.7,187.6 474.1,187.7 474.5,187.7 474.9,187.7 475.3,187.6 475.7,187.6 476.1,187.5 476.5,187.4 477.0,187.3 477.4,187.1 477.8,186.8 478.2,186.5 478.6,186.1 479.0,185.6 479.4,184.9 479.8,184.1 480.2,183.1 480.6,181.8 481.0,180.2 481.4,178.3 481.8,176.0 482.2,173.2 482.6,169.9 483.0,166.0 483.4,161.4 483.8,156.2 484.2,150.2 484.6,143.4 485.0,135.9 485.4,127.6 485.8,118.7 486.2,109.2 486.6,99.2 487.0,88.8 487.4,78.4 487.8,68.1 488.2,58.1 488.6,48.9 489.1,40.6 489.5,33.8 489.9,28.6 490.3,25.4 490.7,24.3 491.1,25.4 491.5,28.7 491.9,33.9 492.3,40.8 492.7,49.0 493.1,58.3 493.5,68.3 493.9,78.7 494.3,89.1 494.7,99.5 495.1,109.6 495.5,119.1 495.9,128.1 496.3,136.4 496.7,144.0 497.1,150.8 497.5,156.9 497.9,162.2 498.3,166.8 498.7,170.8 499.1,174.2 499.5,177.1 499.9,179.5 500.3,181.5 500.7,183.1 501.2,184.5 501.6,185.6 502.0,186.5 502.4,187.3 502.8,187.9 503.2,188.5 503.6,188.9 504.0,189.3 504.4,189.6 504.8,189.9 505.2,190.2 505.6,190.4 506.0,190.6 506.4,190.7 506.8,190.9 507.2,191.0 507.6,191.2 508.0,191.3 508.4,191.4 508.8,191.4 509.2,191.5 509.6,191.6 510.0,191.6 510.4,191.6 510.8,191.6 511.2,191.6 511.6,191.6 512.0,191.5 512.4,191.5 512.8,191.3 513.3,191.2 513.7,190.9 514.1,190.7 514.5,190.3 514.9,189.9 515.3,189.4 515.7,188.8 516.1,188.0 516.5,187.2 516.9,186.2 517.3,185.1 517.7,183.9 518.1,182.6 518.5,181.1 518.9,179.5 519.3,177.8 519.7,176.0 520.1,174.1 520.5,172.2 520.9,170.3 521.3,168.4 521.7,166.5 522.1,164.8 522.5,163.1 522.9,161.6 523.3,160.3 523.7,159.1 524.1,158.1 524.5,157.2 524.9,156.5 525.4,155.8 525.8,155.3 526.2,154.8 526.6,154.5 527.0,154.4 527.4,154.4 527.8,154.8 528.2,155.5 528.6,156.7 529.0,158.2 529.4,160.1 529.8,162.3 530.2,164.8 530.6,167.3 531.0,169.9 531.4,172.5 531.8,175.0 532.2,177.3 532.6,179.4 533.0,181.3 533.4,183.0 533.8,184.4 534.2,185.7 534.6,186.6 535.0,187.4 535.4,188.0 535.8,188.4 536.2,188.7 536.6,188.8 537.1,188.8 537.5,188.6 537.9,188.2 538.3,187.6 538.7,186.9 539.1,185.8 539.5,184.4 539.9,182.6 540.3,180.3 540.7,177.5 541.1,174.0 541.5,169.7 541.9,164.6 542.3,158.7 542.7,151.8 543.1,144.0 543.5,135.5 543.9,126.2 544.3,116.4 544.7,106.4 545.1,96.4 545.5,86.8 545.9,78.1 546.3,70.8 546.7,65.2 547.1,62.0 547.5,61.2 547.9,63.0 548.3,67.3 548.7,73.6 549.2,81.6 549.6,90.7 550.0,100.5 550.4,110.5 550.8,120.5 551.2,130.1 551.6,139.1 552.0,147.3 552.4,154.7 552.8,161.1 553.2,166.7 553.6,171.4 554.0,175.2 554.4,178.4 554.8,180.9 555.2,182.9 555.6,184.4 556.0,185.6 556.4,186.5 556.8,187.1 557.2,187.6 557.6,187.9 558.0,188.1 558.4,188.2 558.8,188.3 559.2,188.4 559.6,188.4 560.0,188.5 560.4,188.5 560.8,188.6 561.3,188.7 561.7,188.8 562.1,189.0 562.5,189.2 562.9,189.4 563.3,189.7 563.7,190.0 564.1,190.3 564.5,190.6 564.9,190.9 565.3,191.2 565.7,191.6 566.1,191.9 566.5,192.2 566.9,192.5 567.3,192.8 567.7,193.1 568.1,193.4 568.5,193.6 568.9,193.8 569.3,194.0 569.7,194.2 570.1,194.3 570.5,194.4 570.9,194.5 571.3,194.4 571.7,194.3 572.1,194.1 572.5,193.7 572.9,193.3 573.4,192.7 573.8,192.0 574.2,191.2 574.6,190.4 575.0,189.6 575.4,188.9 575.8,188.5 576.2,188.3 576.6,188.6 577.0,189.1 577.4,189.9 577.8,190.8 578.2,191.7 578.6,192.6 579.0,193.5 579.4,194.2 579.8,194.8 580.2,195.3 580.6,195.7 581.0,196.0 581.4,196.2 581.8,196.4 582.2,196.5 582.6,196.6 583.0,196.7 583.4,196.7 583.8,196.8 584.2,196.8 584.6,196.9 585.0,196.9 585.5,196.9 585.9,197.0 586.3,197.0 586.7,197.0 587.1,197.1 587.5,197.1 587.9,197.1 588.3,197.2 588.7,197.2 589.1,197.2 589.5,197.2 589.9,197.2 590.3,197.3 590.7,197.3 591.1,197.3 591.5,197.3 591.9,197.3 592.3,197.3 592.7,197.4 593.1,197.4 593.5,197.4 593.9,197.4 594.3,197.4 594.7,197.4 595.1,197.4 595.5,197.4 595.9,197.4 596.3,197.4 596.7,197.4 597.1,197.4 597.6,197.4 598.0,197.4 598.4,197.4 598.8,197.4 599.2,197.4 599.6,197.4 600.0,197.4 600.4,197.4 600.8,197.3 601.2,197.3 601.6,197.3 602.0,197.2 602.4,197.1 602.8,197.0 603.2,196.9 603.6,196.7 604.0,196.3 604.4,195.8 604.8,195.0 605.2,193.8 605.6,192.1 606.0,190.0 606.4,187.4 606.8,184.7 607.2,181.9 607.6,179.5 608.0,177.7 608.4,176.8 608.8,176.4 609.2,176.3 609.7,176.2 610.1,175.7 610.5,174.8 610.9,173.4 611.3,171.7 611.7,169.9 612.1,168.1 612.5,166.6 612.9,165.7 613.3,165.4 613.7,165.9 614.1,167.0 614.5,168.8 614.9,171.0 615.3,173.6 615.7,176.3 616.1,179.1 616.5,181.8 616.9,184.4 617.3,186.7 617.7,188.8 618.1,190.6 618.5,192.1 618.9,193.3 619.3,194.3 619.7,195.1 620.1,195.7 620.5,196.2 620.9,196.5 621.4,196.8 621.8,197.0 622.2,197.2 622.6,197.3 623.0,197.4 623.4,197.4 623.8,197.5 624.2,197.5 624.6,197.6 625.0,197.6 625.4,197.7 625.8,197.7 626.2,197.7 626.6,197.7 627.0,197.8 627.4,197.8 627.8,197.8 628.2,197.8 628.6,197.8 629.0,197.8 629.4,197.9 629.8,197.9 630.2,197.9 630.6,197.9 631.0,197.9 631.4,197.9 631.8,197.9 632.2,197.9 632.6,198.0 633.0,198.0 633.5,198.0 633.9,198.0 634.3,198.0 634.7,198.0 635.1,198.0 635.5,198.0 635.9,198.0 636.3,198.0 636.7,198.0 637.1,198.0 637.5,198.0 637.9,198.0 638.3,198.0 638.7,198.0 639.1,198.1 639.5,198.1 639.9,198.1 640.3,198.1 640.7,198.1 641.1,198.1 641.5,198.1 641.9,198.1 642.3,198.1 642.7,198.1 643.1,198.1 643.5,198.1 643.9,198.1 644.3,198.1 644.7,198.1 645.1,198.1 645.6,198.1 646.0,198.1 646.4,198.1 646.8,198.1 647.2,198.1 647.6,198.1 648.0,198.1 648.4,198.1 648.8,198.1 649.2,198.1 649.6,198.1 650.0,198.1 650.4,198.1 650.8,198.1 651.2,198.1 651.6,198.1 652.0,198.1 652.4,198.1 652.8,198.1 653.2,198.1 653.6,198.1 654.0,198.2 654.4,198.2 654.8,198.2 655.2,198.2 655.6,198.2 656.0,198.2 656.4,198.2 656.8,198.2" fill="none" stroke="#f3a21c" stroke-width="1.4" stroke-linejoin="round" />
<polyline points="374.5,198.1 374.9,198.1 375.3,198.0 375.7,198.0 376.1,198.0 376.5,197.9 376.9,197.9 377.3,197.9 377.7,197.8 378.1,197.8 378.5,197.8 378.9,197.7 379.3,197.7 379.7,197.7 380.1,197.6 380.6,197.6 381.0,197.5 381.4,197.5 381.8,197.5 382.2,197.4 382.6,197.4 383.0,197.4 383.4,197.3 383.8,197.3 384.2,197.3 384.6,197.2 385.0,197.2 385.4,197.2 385.8,197.1 386.2,197.1 386.6,197.0 387.0,197.0 387.4,197.0 387.8,196.9 388.2,196.9 388.6,196.9 389.0,196.8 389.4,196.8 389.8,196.8 390.2,196.7 390.6,196.7 391.0,196.6 391.4,196.6 391.8,196.6 392.2,196.5 392.7,196.5 393.1,196.5 393.5,196.4 393.9,196.4 394.3,196.4 394.7,196.3 395.1,196.3 395.5,196.2 395.9,196.2 396.3,196.2 396.7,196.1 397.1,196.1 397.5,196.1 397.9,196.0 398.3,196.0 398.7,195.9 399.1,195.9 399.5,195.9 399.9,195.8 400.3,195.8 400.7,195.8 401.1,195.7 401.5,195.7 401.9,195.6 402.3,195.6 402.7,195.6 403.1,195.5 403.5,195.5 403.9,195.4 404.3,195.4 404.8,195.4 405.2,195.3 405.6,195.3 406.0,195.3 406.4,195.2 406.8,195.2 407.2,195.1 407.6,195.1 408.0,195.1 408.4,195.0 408.8,195.0 409.2,194.9 409.6,194.9 410.0,194.8 410.4,194.8 410.8,194.8 411.2,194.7 411.6,194.7 412.0,194.6 412.4,194.6 412.8,194.6 413.2,194.5 413.6,194.5 414.0,194.4 414.4,194.4 414.8,194.3 415.2,194.3 415.6,194.2 416.0,194.2 416.4,194.2 416.9,194.1 417.3,194.1 417.7,194.0 418.1,194.0 418.5,193.9 418.9,193.9 419.3,193.8 419.7,193.8 420.1,193.7 420.5,193.7 420.9,193.6 421.3,193.6 421.7,193.5 422.1,193.5 422.5,193.4 422.9,193.3 423.3,193.3 423.7,193.2 424.1,193.2 424.5,193.1 424.9,193.0 425.3,193.0 425.7,192.9 426.1,192.8 426.5,192.8 426.9,192.7 427.3,192.6 427.7,192.6 428.1,192.5 428.5,192.4 429.0,192.3 429.4,192.2 429.8,192.2 430.2,192.1 430.6,192.0 431.0,191.9 431.4,191.8 431.8,191.7 432.2,191.5 432.6,191.4 433.0,191.3 433.4,191.1 433.8,191.0 434.2,190.8 434.6,190.7 435.0,190.5 435.4,190.2 435.8,190.0 436.2,189.7 436.6,189.3 437.0,188.9 437.4,188.4 437.8,187.8 438.2,187.1 438.6,186.2 439.0,185.2 439.4,184.0 439.8,182.5 440.2,180.8 440.6,178.8 441.1,176.5 441.5,173.8 441.9,170.8 442.3,167.4 442.7,163.7 443.1,159.8 443.5,155.6 443.9,151.3 444.3,146.9 444.7,142.5 445.1,138.4 445.5,134.7 445.9,131.5 446.3,129.1 446.7,127.5 447.1,126.9 447.5,127.3 447.9,128.8 448.3,131.1 448.7,134.1 449.1,137.7 449.5,141.7 449.9,145.8 450.3,150.1 450.7,154.3 451.1,158.3 451.5,162.1 451.9,165.6 452.3,168.8 452.7,171.6 453.2,174.1 453.6,176.3 454.0,178.1 454.4,179.6 454.8,180.9 455.2,181.9 455.6,182.7 456.0,183.4 456.4,183.8 456.8,184.2 457.2,184.5 457.6,184.6 458.0,184.8 458.4,184.8 458.8,184.9 459.2,184.9 459.6,184.9 460.0,184.8 460.4,184.8 460.8,184.8 461.2,184.7 461.6,184.7 462.0,184.7 462.4,184.6 462.8,184.6 463.2,184.6 463.6,184.6 464.0,184.5 464.4,184.5 464.9,184.6 465.3,184.6 465.7,184.6 466.1,184.6 466.5,184.7 466.9,184.7 467.3,184.8 467.7,184.9 468.1,184.9 468.5,185.0 468.9,185.1 469.3,185.2 469.7,185.3 470.1,185.4 470.5,185.5 470.9,185.6 471.3,185.7 471.7,185.8 472.1,185.9 472.5,186.0 472.9,186.0 473.3,186.1 473.7,186.2 474.1,186.2 474.5,186.2 474.9,186.3 475.3,186.3 475.7,186.2 476.1,186.2 476.5,186.1 477.0,186.0 477.4,185.8 477.8,185.6 478.2,185.3 478.6,184.9 479.0,184.4 479.4,183.8 479.8,183.0 480.2,182.0 480.6,180.7 481.0,179.2 481.4,177.3 481.8,175.0 482.2,172.3 482.6,169.0 483.0,165.1 483.4,160.6 483.8,155.4 484.2,149.4 484.6,142.7 485.0,135.2 485.4,127.0 485.8,118.1 486.2,108.7 486.6,98.7 487.0,88.4 487.4,78.1 487.8,67.8 488.2,57.9 488.6,48.7 489.1,40.5 489.5,33.7 489.9,28.6 490.3,25.4 490.7,24.3 491.1,25.4 491.5,28.6 491.9,33.8 492.3,40.7 492.7,48.9 493.1,58.1 493.5,68.0 493.9,78.3 494.3,88.8 494.7,99.1 495.1,109.1 495.5,118.6 495.9,127.5 496.3,135.8 496.7,143.3 497.1,150.1 497.5,156.1 497.9,161.4 498.3,166.0 498.7,170.0 499.1,173.3 499.5,176.2 499.9,178.5 500.3,180.5 500.7,182.2 501.2,183.5 501.6,184.6 502.0,185.6 502.4,186.3 502.8,187.0 503.2,187.5 503.6,187.9 504.0,188.3 504.4,188.6 504.8,188.9 505.2,189.2 505.6,189.4 506.0,189.6 506.4,189.7 506.8,189.9 507.2,190.0 507.6,190.1 508.0,190.2 508.4,190.3 508.8,190.4 509.2,190.5 509.6,190.5 510.0,190.6 510.4,190.6 510.8,190.6 511.2,190.6 511.6,190.6 512.0,190.5 512.4,190.4 512.8,190.3 513.3,190.1 513.7,189.9 514.1,189.6 514.5,189.3 514.9,188.9 515.3,188.4 515.7,187.8 516.1,187.1 516.5,186.3 516.9,185.4 517.3,184.4 517.7,183.2 518.1,181.9 518.5,180.4 518.9,178.9 519.3,177.2 519.7,175.5 520.1,173.6 520.5,171.7 520.9,169.8 521.3,167.8 521.7,165.9 522.1,163.9 522.5,162.0 522.9,160.2 523.3,158.5 523.7,156.8 524.1,155.3 524.5,153.8 524.9,152.3 525.4,150.9 525.8,149.6 526.2,148.3 526.6,147.2 527.0,146.4 527.4,145.8 527.8,145.7 528.2,146.1 528.6,147.0 529.0,148.5 529.4,150.6 529.8,153.1 530.2,156.0 530.6,159.2 531.0,162.4 531.4,165.6 531.8,168.7 532.2,171.6 532.6,174.3 533.0,176.7 533.4,178.9 533.8,180.7 534.2,182.3 534.6,183.6 535.0,184.6 535.4,185.4 535.8,186.0 536.2,186.3 536.6,186.5 537.1,186.5 537.5,186.3 537.9,185.8 538.3,185.2 538.7,184.3 539.1,183.0 539.5,181.4 539.9,179.3 540.3,176.6 540.7,173.2 541.1,169.1 541.5,164.1 541.9,158.1 542.3,151.0 542.7,142.9 543.1,133.8 543.5,123.7 543.9,112.8 544.3,101.3 544.7,89.4 545.1,77.6 545.5,66.3 545.9,56.1 546.3,47.4 546.7,40.9 547.1,37.0 547.5,36.1 547.9,38.3 548.3,43.3 548.7,50.7 549.2,60.1 549.6,70.9 550.0,82.5 550.4,94.3 550.8,106.1 551.2,117.4 551.6,128.0 552.0,137.7 552.4,146.4 552.8,154.1 553.2,160.6 553.6,166.2 554.0,170.8 554.4,174.5 554.8,177.5 555.2,179.9 555.6,181.8 556.0,183.2 556.4,184.2 556.8,185.0 557.2,185.6 557.6,186.0 558.0,186.3 558.4,186.5 558.8,186.6 559.2,186.8 559.6,186.8 560.0,186.9 560.4,187.0 560.8,187.1 561.3,187.3 561.7,187.4 562.1,187.6 562.5,187.8 562.9,188.1 563.3,188.3 563.7,188.6 564.1,189.0 564.5,189.3 564.9,189.6 565.3,190.0 565.7,190.3 566.1,190.6 566.5,191.0 566.9,191.3 567.3,191.6 567.7,191.9 568.1,192.2 568.5,192.4 568.9,192.6 569.3,192.8 569.7,193.0 570.1,193.1 570.5,193.2 570.9,193.3 571.3,193.2 571.7,193.1 572.1,192.8 572.5,192.4 572.9,191.9 573.4,191.2 573.8,190.4 574.2,189.5 574.6,188.6 575.0,187.7 575.4,187.0 575.8,186.5 576.2,186.3 576.6,186.6 577.0,187.2 577.4,188.1 577.8,189.1 578.2,190.1 578.6,191.1 579.0,192.0 579.4,192.9 579.8,193.5 580.2,194.1 580.6,194.5 581.0,194.8 581.4,195.1 581.8,195.3 582.2,195.4 582.6,195.5 583.0,195.6 583.4,195.7 583.8,195.7 584.2,195.8 584.6,195.8 585.0,195.9 585.5,195.9 585.9,195.9 586.3,196.0 586.7,196.0 587.1,196.0 587.5,196.1 587.9,196.1 588.3,196.1 588.7,196.2 589.1,196.2 589.5,196.2 589.9,196.2 590.3,196.2 590.7,196.3 591.1,196.3 591.5,196.3 591.9,196.3 592.3,196.3 592.7,196.3 593.1,196.4 593.5,196.4 593.9,196.4 594.3,196.4 594.7,196.4 595.1,196.4 595.5,196.4 595.9,196.4 596.3,196.4 596.7,196.4 597.1,196.4 597.6,196.4 598.0,196.4 598.4,196.4 598.8,196.4 599.2,196.4 599.6,196.4 600.0,196.3 600.4,196.3 600.8,196.3 601.2,196.2 601.6,196.2 602.0,196.1 602.4,196.0 602.8,195.9 603.2,195.8 603.6,195.5 604.0,195.1 604.4,194.4 604.8,193.4 605.2,191.9 605.6,189.9 606.0,187.2 606.4,184.1 606.8,180.7 607.2,177.3 607.6,174.3 608.0,172.2 608.4,171.1 608.8,170.8 609.2,170.9 609.7,170.9 610.1,170.6 610.5,169.7 610.9,168.2 611.3,166.3 611.7,164.1 612.1,162.1 612.5,160.4 612.9,159.4 613.3,159.0 613.7,159.6 614.1,160.9 614.5,163.0 614.9,165.6 615.3,168.6 615.7,171.8 616.1,175.1 616.5,178.3 616.9,181.3 617.3,184.1 617.7,186.5 618.1,188.6 618.5,190.4 618.9,191.9 619.3,193.0 619.7,194.0 620.1,194.7 620.5,195.2 620.9,195.7 621.4,196.0 621.8,196.2 622.2,196.4 622.6,196.5 623.0,196.7 623.4,196.7 623.8,196.8 624.2,196.9 624.6,196.9 625.0,197.0 625.4,197.0 625.8,197.1 626.2,197.1 626.6,197.1 627.0,197.2 627.4,197.2 627.8,197.2 628.2,197.3 628.6,197.3 629.0,197.3 629.4,197.3 629.8,197.4 630.2,197.4 630.6,197.4 631.0,197.4 631.4,197.4 631.8,197.5 632.2,197.5 632.6,197.5 633.0,197.5 633.5,197.5 633.9,197.5 634.3,197.6 634.7,197.6 635.1,197.6 635.5,197.6 635.9,197.6 636.3,197.6 636.7,197.6 637.1,197.7 637.5,197.7 637.9,197.7 638.3,197.7 638.7,197.7 639.1,197.7 639.5,197.7 639.9,197.7 640.3,197.8 640.7,197.8 641.1,197.8 641.5,197.8 641.9,197.8 642.3,197.8 642.7,197.8 643.1,197.8 643.5,197.8 643.9,197.8 644.3,197.9 644.7,197.9 645.1,197.9 645.6,197.9 646.0,197.9 646.4,197.9 646.8,197.9 647.2,197.9 647.6,197.9 648.0,197.9 648.4,197.9 648.8,198.0 649.2,198.0 649.6,198.0 650.0,198.0 650.4,198.0 650.8,198.0 651.2,198.0 651.6,198.0 652.0,198.0 652.4,198.0 652.8,198.0 653.2,198.1 653.6,198.1 654.0,198.1 654.4,198.1 654.8,198.1 655.2,198.1 655.6,198.1 656.0,198.1 656.4,198.1 656.8,198.1" fill="none" stroke="#ec7437" stroke-width="1.4" stroke-linejoin="round" />
<polyline points="374.5,197.7 374.9,197.7 375.3,197.6 375.7,197.6 376.1,197.6 376.5,197.5 376.9,197.5 377.3,197.4 377.7,197.4 378.1,197.4 378.5,197.3 378.9,197.3 379.3,197.3 379.7,197.2 380.1,197.2 380.6,197.1 381.0,197.1 381.4,197.1 381.8,197.0 382.2,197.0 382.6,196.9 383.0,196.9 383.4,196.9 383.8,196.8 384.2,196.8 384.6,196.7 385.0,196.7 385.4,196.7 385.8,196.6 386.2,196.6 386.6,196.5 387.0,196.5 387.4,196.5 387.8,196.4 388.2,196.4 388.6,196.3 389.0,196.3 389.4,196.3 389.8,196.2 390.2,196.2 390.6,196.1 391.0,196.1 391.4,196.1 391.8,196.0 392.2,196.0 392.7,195.9 393.1,195.9 393.5,195.9 393.9,195.8 394.3,195.8 394.7,195.7 395.1,195.7 395.5,195.7 395.9,195.6 396.3,195.6 396.7,195.5 397.1,195.5 397.5,195.5 397.9,195.4 398.3,195.4 398.7,195.3 399.1,195.3 399.5,195.2 399.9,195.2 400.3,195.2 400.7,195.1 401.1,195.1 401.5,195.0 401.9,195.0 402.3,195.0 402.7,194.9 403.1,194.9 403.5,194.8 403.9,194.8 404.3,194.7 404.8,194.7 405.2,194.7 405.6,194.6 406.0,194.6 406.4,194.5 406.8,194.5 407.2,194.4 407.6,194.4 408.0,194.4 408.4,194.3 408.8,194.3 409.2,194.2 409.6,194.2 410.0,194.1 410.4,194.1 410.8,194.0 411.2,194.0 411.6,194.0 412.0,193.9 412.4,193.9 412.8,193.8 413.2,193.8 413.6,193.7 414.0,193.7 414.4,193.6 414.8,193.6 415.2,193.5 415.6,193.5 416.0,193.4 416.4,193.4 416.9,193.3 417.3,193.3 417.7,193.2 418.1,193.2 418.5,193.1 418.9,193.1 419.3,193.0 419.7,193.0 420.1,192.9 420.5,192.9 420.9,192.8 421.3,192.8 421.7,192.7 422.1,192.7 422.5,192.6 422.9,192.5 423.3,192.5 423.7,192.4 424.1,192.4 424.5,192.3 424.9,192.2 425.3,192.2 425.7,192.1 426.1,192.0 426.5,192.0 426.9,191.9 427.3,191.8 427.7,191.7 428.1,191.7 428.5,191.6 429.0,191.5 429.4,191.4 429.8,191.3 430.2,191.2 430.6,191.1 431.0,191.0 431.4,190.9 431.8,190.8 432.2,190.7 432.6,190.6 433.0,190.5 433.4,190.3 433.8,190.2 434.2,190.0 434.6,189.9 435.0,189.7 435.4,189.5 435.8,189.2 436.2,188.9 436.6,188.6 437.0,188.2 437.4,187.7 437.8,187.2 438.2,186.5 438.6,185.7 439.0,184.7 439.4,183.6 439.8,182.2 440.2,180.7 440.6,178.8 441.1,176.6 441.5,174.1 441.9,171.3 442.3,168.2 442.7,164.8 443.1,161.1 443.5,157.3 443.9,153.2 444.3,149.2 444.7,145.1 445.1,141.3 445.5,137.8 445.9,134.9 446.3,132.6 446.7,131.1 447.1,130.6 447.5,131.0 447.9,132.3 448.3,134.4 448.7,137.2 449.1,140.5 449.5,144.1 449.9,148.0 450.3,151.9 450.7,155.7 451.1,159.4 451.5,162.9 451.9,166.1 452.3,169.1 452.7,171.7 453.2,173.9 453.6,175.9 454.0,177.6 454.4,178.9 454.8,180.1 455.2,181.0 455.6,181.7 456.0,182.2 456.4,182.6 456.8,182.9 457.2,183.1 457.6,183.3 458.0,183.3 458.4,183.4 458.8,183.4 459.2,183.3 459.6,183.3 460.0,183.2 460.4,183.2 460.8,183.1 461.2,183.0 461.6,183.0 462.0,182.9 462.4,182.9 462.8,182.8 463.2,182.8 463.6,182.8 464.0,182.8 464.4,182.7 464.9,182.8 465.3,182.8 465.7,182.8 466.1,182.8 466.5,182.9 466.9,183.0 467.3,183.0 467.7,183.1 468.1,183.2 468.5,183.3 468.9,183.4 469.3,183.5 469.7,183.7 470.1,183.8 470.5,183.9 470.9,184.0 471.3,184.2 471.7,184.3 472.1,184.4 472.5,184.5 472.9,184.7 473.3,184.8 473.7,184.9 474.1,184.9 474.5,185.0 474.9,185.1 475.3,185.1 475.7,185.1 476.1,185.1 476.5,185.1 477.0,185.0 477.4,184.9 477.8,184.7 478.2,184.5 478.6,184.1 479.0,183.7 479.4,183.2 479.8,182.4 480.2,181.5 480.6,180.4 481.0,179.0 481.4,177.3 481.8,175.2 482.2,172.7 482.6,169.7 483.0,166.1 483.4,161.9 483.8,157.1 484.2,151.6 484.6,145.4 485.0,138.5 485.4,130.9 485.8,122.7 486.2,114.0 486.6,104.8 487.0,95.3 487.4,85.7 487.8,76.2 488.2,67.1 488.6,58.6 489.1,51.0 489.5,44.7 489.9,40.0 490.3,37.0 490.7,36.0 491.1,37.0 491.5,40.0 491.9,44.8 492.3,51.2 492.7,58.8 493.1,67.3 493.5,76.5 493.9,86.0 494.3,95.6 494.7,105.2 495.1,114.4 495.5,123.2 495.9,131.5 496.3,139.1 496.7,146.1 497.1,152.3 497.5,157.9 497.9,162.8 498.3,167.1 498.7,170.7 499.1,173.8 499.5,176.4 499.9,178.6 500.3,180.5 500.7,182.0 501.2,183.3 501.6,184.3 502.0,185.1 502.4,185.8 502.8,186.4 503.2,186.9 503.6,187.3 504.0,187.7 504.4,188.0 504.8,188.2 505.2,188.4 505.6,188.6 506.0,188.8 506.4,188.9 506.8,189.1 507.2,189.2 507.6,189.3 508.0,189.4 508.4,189.5 508.8,189.5 509.2,189.6 509.6,189.6 510.0,189.7 510.4,189.7 510.8,189.7 511.2,189.6 511.6,189.6 512.0,189.5 512.4,189.4 512.8,189.3 513.3,189.1 513.7,188.9 514.1,188.6 514.5,188.3 514.9,187.8 515.3,187.3 515.7,186.7 516.1,186.0 516.5,185.2 516.9,184.2 517.3,183.1 517.7,181.9 518.1,180.6 518.5,179.1 518.9,177.5 519.3,175.8 519.7,174.0 520.1,172.0 520.5,170.0 520.9,168.0 521.3,165.8 521.7,163.7 522.1,161.5 522.5,159.4 522.9,157.3 523.3,155.2 523.7,153.2 524.1,151.2 524.5,149.2 524.9,147.2 525.4,145.3 525.8,143.4 526.2,141.6 526.6,140.0 527.0,138.6 527.4,137.6 527.8,137.1 528.2,137.3 528.6,138.2 529.0,139.8 529.4,142.1 529.8,145.0 530.2,148.3 530.6,151.9 531.0,155.7 531.4,159.5 531.8,163.1 532.2,166.6 532.6,169.8 533.0,172.8 533.4,175.3 533.8,177.6 534.2,179.5 534.6,181.0 535.0,182.3 535.4,183.2 535.8,183.9 536.2,184.4 536.6,184.6 537.1,184.7 537.5,184.5 537.9,184.1 538.3,183.4 538.7,182.4 539.1,181.1 539.5,179.4 539.9,177.1 540.3,174.3 540.7,170.7 541.1,166.3 541.5,160.9 541.9,154.5 542.3,147.0 542.7,138.4 543.1,128.6 543.5,117.8 543.9,106.2 544.3,93.9 544.7,81.2 545.1,68.6 545.5,56.6 545.9,45.6 546.3,36.3 546.7,29.4 547.1,25.3 547.5,24.3 547.9,26.6 548.3,31.9 548.7,39.9 549.2,49.9 549.6,61.4 550.0,73.8 550.4,86.5 550.8,99.1 551.2,111.1 551.6,122.5 552.0,132.9 552.4,142.1 552.8,150.3 553.2,157.3 553.6,163.3 554.0,168.2 554.4,172.2 554.8,175.4 555.2,178.0 555.6,180.0 556.0,181.5 556.4,182.6 556.8,183.5 557.2,184.1 557.6,184.6 558.0,184.9 558.4,185.1 558.8,185.3 559.2,185.4 559.6,185.5 560.0,185.6 560.4,185.7 560.8,185.9 561.3,186.0 561.7,186.2 562.1,186.4 562.5,186.6 562.9,186.8 563.3,187.1 563.7,187.4 564.1,187.8 564.5,188.1 564.9,188.4 565.3,188.8 565.7,189.1 566.1,189.5 566.5,189.8 566.9,190.2 567.3,190.5 567.7,190.8 568.1,191.0 568.5,191.3 568.9,191.5 569.3,191.7 569.7,191.9 570.1,192.0 570.5,192.1 570.9,192.1 571.3,192.0 571.7,191.9 572.1,191.6 572.5,191.1 572.9,190.5 573.4,189.8 573.8,188.9 574.2,187.9 574.6,186.8 575.0,185.9 575.4,185.0 575.8,184.5 576.2,184.3 576.6,184.6 577.0,185.2 577.4,186.2 577.8,187.3 578.2,188.5 578.6,189.6 579.0,190.6 579.4,191.5 579.8,192.3 580.2,192.9 580.6,193.3 581.0,193.7 581.4,194.0 581.8,194.2 582.2,194.3 582.6,194.5 583.0,194.5 583.4,194.6 583.8,194.7 584.2,194.7 584.6,194.8 585.0,194.8 585.5,194.9 585.9,194.9 586.3,195.0 586.7,195.0 587.1,195.0 587.5,195.1 587.9,195.1 588.3,195.1 588.7,195.1 589.1,195.2 589.5,195.2 589.9,195.2 590.3,195.2 590.7,195.3 591.1,195.3 591.5,195.3 591.9,195.3 592.3,195.3 592.7,195.3 593.1,195.3 593.5,195.4 593.9,195.4 594.3,195.4 594.7,195.4 595.1,195.4 595.5,195.4 595.9,195.4 596.3,195.4 596.7,195.4 597.1,195.4 597.6,195.4 598.0,195.4 598.4,195.4 598.8,195.4 599.2,195.4 599.6,195.3 600.0,195.3 600.4,195.3 600.8,195.3 601.2,195.2 601.6,195.2 602.0,195.1 602.4,195.0 602.8,194.9 603.2,194.7 603.6,194.5 604.0,194.0 604.4,193.3 604.8,192.3 605.2,190.8 605.6,188.7 606.0,186.0 606.4,182.8 606.8,179.2 607.2,175.7 607.6,172.6 608.0,170.4 608.4,169.1 608.8,168.6 609.2,168.5 609.7,168.2 610.1,167.6 610.5,166.4 610.9,164.5 611.3,162.3 611.7,159.9 612.1,157.6 612.5,155.7 612.9,154.5 613.3,154.2 613.7,154.7 614.1,156.2 614.5,158.5 614.9,161.4 615.3,164.7 615.7,168.3 616.1,171.9 616.5,175.5 616.9,178.8 617.3,181.9 617.7,184.6 618.1,186.9 618.5,188.9 618.9,190.5 619.3,191.8 619.7,192.8 620.1,193.6 620.5,194.2 620.9,194.7 621.4,195.1 621.8,195.3 622.2,195.5 622.6,195.7 623.0,195.8 623.4,195.9 623.8,196.0 624.2,196.1 624.6,196.1 625.0,196.2 625.4,196.3 625.8,196.3 626.2,196.4 626.6,196.4 627.0,196.4 627.4,196.5 627.8,196.5 628.2,196.5 628.6,196.6 629.0,196.6 629.4,196.6 629.8,196.7 630.2,196.7 630.6,196.7 631.0,196.7 631.4,196.8 631.8,196.8 632.2,196.8 632.6,196.8 633.0,196.9 633.5,196.9 633.9,196.9 634.3,196.9 634.7,196.9 635.1,197.0 635.5,197.0 635.9,197.0 636.3,197.0 636.7,197.0 637.1,197.0 637.5,197.1 637.9,197.1 638.3,197.1 638.7,197.1 639.1,197.1 639.5,197.1 639.9,197.2 640.3,197.2 640.7,197.2 641.1,197.2 641.5,197.2 641.9,197.2 642.3,197.2 642.7,197.3 643.1,197.3 643.5,197.3 643.9,197.3 644.3,197.3 644.7,197.3 645.1,197.3 645.6,197.4 646.0,197.4 646.4,197.4 646.8,197.4 647.2,197.4 647.6,197.4 648.0,197.4 648.4,197.5 648.8,197.5 649.2,197.5 649.6,197.5 650.0,197.5 650.4,197.5 650.8,197.5 651.2,197.5 651.6,197.6 652.0,197.6 652.4,197.6 652.8,197.6 653.2,197.6 653.6,197.6 654.0,197.6 654.4,197.6 654.8,197.7 655.2,197.7 655.6,197.7 656.0,197.7 656.4,197.7 656.8,197.7" fill="none" stroke="#e0432c" stroke-width="1.4" stroke-linejoin="round" />
<text x="229.6" y="40.2" font-size="9.3"><tspan font-style="italic">x</tspan> =</text>
<line x1="246.70" y1="36.90" x2="270.30" y2="36.90" stroke="#1f7f4f" stroke-width="1.3" />
<text x="274.1" y="40.2" font-size="9.3" text-anchor="start" >0</text>
<line x1="246.70" y1="49.50" x2="270.30" y2="49.50" stroke="#f8b73d" stroke-width="0.9" />
<text x="274.1" y="52.8" font-size="9.3" text-anchor="start" >0.01</text>
<line x1="246.70" y1="61.50" x2="270.30" y2="61.50" stroke="#f3a21c" stroke-width="0.9" />
<text x="274.1" y="64.8" font-size="9.3" text-anchor="start" >0.05</text>
<line x1="246.70" y1="74.50" x2="270.30" y2="74.50" stroke="#ec7437" stroke-width="0.9" />
<text x="274.1" y="77.8" font-size="9.3" text-anchor="start" >0.08</text>
<line x1="246.70" y1="86.50" x2="270.30" y2="86.50" stroke="#e0432c" stroke-width="0.9" />
<text x="274.1" y="89.8" font-size="9.3" text-anchor="start" >0.10</text>
<text x="384.2" y="40.2" font-size="9.3"><tspan font-style="italic">x</tspan> =</text>
<line x1="401.00" y1="36.90" x2="424.00" y2="36.90" stroke="#1f7a48" stroke-width="1.2" />
<text x="428.0" y="40.2" font-size="9.3" text-anchor="start" >0</text>
<line x1="401.00" y1="49.50" x2="424.00" y2="49.50" stroke="#fbc46c" stroke-width="1.4" />
<text x="428.0" y="52.8" font-size="9.3" text-anchor="start" >0.01</text>
<line x1="401.00" y1="61.50" x2="424.00" y2="61.50" stroke="#f5a623" stroke-width="1.1" />
<text x="428.0" y="64.8" font-size="9.3" text-anchor="start" >0.05</text>
<line x1="401.00" y1="74.50" x2="424.00" y2="74.50" stroke="#e9592d" stroke-width="1.1" />
<text x="428.0" y="77.8" font-size="9.3" text-anchor="start" >0.08</text>
<line x1="401.00" y1="86.50" x2="424.00" y2="86.50" stroke="#ec6a5e" stroke-width="1.2" />
<text x="428.0" y="89.8" font-size="9.3" text-anchor="start" >0.10</text>
<text x="42.4" y="19.5" font-size="9.3">NaGd<tspan font-size="6.8" dy="2.0">0.6</tspan><tspan dy="-2.0">F</tspan><tspan font-size="6.8" dy="2.0">4</tspan><tspan dy="-2.0">:Tb</tspan><tspan font-size="6.8" dy="2.0">0.4–<tspan font-style="italic">x</tspan></tspan><tspan dy="-2.0">Eu</tspan><tspan font-size="6.8" dy="2.0" font-style="italic">x</tspan><tspan dx="0.7" dy="-2.6" font-size="7.6">@</tspan><tspan dy="0.6">CzPPOA</tspan></text>
<text x="384.4" y="19.5" font-size="9.3">NaGd<tspan font-size="6.8" dy="2.0">0.6</tspan><tspan dy="-2.0">F</tspan><tspan font-size="6.8" dy="2.0">4</tspan><tspan dy="-2.0">:Tb</tspan><tspan font-size="6.8" dy="2.0">0.4–<tspan font-style="italic">x</tspan></tspan><tspan dy="-2.0">Eu</tspan><tspan font-size="6.8" dy="2.0" font-style="italic">x</tspan><tspan dx="0.7" dy="-2.6" font-size="7.6">@</tspan><tspan dy="0.6">CzPPOA</tspan></text>
<text x="155.0" y="47.5" font-size="9.3">Tb<tspan font-size="6.3" dy="-3.6">3+</tspan></text>
<text x="155.0" y="57.9" font-size="9.3"><tspan font-size="6.3" dy="-3.6">5</tspan><tspan dy="3.6">D</tspan><tspan font-size="6.3" dy="1.9">4</tspan></text>
<text x="182.0" y="57.9" font-size="9.3"><tspan font-size="6.3" dy="-3.6">7</tspan><tspan dy="3.6">F</tspan><tspan font-size="6.3" dy="1.9">5</tspan></text>
<path d="M171.2,55.2 H179.2 M176.6,53.4 L179.2,55.2 L176.6,57.0" fill="none" stroke="#231f20" stroke-width="0.75"/>
<line x1="160.50" y1="67.00" x2="160.50" y2="133.00" stroke="#231f20" stroke-width="0.75" />
<path d="M158.3,131 L160.5,137.5 L162.7,131 Z" fill="#231f20"/>
<text x="555.4" y="45.3" font-size="9.3">Eu<tspan font-size="6.3" dy="-3.6">3+</tspan></text>
<text x="555.4" y="55.9" font-size="9.3"><tspan font-size="6.3" dy="-3.6">5</tspan><tspan dy="3.6">D</tspan><tspan font-size="6.3" dy="1.9">0</tspan></text>
<text x="582.2" y="55.9" font-size="9.3"><tspan font-size="6.3" dy="-3.6">7</tspan><tspan dy="3.6">F</tspan><tspan font-size="6.3" dy="1.9">2</tspan></text>
<path d="M571.1,53.2 H579.2 M576.6,51.4 L579.2,53.2 L576.6,55.0" fill="none" stroke="#231f20" stroke-width="0.75"/>
<line x1="562.60" y1="135.60" x2="562.60" y2="70.00" stroke="#231f20" stroke-width="0.75" />
<path d="M560.4,71.5 L562.6,65.2 L564.8,71.5 Z" fill="#231f20"/>
<text x="-0.3" y="7.7" font-size="11" font-weight="bold">a</text>
<text x="342.8" y="7.7" font-size="11" font-weight="bold">b</text>
<text x="-0.3" y="248.6" font-size="11" font-weight="bold">c</text>
<text x="399.4" y="248.6" font-size="11" font-weight="bold">d</text>
<text x="399.4" y="398.2" font-size="11" font-weight="bold">e</text>
<line x1="42.40" y1="93.90" x2="127.00" y2="93.90" stroke="#231f20" stroke-width="0.9" />
<path d="M126,91.8 L131,93.9 L126,96 Z" fill="#231f20"/>
<text x="87" y="101.5" font-size="9.3" font-style="italic" text-anchor="middle">x</text>
<path d="M58,265 H283 V501 H58 Z M111.8,497.6 L111.8,497.6 L111.8,497.6 L111.7,497.6 L111.7,497.6 L111.7,497.6 L111.7,497.6 L111.7,497.6 L111.6,497.6 L111.6,497.7 L111.6,497.7 L111.5,497.7 L111.5,497.7 L111.4,497.7 L111.4,497.7 L111.3,497.7 L111.3,497.7 L111.2,497.7 L111.2,497.7 L111.1,497.6 L111.0,497.6 L110.9,497.5 L110.7,497.4 L110.6,497.3 L110.4,497.2 L110.3,497.1 L110.0,496.9 L109.8,496.7 L109.5,496.5 L109.2,496.3 L108.9,496.0 L108.6,495.7 L108.2,495.4 L107.7,495.0 L107.2,494.6 L106.6,494.1 L106.0,493.6 L105.4,493.0 L104.6,492.4 L103.8,491.6 L102.9,490.8 L102.0,489.8 L101.0,488.6 L99.8,487.2 L98.5,485.3 L97.1,483.0 L95.5,480.2 L93.8,476.9 L91.8,472.8 L89.8,468.0 L87.4,462.2 L84.9,455.5 L82.2,447.7 L79.4,438.8 L76.7,428.6 L73.9,417.3 L71.3,404.8 L68.7,391.5 L66.4,377.7 L64.5,363.7 L63.0,349.9 L62.1,336.5 L61.7,323.7 L62.0,311.8 L63.0,300.8 L64.7,291.2 L67.1,283.1 L70.3,276.6 L73.9,272.0 L78.0,269.2 L82.4,268.0 L87.1,268.2 L91.8,269.3 L96.6,271.1 L101.4,273.3 L106.1,275.8 L110.7,278.4 L115.1,281.1 L119.5,283.9 L123.8,286.9 L128.1,290.1 L132.4,293.3 L136.6,296.7 L140.9,300.1 L145.1,303.6 L149.3,307.2 L153.5,310.9 L157.7,314.6 L161.9,318.4 L166.1,322.2 L170.3,326.0 L174.5,329.9 L178.7,333.7 L182.8,337.6 L187.0,341.5 L191.2,345.3 L195.3,349.2 L199.3,353.0 L203.4,356.8 L207.4,360.5 L211.3,364.2 L215.1,367.8 L218.9,371.4 L222.6,374.9 L226.2,378.2 L229.7,381.5 L233.1,384.7 L236.3,387.7 L239.4,390.6 L242.2,393.3 L244.9,395.8 L247.5,398.3 L250.0,400.6 L252.4,402.6 L254.8,404.5 L257.0,406.2 L259.0,407.8 L260.9,409.2 L262.6,410.6 L264.2,411.8 L265.6,412.9 L266.9,413.9 L268.1,414.8 L269.2,415.7 L270.1,416.4 L271.1,417.1 L271.9,417.8 L272.7,418.4 L273.5,419.0 L274.1,419.5 L274.8,420.0 L275.3,420.5 L275.9,420.9 L276.3,421.2 L276.7,421.6 L277.1,421.8 L277.4,422.1 L277.7,422.3 L278.0,422.5 L278.2,422.7 L278.4,422.9 L278.6,423.0 L278.7,423.1 L278.9,423.2 L279.0,423.3 L279.1,423.4 L279.2,423.5 L279.3,423.5 L279.4,423.6 L279.5,423.7 L279.6,423.8 L279.7,423.8 L279.7,423.9 L279.8,423.9 L279.9,424.0 L279.9,424.0 L279.9,424.0 L280.0,424.1 L280.0,424.1 L280.0,424.1 L280.0,424.1 Z" fill="#fff" fill-rule="evenodd"/>
<line x1="30.60" y1="247.60" x2="30.60" y2="507.30" stroke="#747474" stroke-width="0.75" />
<line x1="30.60" y1="507.30" x2="312.00" y2="507.30" stroke="#747474" stroke-width="0.75" />
<line x1="30.60" y1="499.00" x2="34.60" y2="499.00" stroke="#747474" stroke-width="0.75" />
<text x="26.6" y="502.3" font-size="9.3" text-anchor="end" >0</text>
<line x1="30.60" y1="443.60" x2="34.60" y2="443.60" stroke="#747474" stroke-width="0.75" />
<text x="26.6" y="446.9" font-size="9.3" text-anchor="end" >0.2</text>
<line x1="30.60" y1="388.20" x2="34.60" y2="388.20" stroke="#747474" stroke-width="0.75" />
<text x="26.6" y="391.5" font-size="9.3" text-anchor="end" >0.4</text>
<line x1="30.60" y1="332.80" x2="34.60" y2="332.80" stroke="#747474" stroke-width="0.75" />
<text x="26.6" y="336.1" font-size="9.3" text-anchor="end" >0.6</text>
<line x1="30.60" y1="277.40" x2="34.60" y2="277.40" stroke="#747474" stroke-width="0.75" />
<text x="26.6" y="280.7" font-size="9.3" text-anchor="end" >0.8</text>
<line x1="30.60" y1="471.30" x2="34.60" y2="471.30" stroke="#747474" stroke-width="0.75" />
<line x1="30.60" y1="415.90" x2="34.60" y2="415.90" stroke="#747474" stroke-width="0.75" />
<line x1="30.60" y1="360.50" x2="34.60" y2="360.50" stroke="#747474" stroke-width="0.75" />
<line x1="30.60" y1="305.10" x2="34.60" y2="305.10" stroke="#747474" stroke-width="0.75" />
<line x1="60.60" y1="507.30" x2="60.60" y2="503.30" stroke="#747474" stroke-width="0.75" />
<text x="60.6" y="518.3" font-size="9.3" text-anchor="middle" >0</text>
<line x1="90.00" y1="507.30" x2="90.00" y2="503.30" stroke="#747474" stroke-width="0.75" />
<text x="90.0" y="518.3" font-size="9.3" text-anchor="middle" >0.1</text>
<line x1="119.40" y1="507.30" x2="119.40" y2="503.30" stroke="#747474" stroke-width="0.75" />
<text x="119.4" y="518.3" font-size="9.3" text-anchor="middle" >0.2</text>
<line x1="148.80" y1="507.30" x2="148.80" y2="503.30" stroke="#747474" stroke-width="0.75" />
<text x="148.8" y="518.3" font-size="9.3" text-anchor="middle" >0.3</text>
<line x1="178.20" y1="507.30" x2="178.20" y2="503.30" stroke="#747474" stroke-width="0.75" />
<text x="178.2" y="518.3" font-size="9.3" text-anchor="middle" >0.4</text>
<line x1="207.60" y1="507.30" x2="207.60" y2="503.30" stroke="#747474" stroke-width="0.75" />
<text x="207.6" y="518.3" font-size="9.3" text-anchor="middle" >0.5</text>
<line x1="237.00" y1="507.30" x2="237.00" y2="503.30" stroke="#747474" stroke-width="0.75" />
<text x="237.0" y="518.3" font-size="9.3" text-anchor="middle" >0.6</text>
<line x1="266.40" y1="507.30" x2="266.40" y2="503.30" stroke="#747474" stroke-width="0.75" />
<text x="266.4" y="518.3" font-size="9.3" text-anchor="middle" >0.7</text>
<line x1="295.80" y1="507.30" x2="295.80" y2="503.30" stroke="#747474" stroke-width="0.75" />
<text x="295.8" y="518.3" font-size="9.3" text-anchor="middle" >0.8</text>
<text x="171" y="529.6" font-size="9.3" font-style="italic" text-anchor="middle">x</text>
<text x="6" y="380.5" font-size="9.3" font-style="italic" text-anchor="middle">y</text>
<line x1="104.99" y1="492.71" x2="102.32" y2="495.69" stroke="#5a6db3" stroke-width="0.8"/>
<line x1="102.94" y1="490.77" x2="100.05" y2="493.54" stroke="#5a6db3" stroke-width="0.8"/>
<line x1="100.44" y1="487.95" x2="97.24" y2="490.35" stroke="#5a6db3" stroke-width="0.8"/>
<line x1="97.09" y1="482.99" x2="93.63" y2="485.01" stroke="#5a6db3" stroke-width="0.8"/>
<line x1="92.82" y1="474.96" x2="89.20" y2="476.64" stroke="#4f86c6" stroke-width="0.8"/>
<line x1="87.44" y1="462.24" x2="83.70" y2="463.67" stroke="#4f86c6" stroke-width="0.8"/>
<line x1="80.80" y1="443.41" x2="76.97" y2="444.56" stroke="#5bbfe0" stroke-width="0.8"/>
<line x1="73.95" y1="417.29" x2="70.05" y2="418.17" stroke="#5bbfe0" stroke-width="0.8"/>
<line x1="67.51" y1="384.68" x2="63.56" y2="385.32" stroke="#5bbfe0" stroke-width="0.8"/>
<line x1="63.01" y1="349.86" x2="59.03" y2="350.21" stroke="#7dc98f" stroke-width="0.8"/>
<line x1="61.75" y1="317.62" x2="57.75" y2="317.51" stroke="#7dc98f" stroke-width="0.8"/>
<line x1="64.69" y1="291.19" x2="60.79" y2="290.27" stroke="#86c154" stroke-width="0.8"/>
<line x1="72.04" y1="274.08" x2="68.86" y2="271.64" stroke="#86c154" stroke-width="0.8"/>
<line x1="82.44" y1="268.04" x2="81.74" y2="264.10" stroke="#86c154" stroke-width="0.8"/>
<line x1="94.17" y1="270.14" x2="95.42" y2="266.34" stroke="#86c154" stroke-width="0.8"/>
<line x1="106.08" y1="275.77" x2="107.97" y2="272.24" stroke="#86c154" stroke-width="0.8"/>
<line x1="117.31" y1="282.50" x2="119.49" y2="279.14" stroke="#86c154" stroke-width="0.8"/>
<line x1="128.10" y1="290.06" x2="130.48" y2="286.84" stroke="#86c154" stroke-width="0.8"/>
<line x1="138.75" y1="298.37" x2="141.27" y2="295.26" stroke="#86c154" stroke-width="0.8"/>
<line x1="149.27" y1="307.23" x2="151.88" y2="304.20" stroke="#86c154" stroke-width="0.8"/>
<line x1="159.77" y1="316.48" x2="162.43" y2="313.50" stroke="#86c154" stroke-width="0.8"/>
<line x1="170.29" y1="326.01" x2="172.99" y2="323.06" stroke="#9ac44a" stroke-width="0.8"/>
<line x1="180.76" y1="335.68" x2="183.48" y2="332.75" stroke="#9ac44a" stroke-width="0.8"/>
<line x1="191.17" y1="345.35" x2="193.89" y2="342.42" stroke="#f3a73a" stroke-width="0.8"/>
<line x1="201.37" y1="354.90" x2="204.10" y2="351.99" stroke="#f3a73a" stroke-width="0.8"/>
<line x1="211.27" y1="364.21" x2="214.01" y2="361.30" stroke="#f3a73a" stroke-width="0.8"/>
<line x1="220.77" y1="373.13" x2="223.51" y2="370.21" stroke="#f3a73a" stroke-width="0.8"/>
<line x1="229.71" y1="381.50" x2="232.45" y2="378.58" stroke="#ef6b3b" stroke-width="0.8"/>
<line x1="237.85" y1="389.17" x2="240.59" y2="386.26" stroke="#ef6b3b" stroke-width="0.8"/>
<line x1="244.94" y1="395.82" x2="247.67" y2="392.90" stroke="#ef6b3b" stroke-width="0.8"/>
<line x1="251.17" y1="401.66" x2="253.78" y2="398.63" stroke="#ef6b3b" stroke-width="0.8"/>
<line x1="257.02" y1="406.21" x2="259.47" y2="403.06" stroke="#e8403a" stroke-width="0.8"/>
<line x1="261.79" y1="409.93" x2="264.25" y2="406.77" stroke="#e8403a" stroke-width="0.8"/>
<line x1="265.60" y1="412.89" x2="268.06" y2="409.74" stroke="#e8403a" stroke-width="0.8"/>
<line x1="271.06" y1="417.15" x2="273.52" y2="413.99" stroke="#e8403a" stroke-width="0.8"/>
<line x1="274.77" y1="420.03" x2="277.23" y2="416.87" stroke="#e8403a" stroke-width="0.8"/>
<line x1="277.09" y1="421.84" x2="279.55" y2="418.68" stroke="#e8403a" stroke-width="0.8"/>
<line x1="278.43" y1="422.88" x2="280.89" y2="419.72" stroke="#e8403a" stroke-width="0.8"/>
<line x1="279.57" y1="423.76" x2="282.02" y2="420.61" stroke="#e8403a" stroke-width="0.8"/>
<line x1="280.00" y1="424.10" x2="282.46" y2="420.94" stroke="#e8403a" stroke-width="0.8"/>
<line x1="111.79" y1="497.62" x2="111.79" y2="501.62" stroke="#5a6db3" stroke-width="0.8"/>
<line x1="111.70" y1="497.64" x2="112.61" y2="501.54" stroke="#5a6db3" stroke-width="0.8"/>
<line x1="111.55" y1="497.67" x2="112.17" y2="501.62" stroke="#5a6db3" stroke-width="0.8"/>
<line x1="111.34" y1="497.67" x2="111.34" y2="501.67" stroke="#5a6db3" stroke-width="0.8"/>
<line x1="110.99" y1="497.59" x2="109.14" y2="501.13" stroke="#5a6db3" stroke-width="0.8"/>
<line x1="110.26" y1="497.09" x2="107.80" y2="500.25" stroke="#5a6db3" stroke-width="0.8"/>
<line x1="108.93" y1="495.98" x2="106.35" y2="499.04" stroke="#5a6db3" stroke-width="0.8"/>
<line x1="107.96" y1="495.18" x2="105.42" y2="498.27" stroke="#5a6db3" stroke-width="0.8"/>
<line x1="106.64" y1="494.10" x2="104.09" y2="497.17" stroke="#5a6db3" stroke-width="0.8"/>
<text x="80.0" y="262.0" font-size="9.3" text-anchor="middle" style="fill:#86c154;stroke:#86c154;stroke-width:0.1px">520</text>
<text x="48.5" y="293.0" font-size="9.3" text-anchor="middle" style="fill:#86c154;stroke:#86c154;stroke-width:0.1px">510</text>
<text x="138.5" y="287.0" font-size="9.3" text-anchor="middle" style="fill:#86c154;stroke:#86c154;stroke-width:0.1px">540</text>
<text x="181.3" y="322.6" font-size="9.3" text-anchor="middle" style="fill:#9ac44a;stroke:#9ac44a;stroke-width:0.1px">560</text>
<text x="49.0" y="354.3" font-size="9.3" text-anchor="middle" style="fill:#7dc98f;stroke:#7dc98f;stroke-width:0.1px">500</text>
<text x="222.3" y="361.2" font-size="9.3" text-anchor="middle" style="fill:#f3a73a;stroke:#f3a73a;stroke-width:0.1px">580</text>
<text x="256.5" y="397.4" font-size="9.3" text-anchor="middle" style="fill:#ef6b3b;stroke:#ef6b3b;stroke-width:0.1px">600</text>
<text x="276.8" y="411.2" font-size="9.3" text-anchor="middle" style="fill:#e8403a;stroke:#e8403a;stroke-width:0.1px">620</text>
<text x="289.5" y="428.3" font-size="9.3" text-anchor="middle" style="fill:#e8403a;stroke:#e8403a;stroke-width:0.1px">700</text>
<text x="58.8" y="424.6" font-size="9.3" text-anchor="middle" style="fill:#5bbfe0;stroke:#5bbfe0;stroke-width:0.1px">490</text>
<text x="73.0" y="467.0" font-size="9.3" text-anchor="middle" style="fill:#4f86c6;stroke:#4f86c6;stroke-width:0.1px">480</text>
<text x="82.0" y="493.3" font-size="9.3" text-anchor="middle" style="fill:#5a6db3;stroke:#5a6db3;stroke-width:0.1px">460</text>
<text x="121.5" y="506.2" font-size="9.3" text-anchor="middle" style="fill:#5a5aa8;stroke:#5a5aa8;stroke-width:0.1px">380</text>
<text x="161.4" y="264.4" font-size="9.3">NaGd<tspan font-size="6.8" dy="2.0">0.6</tspan><tspan dy="-2.0">F</tspan><tspan font-size="6.8" dy="2.0">4</tspan><tspan dy="-2.0">:Tb</tspan><tspan font-size="6.8" dy="2.0">0.4–<tspan font-style="italic">x</tspan></tspan><tspan dy="-2.0">Eu</tspan><tspan font-size="6.8" dy="2.0" font-style="italic">x</tspan><tspan dx="0.7" dy="-2.6" font-size="7.6">@</tspan><tspan dy="0.6">CzPPOA</tspan></text>
<text x="280.8" y="281.4" font-size="9.3" text-anchor="middle" >PL</text>
<text x="300.3" y="281.4" font-size="9.3" text-anchor="middle" >EL</text>
<text x="249" y="295.3" font-size="9.3" text-anchor="end"><tspan font-style="italic">x</tspan> = 0</text>
<circle cx="280.6" cy="292.0" r="4.1" fill="#0a0a0a"/>
<circle cx="300.0" cy="292.0" r="3.5" fill="#fff" stroke="#0a0a0a" stroke-width="1.2"/>
<text x="262.0" y="307.9" font-size="9.3" text-anchor="end" >0.01</text>
<circle cx="280.6" cy="304.6" r="4.1" fill="#e30613"/>
<circle cx="300.0" cy="304.6" r="3.5" fill="#fff" stroke="#e30613" stroke-width="1.2"/>
<text x="262.0" y="320.6" font-size="9.3" text-anchor="end" >0.05</text>
<circle cx="280.6" cy="317.3" r="4.1" fill="#009640"/>
<circle cx="300.0" cy="317.3" r="3.5" fill="#fff" stroke="#009640" stroke-width="1.2"/>
<text x="262.0" y="333.3" font-size="9.3" text-anchor="end" >0.08</text>
<circle cx="280.6" cy="330.0" r="4.1" fill="#1d2a87"/>
<circle cx="300.0" cy="330.0" r="3.5" fill="#fff" stroke="#1d2a87" stroke-width="1.2"/>
<text x="262.0" y="346.0" font-size="9.3" text-anchor="end" >0.10</text>
<circle cx="280.6" cy="342.7" r="4.1" fill="#009fe3"/>
<circle cx="300.0" cy="342.7" r="3.5" fill="#fff" stroke="#009fe3" stroke-width="1.2"/>
<circle cx="154.9" cy="358.1" r="4.1" fill="#0a0a0a"/>
<circle cx="193.1" cy="369.0" r="4.1" fill="#e30613"/>
<circle cx="213.7" cy="385.9" r="4.1" fill="#009640"/>
<circle cx="218.8" cy="389.7" r="4.1" fill="#1d2a87"/>
<circle cx="219.6" cy="392.3" r="4.1" fill="#009fe3"/>
<circle cx="143.2" cy="350.1" r="3.5" fill="#fff" stroke="#0a0a0a" stroke-width="1.2"/>
<circle cx="146.1" cy="372.1" r="3.5" fill="#fff" stroke="#e30613" stroke-width="1.2"/>
<circle cx="166.9" cy="375.0" r="3.5" fill="#fff" stroke="#009640" stroke-width="1.2"/>
<circle cx="172.6" cy="379.5" r="3.5" fill="#fff" stroke="#1d2a87" stroke-width="1.2"/>
<circle cx="172.6" cy="383.0" r="3.5" fill="#fff" stroke="#009fe3" stroke-width="1.2"/>
<path d="M154.9,358.1 C168,361 182,364 193.1,369.0 S210,382 219.6,392.3" fill="none" stroke="#111" stroke-width="0.9" stroke-dasharray="2.2,1.8"/>
<path d="M143.2,350.1 L146.1,372.1 C152,374.5 160,373.5 166.9,375.0 L172.6,383.0" fill="none" stroke="#111" stroke-width="0.9" stroke-dasharray="2.2,1.8"/>
<rect x="436.4" y="247.2" width="218.20000000000005" height="107.30000000000001" fill="none" stroke="#747474" stroke-width="0.75"/>
<line x1="436.40" y1="354.50" x2="440.40" y2="354.50" stroke="#747474" stroke-width="0.75" />
<text x="432.4" y="358.1" font-size="9.3" text-anchor="end">10<tspan font-size="6.3" dy="-3.6">0</tspan></text>
<line x1="436.40" y1="307.90" x2="440.40" y2="307.90" stroke="#747474" stroke-width="0.75" />
<text x="432.4" y="311.5" font-size="9.3" text-anchor="end">10<tspan font-size="6.3" dy="-3.6">1</tspan></text>
<line x1="436.40" y1="261.30" x2="440.40" y2="261.30" stroke="#747474" stroke-width="0.75" />
<text x="432.4" y="264.9" font-size="9.3" text-anchor="end">10<tspan font-size="6.3" dy="-3.6">2</tspan></text>
<line x1="436.40" y1="340.47" x2="438.60" y2="340.47" stroke="#747474" stroke-width="0.75" />
<line x1="436.40" y1="332.27" x2="438.60" y2="332.27" stroke="#747474" stroke-width="0.75" />
<line x1="436.40" y1="326.44" x2="438.60" y2="326.44" stroke="#747474" stroke-width="0.75" />
<line x1="436.40" y1="321.93" x2="438.60" y2="321.93" stroke="#747474" stroke-width="0.75" />
<line x1="436.40" y1="318.24" x2="438.60" y2="318.24" stroke="#747474" stroke-width="0.75" />
<line x1="436.40" y1="315.12" x2="438.60" y2="315.12" stroke="#747474" stroke-width="0.75" />
<line x1="436.40" y1="312.42" x2="438.60" y2="312.42" stroke="#747474" stroke-width="0.75" />
<line x1="436.40" y1="310.03" x2="438.60" y2="310.03" stroke="#747474" stroke-width="0.75" />
<line x1="436.40" y1="293.87" x2="438.60" y2="293.87" stroke="#747474" stroke-width="0.75" />
<line x1="436.40" y1="285.67" x2="438.60" y2="285.67" stroke="#747474" stroke-width="0.75" />
<line x1="436.40" y1="279.84" x2="438.60" y2="279.84" stroke="#747474" stroke-width="0.75" />
<line x1="436.40" y1="275.33" x2="438.60" y2="275.33" stroke="#747474" stroke-width="0.75" />
<line x1="436.40" y1="271.64" x2="438.60" y2="271.64" stroke="#747474" stroke-width="0.75" />
<line x1="436.40" y1="268.52" x2="438.60" y2="268.52" stroke="#747474" stroke-width="0.75" />
<line x1="436.40" y1="265.82" x2="438.60" y2="265.82" stroke="#747474" stroke-width="0.75" />
<line x1="436.40" y1="263.43" x2="438.60" y2="263.43" stroke="#747474" stroke-width="0.75" />
<line x1="436.40" y1="354.50" x2="436.40" y2="350.50" stroke="#747474" stroke-width="0.75" />
<text x="436.4" y="365.6" font-size="9.3" text-anchor="middle" >0</text>
<line x1="545.50" y1="354.50" x2="545.50" y2="350.50" stroke="#747474" stroke-width="0.75" />
<text x="545.5" y="365.6" font-size="9.3" text-anchor="middle" >5</text>
<line x1="654.60" y1="354.50" x2="654.60" y2="350.50" stroke="#747474" stroke-width="0.75" />
<text x="654.6" y="365.6" font-size="9.3" text-anchor="middle" >10</text>
<line x1="490.95" y1="354.50" x2="490.95" y2="352.00" stroke="#747474" stroke-width="0.75" />
<line x1="600.05" y1="354.50" x2="600.05" y2="352.00" stroke="#747474" stroke-width="0.75" />
<line x1="654.60" y1="354.50" x2="650.60" y2="354.50" stroke="#747474" stroke-width="0.75" />
<text x="657.1" y="357.8" font-size="9.3" text-anchor="start" >0</text>
<line x1="654.60" y1="318.73" x2="650.60" y2="318.73" stroke="#747474" stroke-width="0.75" />
<text x="657.1" y="322.0" font-size="9.3" text-anchor="start" >10</text>
<line x1="654.60" y1="282.96" x2="650.60" y2="282.96" stroke="#747474" stroke-width="0.75" />
<text x="657.1" y="286.3" font-size="9.3" text-anchor="start" >20</text>
<line x1="654.60" y1="247.19" x2="650.60" y2="247.19" stroke="#747474" stroke-width="0.75" />
<text x="657.1" y="250.5" font-size="9.3" text-anchor="start" >30</text>
<line x1="654.60" y1="336.62" x2="652.10" y2="336.62" stroke="#747474" stroke-width="0.75" />
<line x1="654.60" y1="300.85" x2="652.10" y2="300.85" stroke="#747474" stroke-width="0.75" />
<line x1="654.60" y1="265.07" x2="652.10" y2="265.07" stroke="#747474" stroke-width="0.75" />
<text x="545.3" y="379.0" font-size="9.3" text-anchor="middle" >Voltage (V)</text>
<text transform="translate(411.4,300.6) rotate(-90)" font-size="9.3" text-anchor="middle">Luminance (cd m<tspan font-size="6.3" dy="-3.4">−2</tspan><tspan dy="3.4">)</tspan></text>
<text transform="translate(681.3,302) rotate(-90)" font-size="9.3" text-anchor="middle"><tspan font-style="italic">J</tspan> (mA cm<tspan font-size="6.3" dy="-3.4">−2</tspan><tspan dy="3.4">)</tspan></text>
<text x="444.6" y="261" font-size="9.3">NaGd<tspan font-size="6.8" dy="2.0">0.6</tspan><tspan dy="-2.0">F</tspan><tspan font-size="6.8" dy="2.0">4</tspan><tspan dy="-2.0">:Tb</tspan><tspan font-size="6.8" dy="2.0">0.4–<tspan font-style="italic">x</tspan></tspan><tspan dy="-2.0">Eu</tspan><tspan font-size="6.8" dy="2.0" font-style="italic">x</tspan><tspan dx="0.7" dy="-2.6" font-size="7.6">@</tspan><tspan dy="0.6">CzPPOA</tspan></text>
<text x="443" y="277.90000000000003" font-size="9.3"><tspan font-style="italic">x</tspan> =</text>
<line x1="460.00" y1="274.60" x2="483.00" y2="274.60" stroke="#f7b13b" stroke-width="0.8" />
<rect x="468.93" y="272.13" width="4.94" height="4.94" fill="#f7b13b" stroke="#f7b13b" stroke-width="0"/>
<text x="487.0" y="277.9" font-size="9.3" text-anchor="start" >0.01</text>
<line x1="460.00" y1="287.00" x2="483.00" y2="287.00" stroke="#f29a16" stroke-width="0.8" />
<circle cx="471.40" cy="287.00" r="2.60" fill="#f29a16" stroke="#f29a16" stroke-width="0"/>
<text x="487.0" y="290.3" font-size="9.3" text-anchor="start" >0.05</text>
<line x1="460.00" y1="299.40" x2="483.00" y2="299.40" stroke="#ea6a2c" stroke-width="0.8" />
<path d="M471.40,296.41 L474.69,301.79 L468.11,301.79 Z" fill="#ea6a2c" stroke="#ea6a2c" stroke-width="0"/>
<text x="487.0" y="302.7" font-size="9.3" text-anchor="start" >0.08</text>
<line x1="460.00" y1="311.90" x2="483.00" y2="311.90" stroke="#e54a37" stroke-width="0.8" />
<path d="M471.40,314.89 L474.69,309.51 L468.11,309.51 Z" fill="#e54a37" stroke="#e54a37" stroke-width="0"/>
<text x="487.0" y="315.2" font-size="9.3" text-anchor="start" >0.10</text>
<polyline points="527.8,319.6 549.5,298.5 571.4,281.7 592.9,270.0 615.0,263.9" fill="none" stroke="#f7b13b" stroke-width="0.8" stroke-linejoin="round" />
<polyline points="527.8,354.0 549.5,353.0 571.2,352.3 593.2,350.0 614.6,340.2" fill="none" stroke="#f7b13b" stroke-width="0.8" stroke-linejoin="round" />
<polyline points="523.3,343.2 545.4,310.8 567.3,286.9 588.8,273.6 610.3,266.4" fill="none" stroke="#f29a16" stroke-width="0.8" stroke-linejoin="round" />
<polyline points="523.0,354.0 544.7,353.2 566.7,352.3 588.9,347.4 610.9,335.9" fill="none" stroke="#f29a16" stroke-width="0.8" stroke-linejoin="round" />
<polyline points="527.8,338.5 549.5,304.9 571.4,285.8 592.9,278.7 615.0,269.5" fill="none" stroke="#ea6a2c" stroke-width="0.8" stroke-linejoin="round" />
<polyline points="527.8,354.0 549.5,352.6 571.2,349.0 593.2,343.9 614.6,331.0" fill="none" stroke="#ea6a2c" stroke-width="0.8" stroke-linejoin="round" />
<polyline points="527.8,333.0 549.5,301.2 571.4,287.9 592.9,278.7 615.0,276.6" fill="none" stroke="#e54a37" stroke-width="0.8" stroke-linejoin="round" />
<polyline points="527.8,353.9 549.5,352.3 571.2,348.7 593.2,340.7 614.6,328.2" fill="none" stroke="#e54a37" stroke-width="0.8" stroke-linejoin="round" />
<rect x="525.33" y="317.13" width="4.94" height="4.94" fill="#f7b13b" stroke="#f7b13b" stroke-width="0"/>
<rect x="547.03" y="296.03" width="4.94" height="4.94" fill="#f7b13b" stroke="#f7b13b" stroke-width="0"/>
<rect x="568.93" y="279.23" width="4.94" height="4.94" fill="#f7b13b" stroke="#f7b13b" stroke-width="0"/>
<rect x="590.43" y="267.53" width="4.94" height="4.94" fill="#f7b13b" stroke="#f7b13b" stroke-width="0"/>
<rect x="612.53" y="261.43" width="4.94" height="4.94" fill="#f7b13b" stroke="#f7b13b" stroke-width="0"/>
<rect x="525.62" y="351.81" width="4.37" height="4.37" fill="#fff" stroke="#f7b13b" stroke-width="0.9"/>
<rect x="547.32" y="350.81" width="4.37" height="4.37" fill="#fff" stroke="#f7b13b" stroke-width="0.9"/>
<rect x="569.02" y="350.12" width="4.37" height="4.37" fill="#fff" stroke="#f7b13b" stroke-width="0.9"/>
<rect x="591.02" y="347.81" width="4.37" height="4.37" fill="#fff" stroke="#f7b13b" stroke-width="0.9"/>
<rect x="612.42" y="338.01" width="4.37" height="4.37" fill="#fff" stroke="#f7b13b" stroke-width="0.9"/>
<circle cx="523.30" cy="343.20" r="2.60" fill="#f29a16" stroke="#f29a16" stroke-width="0"/>
<circle cx="545.40" cy="310.80" r="2.60" fill="#f29a16" stroke="#f29a16" stroke-width="0"/>
<circle cx="567.30" cy="286.90" r="2.60" fill="#f29a16" stroke="#f29a16" stroke-width="0"/>
<circle cx="588.80" cy="273.60" r="2.60" fill="#f29a16" stroke="#f29a16" stroke-width="0"/>
<circle cx="610.30" cy="266.40" r="2.60" fill="#f29a16" stroke="#f29a16" stroke-width="0"/>
<circle cx="523.00" cy="354.00" r="2.30" fill="#fff" stroke="#f29a16" stroke-width="0.9"/>
<circle cx="544.70" cy="353.20" r="2.30" fill="#fff" stroke="#f29a16" stroke-width="0.9"/>
<circle cx="566.70" cy="352.30" r="2.30" fill="#fff" stroke="#f29a16" stroke-width="0.9"/>
<circle cx="588.90" cy="347.40" r="2.30" fill="#fff" stroke="#f29a16" stroke-width="0.9"/>
<circle cx="610.90" cy="335.90" r="2.30" fill="#fff" stroke="#f29a16" stroke-width="0.9"/>
<path d="M527.80,335.51 L531.09,340.89 L524.51,340.89 Z" fill="#ea6a2c" stroke="#ea6a2c" stroke-width="0"/>
<path d="M549.50,301.91 L552.79,307.29 L546.21,307.29 Z" fill="#ea6a2c" stroke="#ea6a2c" stroke-width="0"/>
<path d="M571.40,282.81 L574.69,288.19 L568.11,288.19 Z" fill="#ea6a2c" stroke="#ea6a2c" stroke-width="0"/>
<path d="M592.90,275.71 L596.19,281.09 L589.61,281.09 Z" fill="#ea6a2c" stroke="#ea6a2c" stroke-width="0"/>
<path d="M615.00,266.51 L618.29,271.89 L611.71,271.89 Z" fill="#ea6a2c" stroke="#ea6a2c" stroke-width="0"/>
<path d="M527.80,351.36 L530.71,356.12 L524.89,356.12 Z" fill="#fff" stroke="#ea6a2c" stroke-width="0.9"/>
<path d="M549.50,349.96 L552.41,354.72 L546.59,354.72 Z" fill="#fff" stroke="#ea6a2c" stroke-width="0.9"/>
<path d="M571.20,346.36 L574.11,351.12 L568.29,351.12 Z" fill="#fff" stroke="#ea6a2c" stroke-width="0.9"/>
<path d="M593.20,341.25 L596.11,346.02 L590.29,346.02 Z" fill="#fff" stroke="#ea6a2c" stroke-width="0.9"/>
<path d="M614.60,328.36 L617.51,333.12 L611.69,333.12 Z" fill="#fff" stroke="#ea6a2c" stroke-width="0.9"/>
<path d="M527.80,335.99 L531.09,330.61 L524.51,330.61 Z" fill="#e54a37" stroke="#e54a37" stroke-width="0"/>
<path d="M549.50,304.19 L552.79,298.81 L546.21,298.81 Z" fill="#e54a37" stroke="#e54a37" stroke-width="0"/>
<path d="M571.40,290.89 L574.69,285.51 L568.11,285.51 Z" fill="#e54a37" stroke="#e54a37" stroke-width="0"/>
<path d="M592.90,281.69 L596.19,276.31 L589.61,276.31 Z" fill="#e54a37" stroke="#e54a37" stroke-width="0"/>
<path d="M615.00,279.59 L618.29,274.21 L611.71,274.21 Z" fill="#e54a37" stroke="#e54a37" stroke-width="0"/>
<path d="M527.80,356.54 L530.71,351.78 L524.89,351.78 Z" fill="#fff" stroke="#e54a37" stroke-width="0.9"/>
<path d="M549.50,354.94 L552.41,350.18 L546.59,350.18 Z" fill="#fff" stroke="#e54a37" stroke-width="0.9"/>
<path d="M571.20,351.34 L574.11,346.58 L568.29,346.58 Z" fill="#fff" stroke="#e54a37" stroke-width="0.9"/>
<path d="M593.20,343.34 L596.11,338.58 L590.29,338.58 Z" fill="#fff" stroke="#e54a37" stroke-width="0.9"/>
<path d="M614.60,330.84 L617.51,326.08 L611.69,326.08 Z" fill="#fff" stroke="#e54a37" stroke-width="0.9"/>
<line x1="436.40" y1="400.00" x2="436.40" y2="507.30" stroke="#747474" stroke-width="0.75" />
<line x1="436.40" y1="507.30" x2="654.30" y2="507.30" stroke="#747474" stroke-width="0.75" />
<line x1="436.40" y1="507.30" x2="440.40" y2="507.30" stroke="#747474" stroke-width="0.75" />
<text x="432.4" y="510.6" font-size="9.3" text-anchor="end" >0</text>
<line x1="436.40" y1="471.54" x2="440.40" y2="471.54" stroke="#747474" stroke-width="0.75" />
<text x="432.4" y="474.8" font-size="9.3" text-anchor="end" >2</text>
<line x1="436.40" y1="435.78" x2="440.40" y2="435.78" stroke="#747474" stroke-width="0.75" />
<text x="432.4" y="439.1" font-size="9.3" text-anchor="end" >4</text>
<line x1="436.40" y1="400.02" x2="440.40" y2="400.02" stroke="#747474" stroke-width="0.75" />
<text x="432.4" y="403.3" font-size="9.3" text-anchor="end" >6</text>
<line x1="436.40" y1="489.42" x2="438.90" y2="489.42" stroke="#747474" stroke-width="0.75" />
<line x1="436.40" y1="453.66" x2="438.90" y2="453.66" stroke="#747474" stroke-width="0.75" />
<line x1="436.40" y1="417.90" x2="438.90" y2="417.90" stroke="#747474" stroke-width="0.75" />
<line x1="436.40" y1="507.30" x2="436.40" y2="503.30" stroke="#747474" stroke-width="0.75" />
<text x="435.4" y="520.4" font-size="9.3" text-anchor="middle">10<tspan font-size="6.3" dy="-3.6">0</tspan></text>
<line x1="531.10" y1="507.30" x2="531.10" y2="503.30" stroke="#747474" stroke-width="0.75" />
<text x="530.1" y="520.4" font-size="9.3" text-anchor="middle">10<tspan font-size="6.3" dy="-3.6">1</tspan></text>
<line x1="625.80" y1="507.30" x2="625.80" y2="503.30" stroke="#747474" stroke-width="0.75" />
<text x="624.8" y="520.4" font-size="9.3" text-anchor="middle">10<tspan font-size="6.3" dy="-3.6">2</tspan></text>
<line x1="464.91" y1="507.30" x2="464.91" y2="505.10" stroke="#747474" stroke-width="0.75" />
<line x1="481.58" y1="507.30" x2="481.58" y2="505.10" stroke="#747474" stroke-width="0.75" />
<line x1="493.42" y1="507.30" x2="493.42" y2="505.10" stroke="#747474" stroke-width="0.75" />
<line x1="502.59" y1="507.30" x2="502.59" y2="505.10" stroke="#747474" stroke-width="0.75" />
<line x1="510.09" y1="507.30" x2="510.09" y2="505.10" stroke="#747474" stroke-width="0.75" />
<line x1="516.43" y1="507.30" x2="516.43" y2="505.10" stroke="#747474" stroke-width="0.75" />
<line x1="521.92" y1="507.30" x2="521.92" y2="505.10" stroke="#747474" stroke-width="0.75" />
<line x1="526.77" y1="507.30" x2="526.77" y2="505.10" stroke="#747474" stroke-width="0.75" />
<line x1="559.61" y1="507.30" x2="559.61" y2="505.10" stroke="#747474" stroke-width="0.75" />
<line x1="576.28" y1="507.30" x2="576.28" y2="505.10" stroke="#747474" stroke-width="0.75" />
<line x1="588.12" y1="507.30" x2="588.12" y2="505.10" stroke="#747474" stroke-width="0.75" />
<line x1="597.29" y1="507.30" x2="597.29" y2="505.10" stroke="#747474" stroke-width="0.75" />
<line x1="604.79" y1="507.30" x2="604.79" y2="505.10" stroke="#747474" stroke-width="0.75" />
<line x1="611.13" y1="507.30" x2="611.13" y2="505.10" stroke="#747474" stroke-width="0.75" />
<line x1="616.62" y1="507.30" x2="616.62" y2="505.10" stroke="#747474" stroke-width="0.75" />
<line x1="621.47" y1="507.30" x2="621.47" y2="505.10" stroke="#747474" stroke-width="0.75" />
<line x1="654.31" y1="507.30" x2="654.31" y2="505.10" stroke="#747474" stroke-width="0.75" />
<text x="545.2" y="533.8" font-size="9.3" text-anchor="middle">Luminance (cd m<tspan font-size="6.3" dy="-3.4">−2</tspan><tspan dy="3.4">)</tspan></text>
<text transform="translate(419.6,454) rotate(-90)" font-size="9.3" text-anchor="middle">EQE (%)</text>
<polyline points="507.4,416.4 551.6,421.4 584.4,430.4 608.0,453.0 621.4,483.0" fill="none" stroke="#f7b13b" stroke-width="0.8" stroke-linejoin="round" />
<rect x="504.93" y="413.93" width="4.94" height="4.94" fill="#f7b13b" stroke="#f7b13b" stroke-width="0"/>
<rect x="549.13" y="418.93" width="4.94" height="4.94" fill="#f7b13b" stroke="#f7b13b" stroke-width="0"/>
<rect x="581.93" y="427.93" width="4.94" height="4.94" fill="#f7b13b" stroke="#f7b13b" stroke-width="0"/>
<rect x="605.53" y="450.53" width="4.94" height="4.94" fill="#f7b13b" stroke="#f7b13b" stroke-width="0"/>
<rect x="618.93" y="480.53" width="4.94" height="4.94" fill="#f7b13b" stroke="#f7b13b" stroke-width="0"/>
<polyline points="460.0,458.6 525.0,461.0 574.0,466.4 601.0,477.4 615.0,490.6" fill="none" stroke="#f29a16" stroke-width="0.8" stroke-linejoin="round" />
<circle cx="460.00" cy="458.60" r="2.60" fill="#f29a16" stroke="#f29a16" stroke-width="0"/>
<circle cx="525.00" cy="461.00" r="2.60" fill="#f29a16" stroke="#f29a16" stroke-width="0"/>
<circle cx="574.00" cy="466.40" r="2.60" fill="#f29a16" stroke="#f29a16" stroke-width="0"/>
<circle cx="601.00" cy="477.40" r="2.60" fill="#f29a16" stroke="#f29a16" stroke-width="0"/>
<circle cx="615.00" cy="490.60" r="2.60" fill="#f29a16" stroke="#f29a16" stroke-width="0"/>
<polyline points="468.4,472.4 537.0,474.4 577.6,481.4 596.4,487.4 609.6,494.0" fill="none" stroke="#ea6a2c" stroke-width="0.8" stroke-linejoin="round" />
<path d="M468.40,469.41 L471.69,474.79 L465.11,474.79 Z" fill="#ea6a2c" stroke="#ea6a2c" stroke-width="0"/>
<path d="M537.00,471.41 L540.29,476.79 L533.71,476.79 Z" fill="#ea6a2c" stroke="#ea6a2c" stroke-width="0"/>
<path d="M577.60,478.41 L580.89,483.79 L574.31,483.79 Z" fill="#ea6a2c" stroke="#ea6a2c" stroke-width="0"/>
<path d="M596.40,484.41 L599.69,489.79 L593.11,489.79 Z" fill="#ea6a2c" stroke="#ea6a2c" stroke-width="0"/>
<path d="M609.60,491.01 L612.89,496.39 L606.31,496.39 Z" fill="#ea6a2c" stroke="#ea6a2c" stroke-width="0"/>
<polyline points="480.0,481.6 546.0,483.4 570.4,488.4 590.0,494.4 594.6,499.4" fill="none" stroke="#e54a37" stroke-width="0.8" stroke-linejoin="round" />
<path d="M480.00,484.59 L483.29,479.21 L476.71,479.21 Z" fill="#e54a37" stroke="#e54a37" stroke-width="0"/>
<path d="M546.00,486.39 L549.29,481.01 L542.71,481.01 Z" fill="#e54a37" stroke="#e54a37" stroke-width="0"/>
<path d="M570.40,491.39 L573.69,486.01 L567.11,486.01 Z" fill="#e54a37" stroke="#e54a37" stroke-width="0"/>
<path d="M590.00,497.39 L593.29,492.01 L586.71,492.01 Z" fill="#e54a37" stroke="#e54a37" stroke-width="0"/>
<path d="M594.60,502.39 L597.89,497.01 L591.31,497.01 Z" fill="#e54a37" stroke="#e54a37" stroke-width="0"/>
<text x="345.4" y="260.9" font-size="9.3" text-anchor="middle" style="fill:#f4f4f4;stroke:#f4f4f4;stroke-width:0.1px;letter-spacing:0"><tspan font-style="italic">x</tspan> = 0.01</text>
<text x="345.4" y="326.4" font-size="9.3" text-anchor="middle" style="fill:#f4f4f4;stroke:#f4f4f4;stroke-width:0.1px;letter-spacing:0"><tspan font-style="italic">x</tspan> = 0.05</text>
<text x="345.4" y="391.4" font-size="9.3" text-anchor="middle" style="fill:#f4f4f4;stroke:#f4f4f4;stroke-width:0.1px;letter-spacing:0"><tspan font-style="italic">x</tspan> = 0.08</text>
<text x="345.4" y="456.7" font-size="9.3" text-anchor="middle" style="fill:#f4f4f4;stroke:#f4f4f4;stroke-width:0.1px;letter-spacing:0"><tspan font-style="italic">x</tspan> = 0.10</text>
</svg>
</div></body></html>
